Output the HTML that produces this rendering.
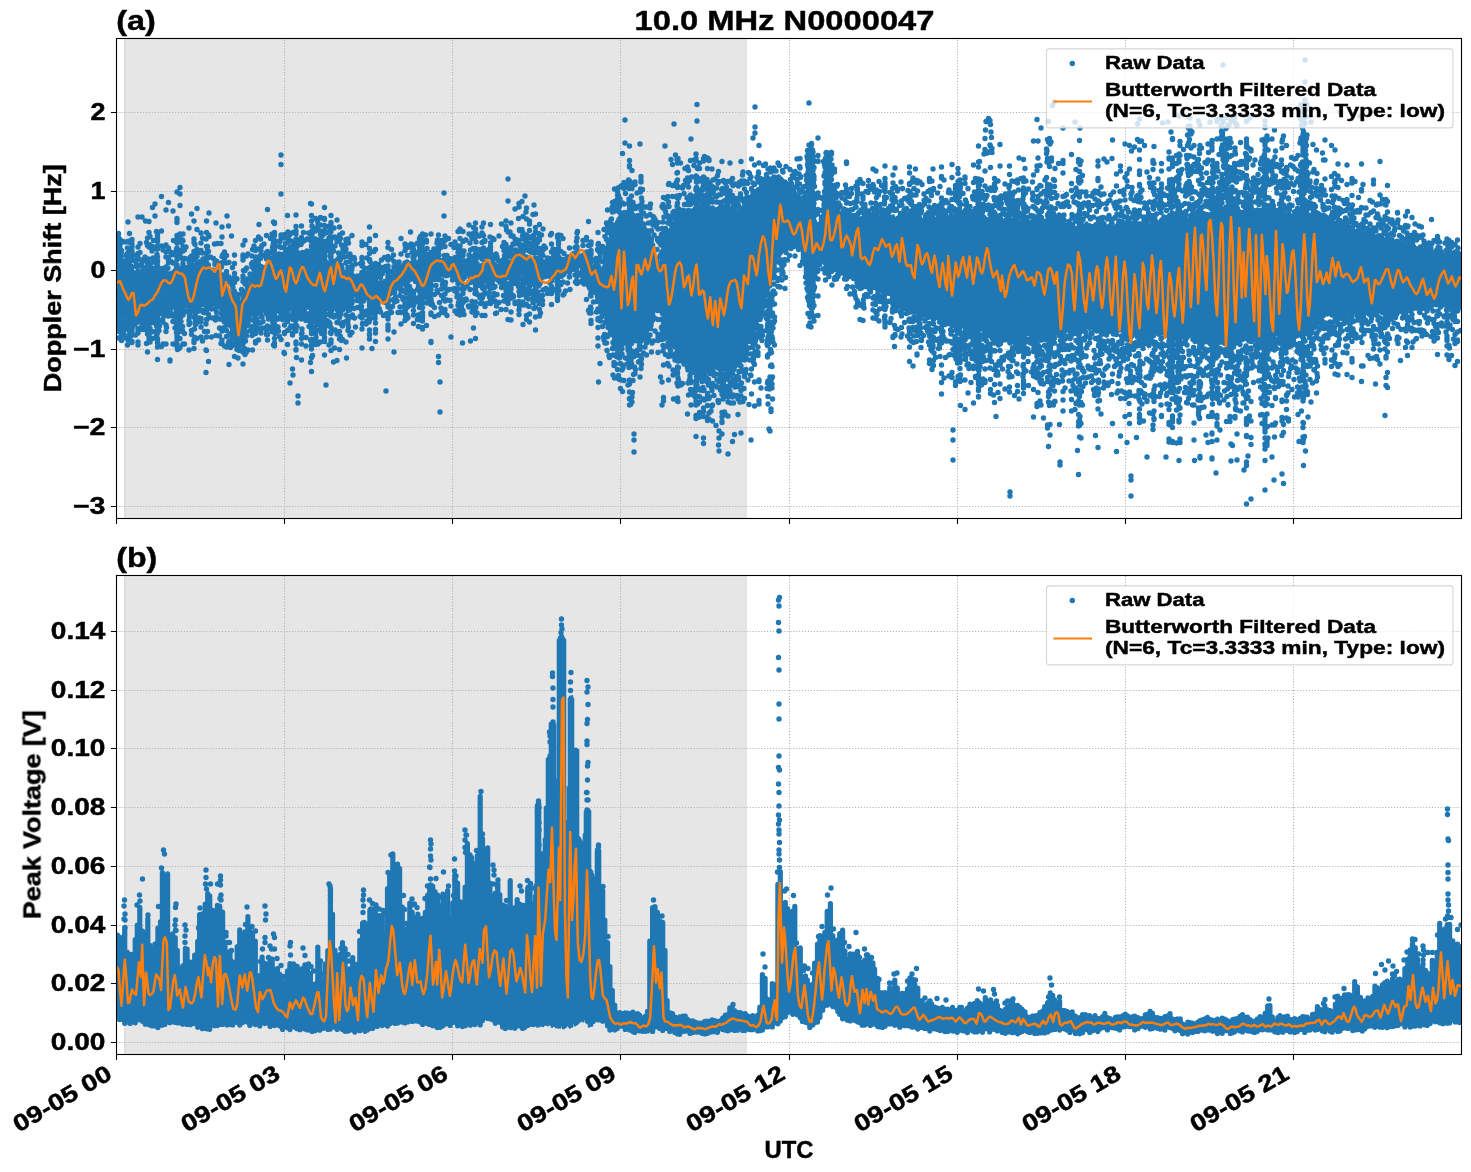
<!DOCTYPE html>
<html><head><meta charset="utf-8"><title>chart</title>
<style>html,body{margin:0;padding:0;background:#fff;overflow:hidden}svg{display:block}text{font-family:"Liberation Sans",sans-serif;font-weight:bold;fill:#000;stroke:#000;stroke-width:0.45px}</style></head>
<body><svg width="1471" height="1172" viewBox="0 0 1471 1172">
<rect width="1471" height="1172" fill="#fff"/>
<rect x="124" y="38.5" width="622.5" height="480.0" fill="#e6e6e6"/>
<rect x="124" y="38.5" width="1.5" height="480.0" fill="#dedede"/>
<rect x="745.7" y="38.5" width="0.9" height="480.0" fill="#dcdcdc"/>
<rect x="124" y="575.5" width="622.5" height="479.0" fill="#e6e6e6"/>
<rect x="124" y="575.5" width="1.5" height="479.0" fill="#dedede"/>
<rect x="745.7" y="575.5" width="0.9" height="479.0" fill="#dcdcdc"/>
<path d="M284.5 518.5V38.5M452.5 518.5V38.5M620.5 518.5V38.5M789.5 518.5V38.5M957.5 518.5V38.5M1125.5 518.5V38.5M1293.5 518.5V38.5M116.5 112.5H1461.5M116.5 191.5H1461.5M116.5 270.5H1461.5M116.5 349.5H1461.5M116.5 427.5H1461.5M116.5 506.5H1461.5M284.5 1054.5V575.5M452.5 1054.5V575.5M620.5 1054.5V575.5M789.5 1054.5V575.5M957.5 1054.5V575.5M1125.5 1054.5V575.5M1293.5 1054.5V575.5M116.5 631.5H1461.5M116.5 690.5H1461.5M116.5 748.5H1461.5M116.5 807.5H1461.5M116.5 866.5H1461.5M116.5 925.5H1461.5M116.5 983.5H1461.5M116.5 1042.5H1461.5" stroke="#b0b0b0" stroke-width="1.1" stroke-dasharray="1.1 1.83" fill="none"/>
<clipPath id="ct"><rect x="116.5" y="38.5" width="1345.0" height="480.0"/></clipPath>
<clipPath id="cb"><rect x="116.5" y="575.5" width="1345.0" height="479.0"/></clipPath>
<g clip-path="url(#ct)" fill="none" stroke-linecap="round" stroke-linejoin="round">
<path d="M117.5 265.9V307.5M119 269.6V308.2M120.5 268V310.2M122 266.9V311.1M123.5 270.4V314.1M125 268.1V312.4M126.5 268.9V316.7M128 273.4V313.4M129.5 276V320.2M131 274.8V319.4M132.5 272.3V316M134 274.9V316M135.5 273.1V316.8M137 272.5V317.8M138.5 275.2V319.8M140 276V318.2M141.5 276.2V318.1M143 276.2V315.5M144.5 279.8V319.5M146 279.1V317.4M147.5 276.3V314.3M149 276.4V313M150.5 279.6V314.7M152 280.4V314.3M153.5 281.1V316.7M155 275.1V312.2M156.5 280.2V313.2M158 280.3V312.2M159.5 274.6V313M161 278.5V310.2M162.5 274.1V310M164 279V311.9M165.5 273.7V308.3M167 273.3V306.5M168.5 277.1V306.6M170 275.4V307.7M171.5 272.9V308.8M173 272.2V307.6M174.5 271.8V305.7M176 272.1V304.2M177.5 276.4V306.8M179 272.1V306.7M180.5 271.2V303.1M182 274.8V304M183.5 270V305.5M185 270.3V300.5M186.5 273.4V300.4M188 270.2V298.2M189.5 268.7V300.7M191 269.3V300.2M192.5 269.8V298.7M194 273V298.3M195.5 270.4V300M197 268.2V295.6M198.5 272.9V299.6M200 269.2V295.8M201.5 272.5V300.3M203 269.5V300.4M204.5 273.9V298.3M206 271.5V295.3M207.5 269.5V300.4M209 271V298.9M210.5 271.4V299.6M212 273.7V296.4M213.5 271.5V299M215 271.1V296M216.5 274.4V299.8M218 276.1V297.8M219.5 280.4V300.4M221 277.5V303.8M222.5 282.6V305.5M224 283.5V310.4M225.5 288.4V311.9M227 289.6V319.5M228.5 295.8V321.1M230 296.6V323.7M231.5 295.5V324.1M233 297.1V333.1M234.5 303.4V337.1M236 301.6V338.9M237.5 306.6V343.2M239 306.8V346.9M240.5 302.4V339.7M242 303.3V337.4M243.5 300.3V331.7M245 297.7V328.4M246.5 292V322.6M248 292.3V319.2M249.5 286.4V314.2M251 286.1V308.4M252.5 282.6V305.5M254 280.8V306.9M255.5 276.3V307.1M257 280.3V308.5M258.5 277.2V305.6M260 275.7V306.7M261.5 272.5V308.3M263 268.8V307.7M264.5 267V306.8M266 268.2V304.6M267.5 268V306.2M269 266V308.8M270.5 262.4V303.3M272 261.1V307.3M273.5 259.4V304.3M275 263.2V307.2M276.5 260.1V308.6M278 259V307.2M279.5 257.9V305.8M281 261.2V308.7M282.5 261.2V305.5M284 259.1V305.1M285.5 256V306.2M287 259.8V308.3M288.5 258.7V308.9M290 255.7V304.3M291.5 256.7V305.1M293 255.3V306.2M294.5 257.8V306.9M296 255.9V309.2M297.5 259.9V307.2M299 254.5V304.9M300.5 259.3V305.2M302 258.3V308.6M303.5 255.9V310.2M305 254.1V306.5M306.5 256.7V306.1M308 259V307.6M309.5 254.9V306.7M311 257.8V309.4M312.5 257.8V310.9M314 258.9V313M315.5 258.1V308.7M317 257.4V308.3M318.5 255.4V309.7M320 260.3V307.6M321.5 258.4V308.2M323 261.7V308.9M324.5 262V309.9M326 261.4V309.8M327.5 265.2V305.2M329 266.2V308.6M330.5 262.1V306.6M332 265.8V309M333.5 265.1V306.4M335 268.8V307.1M336.5 270V304.3M338 269V302M339.5 270.1V304.9M341 270.4V303.6M342.5 268.6V303.9M344 273.9V303.6M345.5 272V301.8M347 271.5V301.7M348.5 275.4V297.6M350 271.6V297.4M351.5 275.1V299.3M353 275.5V294.8M354.5 278.2V295M356 278.9V295.7M357.5 276.8V299.4M359 276.4V295.6M360.5 279.4V299M362 282.1V298.8M363.5 283.5V297.6M365 284.3V295.2M366.5 280.6V297.8M368 281.8V299M369.5 284.5V298M371 286.2V298.5M372.5 283.5V297.6M374 287.2V301M375.5 283.9V300.9M377 288.1V298.6M378.5 285V295.9M380 284V296.9M381.5 283.7V293.3M383 285.1V295.5M384.5 280.9V296.5M386 281.2V293.9M387.5 281.2V290.6M389 279.5V291.9M390.5 281.3V294.2M392 276.4V290.7M393.5 274.7V289.7M395 277.9V291.7M396.5 274.8V287.3M398 272.1V288.2M399.5 275.5V284.4M401 273.6V282.9M402.5 269.1V283.3M404 271.1V282.9M405.5 268.1V283.9M407 265.6V283.7M408.5 264.7V281.5M410 264.3V278.8M411.5 265.5V279.6M413 264.3V278.9M414.5 264.8V276.9M416 262.5V279.2M417.5 264.7V278.1M419 265.6V278.1M420.5 265.2V275.3M422 264.1V278.3M423.5 264.7V274.8M425 260.7V278M426.5 259.8V277.9M428 263.4V272.2M429.5 259.1V275.3M431 258.8V271M432.5 262V272.7M434 261.8V270.9M435.5 259.5V274.3M437 257.2V271.4M438.5 261.1V275.6M440 262.9V270.9M441.5 260.1V274.7M443 260.1V274.3M444.5 258.2V270.6M446 257.7V270.4M447.5 260.4V273.3M449 260.5V271.1M450.5 258.2V271.4M452 262.1V276.1M453.5 262.7V270.8M455 257.8V276.2M456.5 260.5V275.4M458 260V273.9M459.5 261.4V274M461 262.2V271.8M462.5 263.1V277.1M464 260.3V275.1M465.5 263.9V275.1M467 261V273.9M468.5 263.2V273.3M470 265.8V278.3M471.5 264.9V279M473 264.8V276.6M474.5 264.9V277.5M476 267.4V279.4M477.5 263.3V280.1M479 266.4V279.4M480.5 267V277.3M482 267.7V280.2M483.5 266.7V279.7M485 267.3V277.6M486.5 267.3V275.7M488 265.2V278.2M489.5 263.4V277.6M491 267.4V279.3M492.5 265.1V281.3M494 267.9V277.8M495.5 268.1V279.3M497 267.1V278M498.5 269.4V279.1M500 267.1V279.4M501.5 268.3V274.6M503 265.6V278.5M504.5 263V276.1M506 261.2V274.4M507.5 262.7V273.4M509 261.4V277.9M510.5 262.7V275.1M512 264.7V275.1M513.5 264.4V275.1M515 262.8V271.3M516.5 261V275M518 257.4V275.8M519.5 258.3V273.1M521 258.5V273.4M522.5 261.4V270.9M524 263.6V273.1M525.5 261.3V274.3M527 260.5V272.5M528.5 262.4V274.3M530 260.4V275.3M531.5 260.7V271.2M533 260.6V271.5M534.5 260.3V275.8M536 261.9V276.8M537.5 264.2V271.8M539 265.9V277.3M540.5 260.7V277M542 263.1V274.5M543.5 266.7V273M545 264.3V277.2M546.5 265.8V274.4M548 267.6V276.5M549.5 265.7V272.3M551 266.1V274.3M552.5 263.9V271.9M554 266.1V272.3M555.5 265.9V275.6M557 266.3V273.1M558.5 267.4V274.1M560 268.8V274.7M561.5 269.5V276.7M563 267V271.5M564.5 262.2V274.5M566 265.3V272.1M567.5 261.7V269.1M569 262.7V270M570.5 261.1V269.5M572 261.1V266M573.5 257V269.8M575 260V268.3M576.5 253.8V262.6M578 254.8V264.6M579.5 258.1V264.4M581 258.9V266M582.5 257.4V271.3M584 261.4V272.8M585.5 261.6V273.7M587 262V274.9M588.5 266.7V280.1M590 264.2V278M591.5 270.1V283.3M593 270.6V283.8M594.5 269.3V287.1M596 272.4V290.8M597.5 272.2V297.5M599 271V297.8M600.5 271.2V306.1M602 270.1V305.8M603.5 267.7V312M605 256.6V312.8M606.5 248.5V320.7M608 242.2V323.4M609.5 239.8V324M611 233.4V329.5M612.5 229.6V329.4M614 230.5V333.7M615.5 224.8V332.4M617 222.2V337.9M618.5 219.3V336.3M620 218.4V341M621.5 219.4V343.4M623 219.3V340.3M624.5 218.7V339.5M626 215.8V340.1M627.5 219.5V343.1M629 215.3V339.9M630.5 216.1V339.9M632 216.2V340M633.5 215V341.1M635 218.6V341M636.5 218.9V341.1M638 216.2V341.5M639.5 223V336.9M641 220.4V336.6M642.5 226.1V335.2M644 231.2V333.9M645.5 232.8V328.7M647 233.8V331.3M648.5 233.6V325.4M650 240.1V328.6M651.5 238.7V325.3M653 244.8V320.7M654.5 257.1V308.5M656 263.7V302.4M657.5 271.5V296.3M659 268.2V296.4M660.5 264.3V305.7M662 252.6V313.7M663.5 245.1V323.6M665 237.5V330.6M666.5 234.3V335.4M668 232.5V338.8M669.5 230.4V341.9M671 229.3V343M672.5 224.7V346M674 224.5V346.8M675.5 220.3V347.7M677 220.3V355.4M678.5 216.1V353M680 213.2V357.1M681.5 213.3V361M683 211.7V357.4M684.5 211.9V359.8M686 215.6V357.4M687.5 211.2V359.5M689 214.1V362.5M690.5 210.6V358.1M692 211.3V359.1M693.5 211.5V362.5M695 213.4V359.9M696.5 210.8V360.6M698 210.6V363.9M699.5 211.4V363M701 214.5V363M702.5 211.1V365.8M704 215.1V362.9M705.5 212.9V367M707 212.5V362.9M708.5 209.9V367.6M710 214.4V364.6M711.5 212.7V365.8M713 211.2V369M714.5 213.5V364.9M716 209.6V366.3M717.5 211.8V368.2M719 213.8V367.1M720.5 210.5V364.4M722 211.5V365M723.5 214.8V366.6M725 213.4V369.4M726.5 211.2V366.7M728 210.5V368.1M729.5 209.6V368.4M731 214.6V368.4M732.5 210.1V365.1M734 213.9V364M735.5 212.5V366.3M737 214.3V364.9M738.5 212.2V360.2M740 210.3V357.9M741.5 209.5V352.9M743 207.5V350.6M744.5 204.3V349.5M746 200.5V348.4M747.5 199.9V342.2M749 197V339.2M750.5 197.8V338.7M752 195.7V335.5M753.5 192.8V330.2M755 193.9V328.6M756.5 195.1V321.8M758 189.2V315.1M759.5 192.4V309.3M761 183.5V312.6M762.5 179.2V310.8M764 182.9V301.1M765.5 180.8V296.6M767 179.1V293.1M768.5 178.6V286.9M770 179.2V283.8M771.5 178.4V276M773 181.2V271.8M774.5 182.5V268.2M776 181.2V261.8M777.5 181.8V255.4M779 177.8V250.8M780.5 182V253.5M782 180V250.7M783.5 185V250.8M785 181.5V247.6M786.5 182.9V246M788 185.4V244.7M789.5 189.5V245.8M791 188V246.1M792.5 191.2V246.7M794 191.1V243.7M795.5 193.6V241.9M797 195.7V246M798.5 201.5V246.5M800 201.8V245.4M801.5 197.4V249.5M803 198.2V258.6M804.5 195.6V264.2M806 196.8V273.9M807.5 197.5V280M809 192.3V288.1M810.5 195.5V294M812 198.3V291M813.5 207V284.3M815 222.1V275.1M816.5 230.5V269.1M818 231.6V264.4M819.5 228.2V259.3M821 218.9V259M822.5 215.9V261.1M824 208.4V261.9M825.5 202.6V258.5M827 195.2V260.9M828.5 191.1V260.4M830 196.6V260.2M831.5 199.7V260.2M833 204.8V266.4M834.5 207.2V265.8M836 206.1V269M837.5 210.1V271.2M839 212.6V271M840.5 216.1V269.5M842 214.3V269.7M843.5 211.2V271.1M845 216.9V276.5M846.5 214.9V273.5M848 214.9V276.9M849.5 213.1V276.9M851 220.1V269.7M852.5 216.6V273.1M854 216.3V273.4M855.5 218.9V272.8M857 218.7V274.1M858.5 218.9V275.3M860 219.3V274.4M861.5 219.4V275.8M863 221.1V279.4M864.5 218.1V279.1M866 219V281.6M867.5 219.8V282.8M869 218.1V285.1M870.5 220.1V285.1M872 217.5V283.4M873.5 218.4V287M875 218.1V285.6M876.5 217.5V288.7M878 216.8V284.4M879.5 219.2V290.3M881 219.2V289.3M882.5 219.2V288.4M884 218.3V287.8M885.5 215.6V290.8M887 217.9V291.2M888.5 215.3V293.8M890 218.2V291.8M891.5 217V293.5M893 216.6V292.3M894.5 220.7V298.4M896 219.3V298.5M897.5 218V298.9M899 216.8V299.3M900.5 219V301M902 216.2V301.1M903.5 216.5V300.3M905 221.5V297.8M906.5 217.3V300.4M908 217.9V299.7M909.5 221.4V305M911 218.5V303M912.5 219.7V301.9M914 216.4V307.7M915.5 218.2V306.1M917 222V309.7M918.5 219.3V305.8M920 218.3V310.9M921.5 222V307.3M923 221.7V309M924.5 219.6V308.6M926 222.1V314.3M927.5 218.1V312.7M929 218V314.8M930.5 217.1V310.8M932 221.2V312.6M933.5 222.2V316.5M935 221.1V312.7M936.5 221V318.1M938 219.5V313.6M939.5 218.2V315.6M941 221.1V315.5M942.5 217.9V316.3M944 220.8V320.3M945.5 219.1V320.1M947 222.2V320.3M948.5 218.2V319.1M950 222.4V321.9M951.5 218.5V322.4M953 217.4V325M954.5 219.5V322.9M956 220V320.6M957.5 220.4V322.6M959 218.4V326.3M960.5 217.4V323.8M962 221.4V324.2M963.5 218.5V326.6M965 218V329.3M966.5 222.8V324.7M968 219.6V329.6M969.5 219.2V331.1M971 220V326.9M972.5 220.4V330M974 219.3V330.4M975.5 221.9V329.9M977 220.3V332.1M978.5 221.4V330.5M980 223.1V328.7M981.5 222.2V329M983 221.2V329.7M984.5 220.3V333.2M986 222.4V333.6M987.5 219.2V332.1M989 219.2V332.9M990.5 220.9V330M992 221.6V334.3M993.5 221.5V335.6M995 219.2V331.6M996.5 218.3V333.9M998 220.9V333.9M999.5 220V336.4M1001 218.9V337.3M1002.5 221.9V335.4M1004 223.4V333.9M1005.5 219.6V334.6M1007 219V334.9M1008.5 222.6V336.5M1010 220.5V337.2M1011.5 219.5V338.9M1013 220.2V335.4M1014.5 220.2V337.8M1016 224.4V338.3M1017.5 219.9V335.9M1019 221.9V334.5M1020.5 225.7V333.3M1022 223V337.5M1023.5 226.1V333.7M1025 223.1V337.1M1026.5 220.7V333.9M1028 226V333.2M1029.5 223.1V334M1031 223.5V332.5M1032.5 221.3V337.9M1034 225.8V336.1M1035.5 222.8V333.1M1037 224.8V332.9M1038.5 224.4V336.9M1040 224V333.2M1041.5 227.9V334.7M1043 222.4V333.3M1044.5 226.2V331M1046 224.5V334.7M1047.5 227.8V333.9M1049 228V333M1050.5 225.2V335.1M1052 225.3V334.6M1053.5 224.5V331.9M1055 224.4V332.9M1056.5 224.3V330.7M1058 224.6V332.1M1059.5 225.1V331.9M1061 229.2V333.1M1062.5 228.5V330.1M1064 225.6V329.2M1065.5 227.4V330.8M1067 224.9V328.6M1068.5 224.4V329.9M1070 225.6V333.7M1071.5 227.6V329.6M1073 225.4V328.8M1074.5 228.9V329.8M1076 227.9V331.9M1077.5 228.7V327.5M1079 225.2V329.5M1080.5 223.8V332.4M1082 225.2V331.6M1083.5 226.4V327.1M1085 225.6V328.1M1086.5 223.5V327.4M1088 226.9V326.5M1089.5 225.2V328.7M1091 226.5V326.9M1092.5 227.5V327.5M1094 227.6V329.7M1095.5 224.2V326.8M1097 225V329.7M1098.5 225.7V327.8M1100 228.5V327M1101.5 225V327.9M1103 224.6V326.2M1104.5 223.4V329.9M1106 226.7V331.1M1107.5 229.1V328.2M1109 227.3V332.1M1110.5 224.6V330.8M1112 227.3V332.6M1113.5 228.5V328.4M1115 227.1V327.7M1116.5 225.8V329.7M1118 223.6V329.8M1119.5 225.2V330.6M1121 225V328.7M1122.5 225.7V330.8M1124 224.3V332.1M1125.5 224.7V328.8M1127 225.3V330.9M1128.5 224.2V332M1130 227.5V332M1131.5 227.5V328.9M1133 225.6V331.1M1134.5 223.7V331.5M1136 223.6V332.2M1137.5 226.8V332.2M1139 225.2V331.1M1140.5 223.4V331.8M1142 228.5V333.3M1143.5 224.5V334M1145 223.9V333M1146.5 226.4V336M1148 224.7V333.9M1149.5 228V335.2M1151 226V334.5M1152.5 224.5V333.4M1154 223.6V336M1155.5 227V333.5M1157 227.1V331.6M1158.5 222.3V334.6M1160 223.2V333.8M1161.5 227V332.7M1163 222.2V333.3M1164.5 224.9V333.5M1166 220.7V335.5M1167.5 222.9V333.8M1169 223.4V336.5M1170.5 223.5V336.5M1172 223.5V337.8M1173.5 225.8V335M1175 221.9V338.5M1176.5 221.5V337.6M1178 223.7V337.6M1179.5 225.1V338.6M1181 220.2V337.5M1182.5 222V337.3M1184 221V335.8M1185.5 222.8V337.4M1187 219.3V335.9M1188.5 219.4V335.6M1190 220V335.4M1191.5 216.9V335.2M1193 216.7V339.2M1194.5 216.3V337.8M1196 219.8V338.1M1197.5 215.7V340.6M1199 219.5V335.9M1200.5 215.3V338.8M1202 218.1V338.2M1203.5 217.2V337.5M1205 216.7V338.1M1206.5 214V340.9M1208 216.6V341.4M1209.5 214.5V339.1M1211 214.9V340.5M1212.5 215.2V341.7M1214 210.5V339.3M1215.5 213.3V338.6M1217 210V337.4M1218.5 211.9V343.2M1220 213.8V338.5M1221.5 211.6V340.3M1223 210.8V340.3M1224.5 212.2V344M1226 206.4V342.5M1227.5 207V338.4M1229 208.1V342.4M1230.5 212.5V338.6M1232 208.7V337.8M1233.5 210.1V340.4M1235 209.3V339.2M1236.5 212V342.3M1238 209V339.4M1239.5 211.2V341.5M1241 213.5V339.1M1242.5 211.9V339.9M1244 212.7V337.4M1245.5 209.1V337M1247 213.8V337.7M1248.5 211.3V336.8M1250 210.5V336M1251.5 212.1V336.6M1253 212.6V337.2M1254.5 210.3V338.3M1256 211.3V336.8M1257.5 209.6V335.5M1259 214.8V336.8M1260.5 210V335.9M1262 212.6V340.7M1263.5 211.1V339.7M1265 212.9V336.9M1266.5 215V336.6M1268 210.7V337.4M1269.5 214.4V337.7M1271 212.1V339.4M1272.5 215.6V339.6M1274 213.1V338.5M1275.5 214.8V334.4M1277 210.6V334.2M1278.5 211.1V333.5M1280 212.6V337.4M1281.5 212.3V335.8M1283 210.5V333.8M1284.5 216.2V332.5M1286 213.6V337.1M1287.5 215.2V336.5M1289 212.8V336.8M1290.5 215.4V336.4M1292 216.3V332.3M1293.5 216.1V333.9M1295 214.6V332.9M1296.5 215.9V331.4M1298 213.9V332.4M1299.5 212.7V333.1M1301 214.4V335.6M1302.5 212.6V334.5M1304 212.5V332.2M1305.5 215.8V332.3M1307 211V332.2M1308.5 214.9V331.3M1310 214.9V333.2M1311.5 214.5V330.8M1313 211.4V328.7M1314.5 213.4V327.9M1316 211.8V325.9M1317.5 214.7V322.3M1319 216V323.6M1320.5 214.5V320.6M1322 215.7V317.4M1323.5 214.9V316.3M1325 217.4V314M1326.5 216.8V310.7M1328 220.3V309.3M1329.5 218.4V312.3M1331 223.1V310.2M1332.5 219.1V310.4M1334 224.6V309.1M1335.5 223.1V310.5M1337 223.8V309.5M1338.5 224.3V313.6M1340 226.4V312M1341.5 224.9V311.6M1343 223.2V313.3M1344.5 227.3V311M1346 227.8V310.8M1347.5 226.7V309.6M1349 228.7V311.7M1350.5 228.8V308.4M1352 230.1V310.9M1353.5 230.6V311.8M1355 233.2V309.2M1356.5 230.9V314.2M1358 233V310.1M1359.5 233.4V314.2M1361 231.8V313.4M1362.5 230.6V314.2M1364 233.3V309.6M1365.5 235.8V312.1M1367 236.9V313.2M1368.5 236.5V311.3M1370 238.1V308.6M1371.5 237.8V312.5M1373 234.5V313.1M1374.5 236.2V311.5M1376 239.1V309.4M1377.5 236.1V312.1M1379 235.3V311.6M1380.5 240V311.2M1382 237.2V313M1383.5 241.3V312.9M1385 239.9V313.7M1386.5 241.9V309.2M1388 239.7V308.8M1389.5 238.2V310.3M1391 243.6V313.2M1392.5 239.6V309.3M1394 241.7V313.3M1395.5 243.5V313.7M1397 240.7V314.2M1398.5 241.9V311.9M1400 246.4V312.1M1401.5 242.8V311.5M1403 244.6V307.3M1404.5 244.5V308.8M1406 246.7V308.3M1407.5 247V310.4M1409 244.9V306.7M1410.5 248.4V308.5M1412 245.5V306.1M1413.5 250.8V308.7M1415 247.8V306M1416.5 252V308.6M1418 250.9V306.3M1419.5 248.8V306.3M1421 248.2V307.5M1422.5 250.2V308.4M1424 250.5V306M1425.5 251.4V308.7M1427 250.8V307.1M1428.5 250.5V306.1M1430 251.2V307.7M1431.5 251.6V307.3M1433 254.3V304.7M1434.5 256.2V304.1M1436 255.4V305.2M1437.5 254V301.8M1439 254.2V302.9M1440.5 254.7V306.7M1442 254.1V305.1M1443.5 256.6V302.5M1445 255.3V301.8M1446.5 258.5V302.6M1448 255.9V303.2M1449.5 258.6V306.3M1451 257.5V304.5M1452.5 254.9V306.6M1454 255.1V303.5M1455.5 257.1V305.7M1457 259.1V303.4M1458.5 260.8V307.1M1460 255.8V305.2" stroke="#1f77b4" stroke-width="4.5"/>
<path d="M117.5 255h0m0 58.5h0m0.5 7.5h0m0 9h0m0-64h0m0 47.5h0m0-57h0m0 52h0m0-43h0m0 49.5h0m0-49h0m0-21h0m0 17h0m0.5-10h0m0 15.5h0m0-14h0m0 55h0m0-43h0m0 50h0m0-7.5h0m0 6.5h0m0-61h0m0 61h0m0-58.5h0m0 51.5h0m0 4h0m0 7h0m0 11h0m0-2.5h0m0-9h0m0-69h0m0 64h0m0-54.5h0m0-2.5h0m0 52h0m0-44h0m0-10h0m0 61h0m0-6h0m0 4.5h0m0-80h0m0 0.5h0m0 3.5h0m0 3h0m0 1.5h0m0 0.5h0m0 1h0m0 94.5h0m0-73.5h0m0-3h0m0 53.5h0m0-68h0m0 4.5h0m0 13h0m0 59h0m0 5h0m0-12h0m0-4h0m0-45h0m0 43.5h0m0 0.5h0m0 4.5h0m0-49.5h0m0 60h0m0-66.5h0m0-7.5h0m0 65h0m0-55h0m0 69h0m0-73h0m0 58h0m0-66.5h0m1.5 12h0m0 48h0m0 0.5h0m0 21h0m0-3h0m0-61h0m0-21.5h0m0-6.5h0m0 85.5h0m0-10.5h0m0-66h0m0 7.5h0m1 63h0m0-56.5h0m0-6h0m0.5 60h0m0 5h0m0-0.5h0m0 0.5h0m0-60h0m0 6h0m0-26.5h0m0 1.5h0m0 98h0m0-24.5h0m0-65.5h0m0 69.5h0m0 9.5h0m0-66h0m0 5.5h0m0 66.5h0m0-83.5h0m1.5 70h0m0-60h0m0 63.5h0m0-84h0m0 20h0m0 60h0m0.5-60.5h0m0 72.5h0m1-66.5h0m0 49.5h0m1 12.5h0m0-59.5h0m0.5 68.5h0m0-23h0m0-49h0m0-24h0m0 22h0m0 63.5h0m0-72h0m0.5 60h0m0-47h0m1 4h0m0-24.5h0m0 15h0m0-9.5h0m0 2.5h0m0-14.5h0m0 103.5h0m0-86h0m0 3h0m0.5 62h0m0-4h0m0-3h0m0 4h0m0 5h0m0 0h0m0 14h0m0-118h0m0.5 103.5h0m0-53.5h0m0 55.5h0m0-64h0m0.5 71.5h0m0-4.5h0m0-81h0m0 18.5h0m0-4h0m0 66h0m0-60.5h0m0 51.5h0m0 5.5h0m0.5-69.5h0m0-23.5h0m0 7.5h0m0 96.5h0m0-63.5h0m0 47h0m0-1.5h0m0-57h0m0.5 64h0m0-58.5h0m0 49.5h0m0 9.5h0m0-78.5h0m0 85h0m0-85h0m0-6h0m0.5 9.5h0m0 16h0m0 68.5h0m1-77h0m0 13.5h0m0-13.5h0m0 9h0m0-2h0m0-6h0m0 60.5h0m0.5-70h0m0 68.5h0m0-68.5h0m0 2.5h0m0 18h0m0 52h0m0 4.5h0m0-88.5h0m0 0.5h0m0 84.5h0m0 18h0m0-7.5h0m0-11.5h0m0-48.5h0m0-16h0m0-15h0m0 3h0m0 83.5h0m0-8.5h0m0 19.5h0m0-69.5h0m0 0h0m0 52h0m0-4.5h0m0-47h0m0.5 54.5h0m0.5-4.5h0m0.5-67.5h0m1.5 62.5h0m0-43.5h0m0 50.5h0m0-63.5h0m0.5 60h0m0 14h0m0.5-72.5h0m0.5 60.5h0m0-56.5h0m0.5 54h0m0.5-44.5h0m0-18h0m0.5 60h0m0-101h0m0 30h0m0 98h0m0-87.5h0m0 71.5h0m0-71.5h0m0 74.5h0m0-78.5h0m0 77.5h0m0 2h0m0-59.5h0m0 46.5h0m0 22h0m0-71h0m0 1h0m0 47h0m0.5 0.5h0m0-60.5h0m1.5 62h0m0-68.5h0m0 20.5h0m0-7.5h0m0 63h0m0-85h0m2 22.5h0m0-6h0m0 66h0m0-2.5h0m0-6.5h0m0-45.5h0m0-10h0m0-44.5h0m0 103h0m0-47.5h0m0 45.5h0m0.5-56.5h0m0 68h0m0.5-61h0m0.5 49h0m1.5 12h0m0-72.5h0m0 17h0m0 49h0m0-50.5h0m0 55.5h0m0.5-59h0m0-48h0m0 101h0m0-52.5h0m1 49h0m0-57.5h0m0-18.5h0m0 101h0m0-76h0m0 54h0m0-47h0m0 52h0m1-60h0m0 67.5h0m0-71h0m0 63.5h0m0-7h0m0-81.5h0m0 7.5h0m0 106.5h0m0-90.5h0m0 65.5h0m0-60h0m0.5 7h0m0 43.5h0m0-55.5h0m0.5 14h0m0-2h0m0-2.5h0m0 46.5h0m0-59h0m0 58h0m0-53h0m0 14h0m0 41.5h0m0-1.5h0m0 13h0m0-9h0m0.5-50.5h0m0-50h0m0 11h0m0 0h0m0 12h0m0 2.5h0m0 93.5h0m0-3h0m0-72.5h0m0 61h0m0-58h0m0 4h0m0 1h0m0 51.5h0m0-9.5h0m0-41.5h0m0 63h0m0-11h0m0-62h0m0.5 14.5h0m0.5-14h0m0 6h0m0-6h0m0 9h0m0 1h0m0-9h0m0 63.5h0m0-92h0m0 8.5h0m0 1h0m0 96h0m0-9h0m0-57h0m0 46h0m0 1h0m0-4h0m1.5-43.5h0m0 43h0m0.5-67.5h0m0.5 80.5h0m0-124h0m0 39h0m0 92h0m0.5-80.5h0m0 10.5h0m0 50h0m0-46.5h0m0 50.5h0m0.5-2h0m0-80h0m0 76h0m0-54.5h0m0 9h0m1 43.5h0m0.5-36.5h0m0-74h0m0 12h0m0.5 59.5h0m1 60h0m0-57.5h0m0-19h0m0 15.5h0m0 42.5h0m0 7h0m0 1h0m0 1h0m0-59h0m0-35.5h0m0 17.5h0m0 88.5h0m0.5-83h0m0 76h0m0-59h0m0-3h0m0 9.5h0m0-9.5h0m0 6.5h0m0-0.5h0m0-9h0m0 9.5h0m0 59h0m0-79h0m0 20.5h0m0-13.5h0m0 15.5h0m0 54h0m0-73.5h0m0 3.5h0m0 8h0m0 48.5h0m0.5-51h0m0 56h0m0-89h0m0 1.5h0m0 2h0m0 1.5h0m0 2.5h0m0 0h0m0 4.5h0m0 1h0m0 2h0m0 89.5h0m0 2.5h0m0 2h0m0 4h0m0 12.5h0m0-43h0m0-39.5h0m0 49h0m0-65h0m0 64.5h0m0-7h0m0 3h0m0-55.5h0m0 62h0m0-66h0m0 56.5h0m0 7.5h0m0-65.5h0m0 56h0m0-4h0m0-55.5h0m0 75.5h0m0 0.5h0m0-19h0m0 13h0m1-1.5h0m0-52.5h0m0.5-3.5h0m0 61h0m0-58.5h0m0.5 54h0m0-48h0m0.5 35.5h0m0.5-38h0m1 37h0m0 8h0m0-124h0m0 34.5h0m0 15h0m0 100.5h0m0-69.5h0m0 36h0m0.5-37h0m0 35.5h0m0-34.5h0m0-8.5h0m0.5 51h0m0.5-72h0m0 96.5h0m0-22h0m0-50h0m0-22h0m1 19.5h0m0 46.5h0m0-47.5h0m0.5 47.5h0m1.5 9h0m0-49h0m0-19h0m0 19h0m0-24h0m0-42h0m0 35h0m0 99h0m0-29.5h0m0 17h0m0-64.5h0m0 42.5h0m0.5-0.5h0m0-36h0m0 54.5h0m1-18h0m0.5-41.5h0m0.5 46.5h0m0 1.5h0m0-113.5h0m0 45.5h0m0 11.5h0m0 3h0m0 52.5h0m0-41h0m0.5 35.5h0m0.5-35h0m0.5 85.5h0m0 1h0m0.5-45.5h0m0-63.5h0m0.5 3h0m0 58.5h0m0-52h0m0.5 53.5h0m1-41.5h0m0.5-10.5h0m0-52h0m0 133h0m0-28h0m0 5.5h0m0-47.5h0m0.5-19.5h0m0-1.5h0m0 62.5h0m0-75h0m0 74.5h0m0.5-41h0m0 40h0m1 14h0m0-57h0m1.5-16h0m0 17.5h0m0-23h0m0 65.5h0m0-4.5h0m0-4h0m0 26h0m0-65h0m0-0.5h0m0 3.5h0m0 53h0m0 2.5h0m0-18h0m0 17.5h0m0-16h0m0-45h0m0 1h0m0 7h0m0 36h0m0-44h0m0 0.5h0m0-16h0m0 65h0m0 12.5h0m0-56.5h0m0.5-78h0m0 26.5h0m0 2h0m0 2h0m0 13h0m0 3.5h0m0 1h0m0 1.5h0m0 1.5h0m0 94h0m0 3h0m0 4h0m0 2.5h0m0-34.5h0m0 15.5h0m0-56h0m0-6.5h0m0 54h0m0 5.5h0m0-76.5h0m0 22.5h0m0 65h0m0-2h0m0-76.5h0m0 57.5h0m0-0.5h0m0-45.5h0m0 42h0m0-51h0m0 72h0m0-63h0m0.5 81h0m0-38h0m1.5 37h0m0-96h0m0 65h0m0-1.5h0m0-61.5h0m0.5 69h0m0.5 2.5h0m0-57h0m0-12h0m0-69.5h0m0 6.5h0m0 11.5h0m0 104.5h0m0 2h0m0 18h0m0-72.5h0m0 74h0m0-18h0m0-41h0m0-38.5h0m0 4.5h0m0 3.5h0m0 96.5h0m0 9h0m0-92.5h0m0.5 62.5h0m0-5h0m0-39.5h0m0-22h0m0 80h0m0.5-80.5h0m0 71h0m1.5-54h0m0-27.5h0m0 86.5h0m0 4h0m0.5-23.5h0m0-42.5h0m0-5h0m0-8.5h0m0 64h0m0-81h0m0 7h0m0 103h0m0-38h0m0-59.5h0m0 64h0m0-47h0m0 40.5h0m0-45h0m0.5 47.5h0m0-48h0m0 43h0m1 32h0m0 10.5h0m0-94h0m0.5 8.5h0m1-11.5h0m0 64.5h0m1-8.5h0m0-35h0m0 38h0m0.5-38.5h0m1.5 57h0m0-63.5h0m0 59.5h0m0-52.5h0m0-40h0m0 122h0m0.5-43.5h0m0-0.5h0m0 11h0m0-54h0m0 52h0m0.5-57.5h0m0 65.5h0m0-13.5h0m0-39.5h0m0 41h0m1.5 19.5h0m0-69.5h0m0 5.5h0m0-52.5h0m0 120.5h0m0-78.5h0m0.5 42.5h0m0 8.5h0m0-4.5h0m0-31.5h0m0.5 34h0m1-2h0m0-45h0m0.5 58.5h0m0-5h0m0-41.5h0m0-17.5h0m0 58.5h0m0-3.5h0m0 2h0m0-58h0m0 47.5h0m0 3h0m0-32h0m0-4.5h0m0-44.5h0m0 18h0m0 3h0m0 0.5h0m0 97.5h0m0 2.5h0m0 6h0m0-83h0m0 1h0m0 4h0m0 33h0m0.5 25.5h0m0-12.5h0m0 1h0m0-6h0m0-10h0m0.5-46h0m0-11h0m0 93h0m0.5-28.5h0m0-49.5h0m0 62h0m0-5.5h0m0 8.5h0m1-17.5h0m0.5-57.5h0m0 49h0m0 9.5h0m0-99.5h0m0 21h0m0 109h0m0-82h0m0 55h0m0 10h0m0-18.5h0m0-33.5h0m0 28.5h0m0 24.5h0m0-58.5h0m0-10.5h0m0.5 11h0m1 42h0m0.5 4.5h0m0.5 7h0m0.5-46.5h0m0.5-10h0m0-9h0m0.5-2h0m0-17.5h0m0 10h0m0 94h0m0-15.5h0m0-18.5h0m0 24h0m0-60.5h0m0 33h0m0 5.5h0m0 13.5h0m0.5-50h0m0.5 42h0m0.5-9h0m0-0.5h0m0-2.5h0m0-33.5h0m0-27h0m0 103h0m0-38h0m0-50h0m0.5 17.5h0m0-11.5h0m0.5 53.5h0m1 0h0m0 19h0m0.5-61.5h0m0.5-9h0m0 44h0m0-5h0m0.5-61h0m0 111h0m0 22.5h0m0-72.5h0m0-38.5h0m0-3.5h0m0 5h0m0 46h0m0 15h0m0.5-24h0m0 12h0m0 7.5h0m0-55h0m0-11h0m0 53h0m0 6h0m0-91.5h0m0 11.5h0m0 14h0m0 90.5h0m0 13.5h0m0-43.5h0m0-36.5h0m0-7.5h0m0 2.5h0m0 42.5h0m0.5-5.5h0m0-35.5h0m0 52.5h0m0-48h0m0 30h0m0.5-1h0m0-50h0m0 58h0m0-62h0m0 85h0m0.5-34.5h0m0-39h0m0 13.5h0m0.5-20h0m0-16.5h0m0 126.5h0m0-53h0m0-8h0m0 14h0m0-49.5h0m0 36.5h0m0.5-29.5h0m0 45.5h0m0-104.5h0m0 23.5h0m0 70.5h0m1.5-50h0m0 43.5h0m0 8h0m1 0.5h0m0 28h0m0-65h0m0 32.5h0m1 13.5h0m0-48h0m1 29h0m0-40.5h0m1-14.5h0m0 57.5h0m0.5-27.5h0m0-9.5h0m0-1.5h0m0.5 57h0m0-11h0m0.5-46.5h0m0 1.5h0m0 7h0m0-48h0m0 112.5h0m0.5-74.5h0m0 51h0m0-5.5h0m0-0.5h0m0 10.5h0m1-51h0m0-22h0m0 56.5h0m1.5 2.5h0m0-26h0m0-4.5h0m0.5 64h0m0-8h0m0-53.5h0m0 44.5h0m1.5-52h0m0 38.5h0m0-62h0m0 100h0m0-37.5h0m0-43h0m0 45h0m0-31h0m0 26.5h0m0.5 10h0m0-48h0m0 53.5h0m0-52h0m0.5 8h0m0-18.5h0m0 22.5h0m0 39.5h0m0-42.5h0m0 30.5h0m0-79.5h0m0 10h0m0 103h0m0 3.5h0m0-32h0m0-6h0m0-30.5h0m0 56h0m0-51.5h0m0 33h0m0-35h0m0 31h0m1-28.5h0m0 48h0m0-45.5h0m0 32.5h0m0-60.5h0m0 57h0m0 7.5h0m0-36.5h0m0-2.5h0m1 41h0m0 9h0m0-13.5h0m0-55h0m0.5 14h0m0-13.5h0m0-10h0m0 5h0m0 89h0m0-27h0m0-33h0m0-27.5h0m0 26h0m0 32h0m0 5.5h0m1-48h0m0 47.5h0m0.5-58.5h0m0.5 14h0m0-4h0m0 43.5h0m0-61h0m0 91.5h0m0-16.5h0m0 6h0m0-65h0m0 53.5h0m0.5-109h0m0.5 62.5h0m1-52.5h0m0 65h0m0 51.5h0m0-49.5h0m0.5-16h0m0 45.5h0m0-30h0m0-30h0m0 102h0m0-82.5h0m0 11.5h0m0 31.5h0m0-48h0m0.5 64h0m0-7h0m0.5-55h0m0.5 68.5h0m1-111.5h0m0 90.5h0m0.5-41.5h0m0 52h0m0.5-5.5h0m0 14h0m0-51h0m0 1.5h0m0 37h0m0-65.5h0m0 61h0m0.5-46.5h0m0 10.5h0m0-5h0m0.5 10h0m0 45.5h0m1-1h0m0-3.5h0m0-65h0m0 9h0m0 9h0m0-9.5h0m0-27h0m0 8.5h0m0 93h0m0-79.5h0m0.5 61h0m0.5-35h0m1-24.5h0m0.5 27.5h0m0-27h0m0 23h0m0 44h0m0 3.5h0m0.5-51h0m0.5 59.5h0m0-14h0m0-49.5h0m1 56h0m0.5-43.5h0m1-4.5h0m0 39h0m1-52h0m0 46.5h0m1 9h0m0-10h0m0-42.5h0m0.5 4.5h0m0 0.5h0m0 3h0m0-6h0m0 46.5h0m0-39.5h0m0 35.5h0m0-61h0m0-31h0m0 10h0m0 2h0m0 3h0m0 104h0m0-21h0m0-52h0m0 44.5h0m0-3h0m0 11h0m0 8.5h0m0-11.5h0m0-49h0m0 3.5h0m0 1h0m0 6h0m0-8h0m0-16h0m0 3.5h0m0.5 55.5h0m0-66.5h0m0 79h0m1-1h0m0-8h0m0.5 0.5h0m0-70.5h0m0 22h0m0-52h0m0 114h0m0-58h0m0-12.5h0m0.5 57h0m0-47.5h0m1-0.5h0m0 29h0m0-29.5h0m0 39.5h0m0-10h0m0 14h0m0-56.5h0m0-23.5h0m0 96h0m0-84h0m0.5 57.5h0m0.5-46.5h0m0 8.5h0m0.5 36h0m0 2h0m0-71.5h0m0 96h0m0-34h0m0-36.5h0m0 5.5h0m0.5 34.5h0m1 0h0m0-40h0m0.5-5.5h0m0.5 56.5h0m0.5-16h0m0.5-50.5h0m0.5 71.5h0m0-68.5h0m0-11h0m0 50h0m0-25h0m0.5 45.5h0m0-77h0m0 100.5h0m0-16h0m0-55.5h0m0 31.5h0m0-47.5h0m0 65h0m0-18h0m0 10.5h0m0-41h0m0-4.5h0m0.5 1.5h0m0 51.5h0m1-63.5h0m0 10h0m0 38.5h0m0 21.5h0m0-65h0m0-23h0m0 84h0m0-22.5h0m0-38h0m0.5 60.5h0m0-51.5h0m1 39h0m0-56h0m0 51h0m0-39h0m0 32.5h0m0 14.5h0m0-6h0m0-50.5h0m0 46h0m0-1.5h0m0 22.5h0m0-59.5h0m0-31h0m0 10h0m0 91h0m0 1.5h0m0-30h0m0-6h0m0-27.5h0m0-19h0m0 62h0m0 11h0m0.5-69.5h0m0-7h0m0 50h0m0-43.5h0m0 12.5h0m0-5h0m0 7.5h0m0.5-9h0m0 60.5h0m0-64h0m0 59.5h0m0-76.5h0m0 24h0m0 5h0m0 50.5h0m0.5-61.5h0m0 63h0m0-11h0m0-12h0m0.5-43.5h0m0.5 50h0m0-51h0m0.5 9h0m0-7.5h0m0-27h0m0 103h0m0-29h0m0 11.5h0m0-15.5h0m0 3h0m0-50h0m0 51h0m0-34.5h0m0.5 32.5h0m0-43h0m0 3h0m0-44.5h0m0.5 83.5h0m1 1.5h0m0-54h0m0 50h0m0 24h0m0-6.5h0m0-64.5h0m0-19.5h0m0.5 17.5h0m0-5.5h0m0 77.5h0m0 4.5h0m0-18.5h0m0-48h0m0-19h0m1 69.5h0m0-71.5h0m1 76h0m0-52h0m1-25.5h0m0 11.5h0m0 72.5h0m0-18h0m1.5-40.5h0m0.5 40.5h0m0.5 3.5h0m0-54.5h0m0-23.5h0m0 99h0m0-78h0m0 77h0m0-3.5h0m0-77.5h0m1 73.5h0m0-67h0m0-7.5h0m0 77.5h0m0-119.5h0m0 130.5h0m0-5.5h0m0.5-79.5h0m0 3.5h0m0 58h0m0-61h0m0.5 55h0m0 8.5h0m1-61h0m0.5 57.5h0m0-3.5h0m0-59.5h0m0.5-14h0m0 21h0m0.5 68h0m1-93.5h0m0 97.5h0m0.5-20.5h0m0 10h0m0-73.5h0m0 4h0m0.5 57h0m0-72.5h0m0 75.5h0m0-66h0m0 77.5h0m0 0.5h0m0-88h0m0.5 7h0m0 18.5h0m0 59h0m0-98h0m0 123h0m0-107.5h0m0 88h0m0-8.5h0m0-59h0m0.5-3.5h0m0-2h0m0 65.5h0m0.5-10.5h0m0-52.5h0m0-6.5h0m0-4h0m0-12h0m0 24.5h0m0-21.5h0m0 78.5h0m0-54h0m0 60h0m0-63h0m0 54.5h0m0-61.5h0m0 10.5h0m0 69h0m0-21.5h0m0-85.5h0m0 0h0m0 1h0m0 115h0m0 4.5h0m0 3h0m0-111.5h0m0 80h0m0-6.5h0m0 16h0m0-9.5h0m0-68h0m0 63h0m0 8.5h0m0-6.5h0m0.5 22h0m0-24h0m0-50.5h0m0 0.5h0m0-4h0m0 70h0m1.5-20h0m0-64h0m1.5 77.5h0m0-62.5h0m0 70.5h0m0-66h0m0-2h0m0 59h0m0.5 13h0m0.5-77h0m0 0.5h0m0.5 82h0m0-90h0m0 65h0m0.5-70h0m0.5 69.5h0m0.5 5h0m0-81h0m0 78.5h0m0 26h0m0-84.5h0m0-17h0m0-83h0m0 9.5h0m0 29.5h0m0 112h0m0-58.5h0m1.5 7h0m0 65h0m1.5-8.5h0m0 41.5h0m0-114.5h0m0 67.5h0m0-50h0m0-8h0m0 58h0m0.5 48h0m0-97h0m0 68.5h0m0 8.5h0m0-99h0m0 23h0m0 75h0m0-18h0m0.5 4.5h0m0.5-67h0m0-8.5h0m0 72.5h0m1.5-59.5h0m0 52h0m0.5 22h0m0-78h0m0-3h0m0-7h0m0 71h0m0-75.5h0m0 69h0m0-56.5h0m0-35h0m0 129h0m0-34h0m0 11h0m0.5-89.5h0m0.5 98h0m1-90h0m0.5 77.5h0m0-9.5h0m0 75h0m0-65h0m0-77.5h0m0-6h0m0 93.5h0m0-80.5h0m0.5 4.5h0m0.5 74h0m1-80h0m0 61h0m0-55h0m0.5 117h0m0-34h0m0-1.5h0m0-79h0m0 60h0m0.5-61.5h0m0 61.5h0m0-82h0m0 78h0m0-56h0m0 58.5h0m0 14.5h0m0 47.5h0m0-55.5h0m0-71h0m0-7h0m0.5 64.5h0m1.5 24h0m0-83.5h0m0.5 70.5h0m0-9.5h0m0-67.5h0m0 90.5h0m0-85.5h0m0 79.5h0m0-79h0m0 61.5h0m0.5 0h0m0-50.5h0m0 74h0m0-99.5h0m0 100h0m0-85h0m0-1.5h0m0 65.5h0m0-71h0m0-5h0m0 0h0m0 20.5h0m0-28h0m0 86.5h0m0-68.5h0m0-29.5h0m0 127h0m0 2h0m0 5.5h0m0 0.5h0m0-35.5h0m0-59h0m0 64.5h0m0-0.5h0m0-0.5h0m0 6h0m0-76h0m0.5 61.5h0m0 47h0m0.5-47h0m0-64h0m0-7h0m0 2.5h0m0 84.5h0m0.5-74h0m0.5 143.5h0m0 7h0m0-85.5h0m0-61.5h0m1 57h0m0.5-58h0m0.5-0.5h0m0 53h0m1-63h0m0.5 11h0m0 78.5h0m0-94h0m0 74.5h0m0 4.5h0m0 25h0m0 16h0m0-48.5h0m0 27h0m0-112.5h0m0 81.5h0m0 0.5h0m0-70.5h0m0 16.5h0m0 3.5h0m0.5 54h0m0 17.5h0m0 4h0m0.5-80.5h0m0-10.5h0m1-9.5h0m0 80.5h0m1-3.5h0m0-69h0m1.5 97h0m0-20h0m0-64.5h0m0 2.5h0m0 90.5h0m0-25.5h0m1-81.5h0m0 12h0m0.5 63h0m1-81h0m0 18.5h0m0.5 75h0m0.5-11.5h0m0.5-59.5h0m0.5 67.5h0m0 17h0m0-27h0m0-72.5h0m0 78h0m0-115h0m0 159h0m0.5-122h0m0-5h0m0-2h0m0.5 2.5h0m0 103.5h0m0-84h0m0 57.5h0m0 11h0m0 5h0m0-88h0m0 92.5h0m0-80.5h0m0-0.5h0m0 59.5h0m0-1.5h0m0-71.5h0m0 74h0m0-66.5h0m0 85h0m0-93h0m0 15h0m0 1h0m0-9h0m0 63.5h0m0 0h0m0 18.5h0m0 2.5h0m0-20.5h0m0-54.5h0m0-51h0m0 11.5h0m0 5.5h0m0 121h0m0 0h0m0 3.5h0m0 3.5h0m0 8.5h0m0 14h0m0-55h0m0 1h0m0 7.5h0m0.5-74h0m0-15h0m0 20.5h0m0-16.5h0m0-6h0m0 7h0m0 71.5h0m0-78.5h0m0 83h0m0-60.5h0m0-30.5h0m0 105h0m0-81.5h0m0-14.5h0m0 81h0m0-85h0m0.5 84h0m0-69h0m0 6h0m0-0.5h0m0 79.5h0m0-10.5h0m0 35h0m0.5-107.5h0m0 66.5h0m0-59h0m0-10.5h0m1 76.5h0m1 5.5h0m0-70.5h0m0-7.5h0m0 61h0m0.5-0.5h0m0-70.5h0m0 5.5h0m0 13.5h0m0-9h0m0 66.5h0m0-97h0m0 125h0m0 1h0m0 0h0m0-11h0m0-87.5h0m0 72h0m0 2.5h0m0-81h0m0 71h0m0 23h0m0-105h0m0 2.5h0m0 17.5h0m0-7.5h0m0.5 96h0m0-86.5h0m0 90h0m0-101h0m0 90.5h0m0.5-8h0m0-69h0m1-25h0m0-7h0m0.5 4h0m0 18.5h0m0 70.5h0m0-2h0m0-65h0m0 70h0m0-92.5h0m0 30.5h0m0 89h0m0-19.5h0m0-11h0m0-59h0m0 70h0m0.5-73h0m0 58h0m0.5-54.5h0m0.5 67.5h0m0-73.5h0m1 4.5h0m0 64.5h0m0 11.5h0m0-98.5h0m0 79.5h0m0-85.5h0m0 83.5h0m0 17.5h0m0 5h0m0-96.5h0m0 85.5h0m0-6.5h0m0-96h0m0 0.5h0m0 124h0m0 0h0m0-21h0m0-60.5h0m0.5-1h0m0-14h0m0-4.5h0m0-0.5h0m0 85.5h0m0-86.5h0m0 91h0m0-85h0m0-4.5h0m0-2.5h0m0.5 95h0m0.5-82.5h0m0 74.5h0m0.5-90h0m1.5 7.5h0m0-12h0m0 98.5h0m0-81.5h0m0 9.5h0m0 60h0m0-62.5h0m0-1.5h0m0 58h0m0 8.5h0m0-86h0m0.5 90h0m0-62.5h0m0-5h0m0 1.5h0m0-5.5h0m0 59h0m0-51h0m0-1h0m0-34h0m0 36h0m0-54h0m0 11h0m0 1h0m0 121h0m0 1h0m0 0h0m0 13.5h0m0-94h0m0-3.5h0m0-11h0m0 0.5h0m0 13h0m0 73h0m0-78h0m0 62h0m0-55.5h0m0-19h0m0-1h0m0 84.5h0m0-93h0m0 84h0m0 8h0m0-15.5h0m0 28h0m0-8h0m0-99h0m0 77.5h0m0 12.5h0m0-9h0m0 2h0m0 10.5h0m0-67h0m0 55.5h0m0 0.5h0m1 12.5h0m0-81h0m0.5 140.5h0m0-141.5h0m0.5 80h0m0-96.5h0m0 81h0m0 0h0m0-59.5h0m0-16h0m0.5 88h0m0.5-94h0m0 18h0m1-5h0m0.5 105.5h0m0-107h0m0-11h0m0 24h0m0 71h0m0 4h0m0-11.5h0m1-58.5h0m0 67.5h0m0.5-16h0m0-59h0m0-8h0m0 15h0m0-6h0m0 63h0m0 1h0m0-70h0m0 64h0m0-77h0m0 24h0m0 53h0m0-0.5h0m0 2.5h0m0 1.5h0m0-64.5h0m0 17.5h0m0-27.5h0m0 96h0m0-76.5h0m0.5-17.5h0m0 95h0m0-118h0m0 7h0m0 1h0m0 116.5h0m0 1h0m0 2h0m0 7.5h0m0-34.5h0m0 11.5h0m0-14h0m0-7.5h0m0-56h0m0 13.5h0m0 44.5h0m0 24.5h0m0-78h0m0 4.5h0m0 55.5h0m0-63h0m0 10h0m0 50.5h0m0-48.5h0m0-6.5h0m0-11h0m0 4h0m0-18.5h0m0 15h0m0.5-8h0m0 72.5h0m1.5-2.5h0m0-47h0m0-11h0m0.5 0.5h0m0 64.5h0m0 46.5h0m0-115.5h0m0.5 70.5h0m0-89h0m0 38h0m0.5 82h0m0-40h0m0-71h0m0.5 9h0m0 84h0m1.5-62h0m0-3h0m0 43h0m0 7h0m0.5 19h0m0-67.5h0m0-25h0m0-21.5h0m0 140.5h0m0-100.5h0m0 47.5h0m0-47h0m0 62h0m0.5-59.5h0m0 47h0m0-68.5h0m0.5 80.5h0m0.5-69h0m0 69.5h0m0.5-64.5h0m0 59.5h0m0-77h0m0 68.5h0m0.5 8.5h0m0-4.5h0m0-10h0m0-65h0m0 22.5h0m0 71h0m0-28h0m0-76.5h0m0 112h0m0 10.5h0m0-93.5h0m0 12h0m0-29.5h0m0-3.5h0m0 77.5h0m0-72.5h0m0 21h0m0.5 52h0m0-58.5h0m0.5 3h0m0 57h0m0-46h0m0 37h0m0 31h0m0-98h0m0 75.5h0m0-7h0m0-40h0m0-0.5h0m0-7h0m1 65h0m0-79.5h0m0 95.5h0m0-31.5h0m0-43.5h0m1 60.5h0m0-16h0m0-77h0m0 106.5h0m0.5-92h0m0 5.5h0m0 69.5h0m0-73h0m1.5 7.5h0m0.5 50h0m0.5 1h0m0-56.5h0m0 53h0m0.5 10.5h0m0-52h0m0-19h0m0-4.5h0m0 102.5h0m0-20.5h0m0-72.5h0m0-8.5h0m0 64.5h0m0-42.5h0m0.5 95.5h0m0-57h0m1.5-44.5h0m0 11h0m0 4.5h0m0-1.5h0m0 37.5h0m0 12.5h0m0-3h0m0-46h0m0-32.5h0m0 91.5h0m0-6h0m0-50.5h0m0 33h0m0.5-64h0m0 67.5h0m0 16.5h0m0-84h0m0 63.5h0m1 3.5h0m0.5-10h0m0-31.5h0m0-11.5h0m0 78h0m0-18.5h0m0-13h0m0-42h0m0-7.5h0m0 47h0m0.5-33h0m1 6h0m0-4h0m0.5 38h0m0-5h0m0 14h0m0-81.5h0m0 97h0m0-64.5h0m0 32h0m0-32h0m0-2.5h0m0 31h0m0.5-20.5h0m0 39h0m1.5-57.5h0m0 51h0m0.5-49.5h0m0 59h0m1-54h0m0 63h0m1.5-26.5h0m0.5 7h0m0-31.5h0m0.5 0.5h0m0.5 21h0m1.5-19h0m0 38h0m0.5-15h0m0-38h0m0.5 42.5h0m0.5-31.5h0m0 32h0m0 3h0m0 0h0m0.5-8.5h0m0-21.5h0m0-4h0m0-16.5h0m0 53.5h0m0 4.5h0m0-42h0m0-1h0m0 40.5h0m0-17.5h0m0-24.5h0m0 7.5h0m0-1.5h0m0-12.5h0m0-24h0m0 3.5h0m0 83.5h0m0 19h0m0-90.5h0m0 60.5h0m0.5 6h0m0-9h0m0 8.5h0m0-60.5h0m1 38h0m0.5-29h0m0.5-4h0m0 45.5h0m1-40h0m0 38h0m0-36h0m0.5 36h0m0 12.5h0m0-45.5h0m0-2h0m0-32h0m0.5 70.5h0m0.5 6h0m0-63h0m2 51.5h0m0 12.5h0m0-54h0m0 8h0m0.5-15.5h0m0 41.5h0m0-42.5h0m0 38.5h0m0-28.5h0m0 7.5h0m0 36h0m0 3.5h0m0-45h0m0-44.5h0m0 12h0m0 1.5h0m0 8h0m0 5h0m0 76.5h0m0 4h0m0 1h0m0 4h0m0-33.5h0m0-34h0m0 43h0m0 6h0m0-48h0m0 29h0m0 1h0m0-4.5h0m0 3h0m0.5-20h0m0-1.5h0m0-18h0m0 39h0m0 1.5h0m0-24.5h0m0-10h0m0 10h0m0 28.5h0m0-29.5h0m0 42h0m0-35h0m0 18.5h0m0-3h0m0-19h0m0 19.5h0m0.5-32.5h0m0 37h0m1-24.5h0m0.5-15h0m0 84h0m0-39.5h0m0-6.5h0m0-31.5h0m0.5 42h0m1-11.5h0m0 3.5h0m0-30.5h0m0.5 8.5h0m0-31.5h0m0 60h0m1 2.5h0m0-41h0m0 38h0m0 6.5h0m0-32.5h0m0 28h0m0 5.5h0m0.5-40h0m0-11h0m0 13.5h0m0 22h0m0-20h0m0 22h0m0-4.5h0m0-65h0m0 14h0m0 0h0m0 80h0m0 3.5h0m0 8.5h0m0-18.5h0m0-23.5h0m0-14h0m0 27.5h0m0-26.5h0m0 18.5h0m0-5h0m0-20h0m0-16.5h0m0 14h0m0 29h0m0-41h0m0.5 45h0m0.5-35.5h0m1 32.5h0m0.5-38.5h0m0 36.5h0m0-2.5h0m0.5-27.5h0m0-11h0m1 8h0m0 28h0m0 8.5h0m1 3h0m0-34.5h0m0 18.5h0m0-13.5h0m1-22.5h0m0 38h0m0.5-30.5h0m0 32h0m0.5 0.5h0m0-26.5h0m1 42h0m0.5-45h0m0.5-13h0m0 37.5h0m1 7.5h0m0-36h0m0.5 33h0m0 91.5h0m0-133.5h0m0 56.5h0m0.5-46.5h0m1 32.5h0m0 0h0m0-3.5h0m0.5-26h0m0 45.5h0m0-45.5h0m0-10.5h0m0 16.5h0m0 0.5h0m0-20.5h0m0 50h0m0-8.5h0m0-39.5h0m0-16h0m0 5h0m0 77.5h0m0 2.5h0m0 2.5h0m0 9h0m0-25.5h0m0 4h0m0-48h0m0 31.5h0m0-8.5h0m0 5.5h0m0 9h0m0-41h0m0 39h0m0-29.5h0m0 3.5h0m0 24.5h0m0-31.5h0m0 4h0m0-5.5h0m0 48.5h0m0-42.5h0m1 24h0m0-21h0m1.5 32h0m0-19h0m0-21h0m1-22h0m0 9h0m0 54h0m1-6h0m1-7h0m0-44.5h0m0.5 36h0m0-15.5h0m0 25h0m0-39h0m0 27h0m0-22h0m0 1h0m0 64.5h0m0 20h0m0.5-79.5h0m0 29.5h0m0-9h0m1 4.5h0m0.5-34h0m1 3.5h0m0 34h0m1 11.5h0m0-42.5h0m1 17.5h0m0-25.5h0m1 45h0m0-11.5h0m0.5-28.5h0m0.5 45.5h0m0-21.5h0m0-6.5h0m0 6h0m0-52h0m0 85.5h0m0-53.5h0m0-16.5h0m0 14.5h0m0 3.5h0m0 17h0m1.5-18h0m0 26.5h0m0-30h0m0.5 32h0m0.5-34h0m0 41.5h0m1 5h0m0.5-61.5h0m0-6.5h0m0 23h0m0 0h0m0 36.5h0m0 7h0m0 10h0m0-57.5h0m0.5 52.5h0m0-2h0m0-48h0m0 32.5h0m0 21h0m0-26.5h0m0 22.5h0m0-5.5h0m0-63h0m0.5 43.5h0m0-4.5h0m0-40.5h0m0.5 18.5h0m0.5 20h0m0 31.5h0m0-51.5h0m0 55h0m0-36h0m0-20.5h0m0.5-6.5h0m0-8h0m0 56h0m0 3.5h0m0-22h0m0.5 13.5h0m0 19h0m0.5-51.5h0m0.5-19h0m0 46.5h0m0 8.5h0m0-10.5h0m0.5-5h0m0-23h0m1-16.5h0m0-15h0m0 57.5h0m0 1.5h0m0 14h0m0.5-61h0m0.5 55.5h0m0.5-47h0m0 44h0m1-48.5h0m0 9.5h0m0 47h0m0.5-7.5h0m0-41.5h0m0 5.5h0m0 62.5h0m0-30.5h0m0-1.5h0m0 2.5h0m0 11.5h0m0-60.5h0m0 65.5h0m0 4.5h0m0-65.5h0m0.5 51.5h0m0-43h0m1.5 23.5h0m0-16.5h0m0.5 36h0m0.5 1h0m0.5-48h0m0 24h0m0-25.5h0m0.5 45.5h0m0-8.5h0m0 30h0m0-76.5h0m0 37h0m0.5 35h0m0-36.5h0m0.5-16h0m0-18.5h0m0 82.5h0m0-40.5h0m1 3h0m0-50.5h0m0 11.5h0m0 32.5h0m0 35h0m0-67.5h0m0 11.5h0m0 46h0m0-8.5h0m0-7.5h0m0-45h0m0.5 60h0m0-24.5h0m0.5 14.5h0m0-14h0m0-26.5h0m0-9h0m0 39.5h0m0-40.5h0m0 12h0m0-2.5h0m0 23.5h0m0 14.5h0m0-10h0m0-21.5h0m0 23.5h0m0 10h0m0-42h0m0 26.5h0m0-29h0m0 49.5h0m0-64h0m0 80h0m0 1.5h0m0 2h0m0-16h0m0-63.5h0m0 43h0m0-21.5h0m0-21.5h0m0 40.5h0m0.5 33h0m0-29.5h0m0 8h0m0-30h0m0 51.5h0m0-31.5h0m0 7h0m0-39h0m0 32.5h0m0.5-35.5h0m0.5-10h0m0 4.5h0m0 51.5h0m0-3h0m0-33h0m0-10h0m0.5 48h0m0-14.5h0m0-23.5h0m0 3h0m0 3h0m0 23.5h0m0 4h0m0-2h0m0 3.5h0m0 4.5h0m0 6h0m0-59h0m0-10h0m0 81.5h0m0 2.5h0m0 3h0m0 6.5h0m0 1.5h0m0-45.5h0m0 13.5h0m0-19.5h0m0-14.5h0m0 30h0m0-7.5h0m0-35h0m0 57h0m0-45h0m0-7.5h0m0 24h0m0 33.5h0m0-26.5h0m0 13h0m0.5-42h0m0-1h0m1 22h0m0-26h0m1 24.5h0m0-19h0m0.5 17h0m0 19.5h0m0-8.5h0m0-24.5h0m0 27.5h0m0-53.5h0m0 25.5h0m0.5 28h0m0-30h0m0 28h0m0.5-9.5h0m0-35h0m0 39h0m0-24h0m0 68.5h0m0-71.5h0m0-13.5h0m0 56.5h0m0-4h0m0.5 10h0m0-41.5h0m0-13h0m0.5 36.5h0m0 12h0m0-7.5h0m0.5-16h0m0 27.5h0m0.5-43.5h0m1 0.5h0m0 20h0m1-16.5h0m0-5.5h0m0 1h0m0 30h0m0.5-28.5h0m0-6h0m0 41.5h0m0-4.5h0m0-11.5h0m0 9.5h0m0-32h0m0 49h0m0-17.5h0m0-53h0m0 79h0m0 1.5h0m0 27h0m0 1h0m0-43.5h0m0-18h0m0-8h0m0-12.5h0m0 0h0m0 42h0m0-18h0m0.5 17.5h0m0-45.5h0m0 46h0m0.5 2.5h0m0.5-0.5h0m0-45h0m1 18.5h0m0.5-3.5h0m0-25.5h0m0.5 2.5h0m0 43h0m0 22h0m0-9h0m0-52.5h0m0.5 24.5h0m1-23.5h0m0 29.5h0m1 5h0m0-47.5h0m0.5 49.5h0m0-52.5h0m0.5 7.5h0m0.5 30h0m0-18h0m0 16.5h0m0 3.5h0m0-32h0m0 26h0m0 1h0m0-39.5h0m0 80h0m0 41.5h0m0 6h0m0-89.5h0m0-22h0m0 23.5h0m0 0h0m0-30h0m0.5 10.5h0m0.5 47.5h0m0.5 79.5h0m0 30h0m1-104h0m0-60.5h0m0.5 32.5h0m0 32.5h0m0-72h0m0 55h0m0-6.5h0m1-1h0m0-44.5h0m0 41h0m1-39h0m0 53h0m0.5-105.5h0m0 23h0m0.5 39.5h0m0 27h0m0.5 18.5h0m0-42h0m0 35h0m0-53.5h0m0 6h0m0 40h0m0-11h0m0-1h0m0-17.5h0m0 28h0m0-49h0m0 73.5h0m0 3.5h0m0.5-30.5h0m1.5-7h0m0 40h0m0-60h0m0 44.5h0m0-9.5h0m0-34.5h0m1.5 19h0m0-36.5h0m1 51h0m0.5-30.5h0m0 41.5h0m1 5.5h0m0-61.5h0m0 92.5h0m1.5-57h0m1 9h0m0.5-41.5h0m0 31.5h0m1-37h0m0 46.5h0m0-31h0m0 33.5h0m0 20h0m0.5-20.5h0m1-43h0m0.5 49.5h0m0 16.5h0m0-20.5h0m0.5-35.5h0m0 23h0m0.5-19.5h0m0-0.5h0m0 28h0m0-10h0m0 10h0m0-5h0m0-24.5h0m0-13h0m0-14.5h0m0 79h0m0 3.5h0m0-40.5h0m0 32h0m0-53h0m0.5 50h0m0-28h0m1 22h0m0 4.5h0m0 5.5h0m0-32h0m0-18.5h0m0 46.5h0m0-44h0m0.5-27.5h0m0 83h0m0 1h0m0-64.5h0m0-1h0m0-20.5h0m0 86h0m0-69h0m0 59h0m0-8.5h0m0-58h0m0.5 61.5h0m1 6.5h0m1 36.5h0m0-53.5h0m0-28h0m0 22.5h0m0.5-7.5h0m0 23h0m0-58h0m0 14h0m0 32.5h0m0-13.5h0m0 4.5h0m0-25h0m0 39.5h0m0 9h0m0-40.5h0m0-30.5h0m0 79h0m0 1h0m0.5-50h0m0 0h0m0.5 39.5h0m0-50h0m0 38h0m0 25.5h0m1-37.5h0m0.5-37h0m0.5 59h0m0-59h0m0.5 60h0m0.5-14h0m0.5-24h0m1-2h0m0 46h0m0.5-72h0m0 73h0m0-25h0m0-27h0m0-30h0m1 18h0m0 46.5h0m0.5 51.5h0m0-81h0m0 22.5h0m0-32.5h0m1-14h0m0.5 65.5h0m0 4h0m0-67h0m0 38h0m0 35.5h0m0-55.5h0m0 25h0m0.5-44.5h0m0.5 44h0m0-1.5h0m0-31h0m0 59.5h0m0-44.5h0m0-27.5h0m0-2.5h0m0 4h0m0.5 40h0m0-50h0m0 100.5h0m0-19h0m0-30.5h0m1.5 10.5h0m0 20.5h0m0-16h0m0-38h0m0 2h0m0 4.5h0m0.5 1h0m0 22h0m0-20h0m0 14.5h0m0-19h0m0-23.5h0m0-3.5h0m0 43.5h0m0 25h0m0 5.5h0m0-52h0m0 7h0m0-14h0m0-12h0m0 65.5h0m0 5.5h0m0-84.5h0m0 6h0m0 86h0m0 0.5h0m0 23h0m0-60.5h0m0-24.5h0m0 31.5h0m0 7.5h0m0-3h0m0.5 3h0m0-10h0m0 9.5h0m0-33h0m0 27.5h0m0-53h0m0 25.5h0m0 6h0m0 42h0m0-56h0m0 31h0m0-40h0m1 40h0m0 31h0m0.5-56.5h0m0 38h0m0.5-39.5h0m0.5 28h0m1-33.5h0m0-13.5h0m0.5 62h0m0-12.5h0m0.5 18h0m0.5-6.5h0m0-17h0m0-25h0m0 2.5h0m0.5-3.5h0m0.5-21h0m0 62h0m0-29h0m0 36.5h0m0-18.5h0m0-18.5h0m0-23h0m0-15.5h0m0 88.5h0m0-56.5h0m0.5 28h0m0 10.5h0m0-63.5h0m0 19.5h0m0 25h0m0-12h0m0 21.5h0m0.5-38.5h0m0.5 39.5h0m0-8.5h0m0 0h0m0 6h0m0-63.5h0m0 12.5h0m0 12.5h0m0 47h0m0-38.5h0m0.5-15.5h0m0.5 0.5h0m0 47h0m0.5 27h0m0-50h0m0-3h0m0 31h0m0-15.5h0m0-14h0m0 2.5h0m0 40h0m0-26h0m0-40h0m0.5 46.5h0m0.5-34.5h0m0.5 27.5h0m0-13.5h0m0.5 37h0m0-22h0m0-24.5h0m0.5 7.5h0m1-15h0m0 34.5h0m0.5 8.5h0m0.5 4.5h0m0-43.5h0m0.5 33.5h0m0-50h0m0.5 51.5h0m0-45.5h0m0 10.5h0m0-7h0m0 39h0m0-61h0m0 79h0m0-3.5h0m0-16.5h0m0-33h0m0-3h0m1 10h0m0 42.5h0m1-37.5h0m0 21.5h0m0-27h0m0 29.5h0m0.5-48h0m0 63h0m0.5-37h0m0.5 29h0m0-6h0m0-48h0m0 56h0m0-30h0m0.5-1h0m0.5-6.5h0m0 43h0m0-22.5h0m0 8h0m0.5-32h0m0 2h0m0 57h0m0.5-59.5h0m0.5 59h0m0-7h0m0.5-11.5h0m0-38h0m0 2.5h0m1.5 1.5h0m0 20h0m0.5-44.5h0m0 66.5h0m0.5-25.5h0m0.5-15h0m0 2.5h0m0 18h0m1 27h0m0.5-46h0m0-0.5h0m0-39h0m0 63.5h0m1-41h0m0.5 34h0m0-18.5h0m0.5 33.5h0m0-36h0m0.5 23.5h0m0-40.5h0m0 58.5h0m0-50.5h0m0.5 26h0m0-21h0m1 31h0m0.5-42h0m0 33.5h0m0 12.5h0m0-40h0m0 1.5h0m0 49h0m0-7h0m0-9.5h0m0-31h0m0 3.5h0m0-36h0m0 5.5h0m0 37h0m0 12.5h0m0-17h0m0-3.5h0m0 54h0m0.5-12.5h0m0-48h0m0 34.5h0m0-27h0m0 38.5h0m0-65h0m0 64.5h0m1-45h0m0 41.5h0m0.5-2h0m0-35h0m0-4h0m0 69.5h0m0-65h0m0 49h0m0-124.5h0m0 22h0m0 31h0m0 55h0m0 14h0m2-2.5h0m0-66.5h0m0 45.5h0m0.5-29.5h0m0.5 37.5h0m0 8h0m0 18.5h0m0-56.5h0m0 1h0m0 6h0m0 57.5h0m0-57.5h0m0-39.5h0m0 56.5h0m0-3.5h0m0-22h0m0 29.5h0m0-33.5h0m0 5h0m0-7.5h0m0-11.5h0m0 62h0m0-18.5h0m0 9.5h0m0-1.5h0m2 8h0m0-51.5h0m0-8h0m0.5 45h0m0 15.5h0m0.5-37.5h0m0.5-15h0m0.5-5h0m0 63h0m0-47.5h0m0 49h0m0-94.5h0m0 71h0m0-4h0m0.5 7.5h0m0-33.5h0m1 32h0m0.5-42h0m0.5 38.5h0m0 0.5h0m0.5-37.5h0m0.5 18h0m0 15.5h0m0 9h0m0-65.5h0m0 32.5h0m0 23.5h0m0 12h0m0-26h0m0.5 26.5h0m0-36h0m0-10.5h0m0 43.5h0m0 17.5h0m0-58.5h0m0 67h0m0-31h0m0-35h0m0-40.5h0m0 3.5h0m0 107.5h0m0-53.5h0m0-1h0m0 17.5h0m0 24.5h0m0-28h0m0 17.5h0m0.5-39.5h0m0 54.5h0m0-76h0m0 65h0m0-66h0m0.5 21h0m0-4.5h0m0 32h0m0 26h0m1-16.5h0m0-27.5h0m0.5 33h0m0.5 1h0m0-4h0m0-4h0m0-56.5h0m0 27.5h0m0-55.5h0m0.5 34.5h0m0 20.5h0m0 34h0m0 2.5h0m0.5 1.5h0m0-49h0m0 15.5h0m0-28h0m0 69h0m0-9.5h0m0-40h0m0-36h0m0 108h0m0-41h0m0.5-44.5h0m0 66h0m0-22.5h0m0-34.5h0m0 39h0m0-41.5h0m0 11h0m0 22h0m0-33.5h0m0 36.5h0m1-4.5h0m0.5-17h0m0-64h0m0.5 84h0m0.5-4.5h0m0-0.5h0m0 3h0m0-66h0m0 25.5h0m0 11.5h0m0-8.5h0m0 42.5h0m0-33.5h0m0 39.5h0m0.5-12h0m0-31.5h0m0 47h0m0-33.5h0m0-11.5h0m0 57.5h0m0-97h0m0 11h0m0 96.5h0m0 4h0m0-46h0m0 22h0m0 2h0m0-51.5h0m0-11h0m0 25.5h0m0 44h0m0-47.5h0m0 20h0m0-18.5h0m0-9h0m0 30.5h0m0.5-6h0m0.5-16.5h0m1 41.5h0m0-48.5h0m0.5-6h0m0 62h0m0.5-69.5h0m0 53.5h0m0-3.5h0m0-36h0m0 24.5h0m0-1h0m0 17h0m0-33h0m0 0.5h0m0-28.5h0m0-9.5h0m0 3h0m0 90h0m0 8h0m0-28.5h0m0-16.5h0m0-15.5h0m0 32h0m0-56.5h0m0 6.5h0m0.5 8h0m0-13.5h0m0 42h0m0 4h0m0-34h0m0.5 30.5h0m0-6h0m0-12.5h0m1-17h0m0 33h0m0.5-25.5h0m0 41.5h0m0.5-50.5h0m0.5 55h0m0-84h0m0 31.5h0m0-10h0m0 66.5h0m0-7.5h0m0.5-59.5h0m0.5 17.5h0m0 27.5h0m0-21h0m0-20h0m0 38h0m0 0.5h0m0 6.5h0m0-24.5h0m0-55h0m0 103.5h0m0-17h0m0-30.5h0m0 22h0m0-22h0m0-9.5h0m0.5 39h0m1 3h0m0-14.5h0m0 9.5h0m0-30.5h0m0 43h0m0-69h0m0 29h0m0 17h0m0 4h0m0 12.5h0m0 12.5h0m0-44.5h0m0-0.5h0m0-48h0m0 13.5h0m0 89.5h0m0 13h0m0-56h0m0.5 18.5h0m0-44h0m0-7h0m0 44h0m0-25h0m0-16.5h0m0-3h0m0.5 41h0m0-19.5h0m1 37h0m0-57h0m0 52.5h0m0-42.5h0m0.5 39.5h0m0.5-58.5h0m0 52.5h0m0-46h0m0 46h0m0-47.5h0m0 10h0m0 27h0m1-35.5h0m0 63.5h0m0-19h0m0-50h0m0 65h0m0-38h0m0-13h0m0 14h0m0 19.5h0m0-57.5h0m0 85h0m0 6.5h0m0-18h0m0 0h0m0.5-21.5h0m0-41.5h0m0 47h0m0-29h0m0-3.5h0m0-13.5h0m0 40h0m0.5-24.5h0m0 5.5h0m0 56h0m0-57.5h0m0 27h0m0-5.5h0m1-42h0m0 43h0m1-14h0m0 31.5h0m0-45h0m0 50h0m0 4h0m0.5-54.5h0m0-21h0m0 34h0m0 27h0m0-16h0m0-18.5h0m0 6h0m1-15.5h0m1.5 2h0m0.5 40.5h0m0.5-26.5h0m0.5 12h0m0.5 19.5h0m0-35.5h0m1 16.5h0m0.5-13h0m0.5-3h0m0.5 24.5h0m0.5-48h0m0 54.5h0m0-25.5h0m1 29.5h0m0-15h0m0-19.5h0m0-15h0m0 48h0m0-27.5h0m0-31h0m0 71h0m0-38.5h0m0 20.5h0m0-34.5h0m0 29h0m1.5-32h0m0 40h0m0.5-35h0m0 23h0m0.5-1h0m0.5-18h0m0 3.5h0m0.5 28.5h0m0-25h0m1 12.5h0m1 0h0m0-13.5h0m0 1.5h0m0-6.5h0m0 22.5h0m0.5 12.5h0m0-16h0m0-12.5h0m0 12h0m0 4h0m0-21.5h0m0-24.5h0m0 0h0m0 1.5h0m0 0.5h0m0 63h0m0-36.5h0m0 21.5h0m0-19h0m0 12h0m0-24.5h0m0 31h0m0-4h0m0-25h0m0 43h0m0-13.5h0m0-20h0m0 13.5h0m0 2h0m0-14.5h0m0-17.5h0m0 48h0m0-45h0m0 9.5h0m0 5.5h0m0.5 9h0m0-15h0m0.5 24h0m0-41h0m0 20h0m0 18h0m0-34h0m0 29h0m0-15.5h0m0-26.5h0m0 6.5h0m0 22.5h0m0 22h0m0-20.5h0m0 16.5h0m0 1.5h0m0.5 7h0m0-33h0m2 8.5h0m0 10h0m0-24.5h0m0 11.5h0m0 21.5h0m0-49h0m0.5 26.5h0m0 12.5h0m0-0.5h0m1 1h0m0.5 7h0m0-20.5h0m0 12.5h0m0 21h0m0-56.5h0m0 21h0m1-6h0m0 40.5h0m1-33.5h0m0.5 30.5h0m1-27.5h0m1 19.5h0m0-26h0m2 15.5h0m0-15.5h0m0 20h0m0-29h0m0 21.5h0m0.5 20h0m0-32.5h0m1.5 12.5h0m0.5-14.5h0m1.5-1.5h0m1.5 21.5h0m0-27.5h0m0.5 6h0m0 3.5h0m0 9.5h0m0 15.5h0m1 1h0m0-2.5h0m0-34h0m0-5h0m0 28.5h0m0-4h0m0-10.5h0m0.5-6h0m0 34h0m0-50.5h0m0 5h0m0 17h0m0 20h0m0-1.5h0m0-16.5h0m0 17h0m0-27h0m0 29h0m0-27h0m0 0h0m0.5-17.5h0m0 34h0m0 1h0m1.5 8.5h0m0.5 7h0m0.5-25h0m0.5 16.5h0m0-15.5h0m1 15.5h0m1-3h0m0-14h0m0-1h0m0 1h0m0.5 22.5h0m0-6.5h0m0-32h0m0 41h0m0-9h0m0-27h0m0 31h0m0-20.5h0m1 28h0m2.5-20h0m0-8h0m0 18.5h0m0-16.5h0m0-6h0m0 3.5h0m0 25.5h0m0-43.5h0m0 2.5h0m0 59.5h0m0-23h0m0 5.5h0m0.5-8h0m1-22h0m0.5 6h0m0-12.5h0m0 40h0m0-1.5h0m0-62.5h0m0 89h0m0.5-29.5h0m0-1.5h0m0-20.5h0m0.5 29h0m0 25h0m0-51h0m1 0.5h0m0 32.5h0m0 12h0m0-62h0m0 40.5h0m0.5 10.5h0m0-8.5h0m0-33h0m0-12.5h0m0 2h0m0 64.5h0m0 4.5h0m0 7.5h0m0-61.5h0m0 8h0m0-14h0m0 39h0m0-6h0m0-35.5h0m0 41h0m0-4.5h0m0 36.5h0m0.5-40h0m0.5 3h0m0-26.5h0m1.5 42h0m0.5-41.5h0m0.5 10h0m0.5 18.5h0m0.5 3.5h0m0-27h0m0.5-7h0m0.5 53.5h0m1-50h0m0 34.5h0m0 5h0m0-40.5h0m0-11.5h0m0 51.5h0m0 0h0m0.5-68.5h0m0 12h0m0 74h0m0 9h0m0 10.5h0m0 8h0m0-35h0m0-45h0m0 3.5h0m0 39.5h0m0 11h0m0-69.5h0m0 15.5h0m0 45h0m0.5 0h0m0-67.5h0m0 138.5h0m0-115.5h0m0.5 52h0m0.5-7h0m0.5-54h0m0 40.5h0m0 3h0m0 62.5h0m0-110h0m0 19.5h0m0 46.5h0m0-49h0m0.5-21h0m0 71.5h0m0.5-51h0m0.5 41.5h0m0.5-50h0m0 55h0m0.5 10h0m0-77.5h0m0-2.5h0m0.5 67.5h0m0-5h0m0.5 28h0m0-85h0m0 18h0m0.5 39h0m0 27.5h0m0-107h0m0 110.5h0m0.5-5.5h0m0.5-86h0m0-12h0m0 86h0m0 20.5h0m0-88.5h0m1.5-31.5h0m0 120h0m0-103.5h0m0.5 111h0m0-126.5h0m0.5-14h0m0 22.5h0m0-6.5h0m0 110.5h0m0.5-1.5h0m0-11h0m0 3.5h0m1-102h0m0 130h0m0.5 2h0m0-127.5h0m0.5-8h0m0.5 109.5h0m0.5-112h0m0.5 115h0m0-115.5h0m0.5-11.5h0m0.5-5h0m0 129h0m0 17h0m0-116.5h0m0-20h0m0.5 163h0m0-20h0m0-12.5h0m0-112.5h0m0-5h0m0.5 106.5h0m0-102h0m0 114h0m0.5 22h0m0-17h0m0 14h0m0.5-154h0m0-3.5h0m0-3.5h0m0 25h0m0 110h0m0-147.5h0m0 189h0m0-38h0m0.5-129h0m0.5 133.5h0m0-136h0m0 155.5h0m1-7.5h0m0-15h0m0-139h0m0.5 175.5h0m0.5-173h0m0 164.5h0m0-174.5h0m0 4h0m0 154h0m0-161.5h0m0.5 150.5h0m0-154h0m0 156.5h0m0.5-135.5h0m0 0.5h0m0-13.5h0m0 179.5h0m0-26.5h0m0-153.5h0m0.5 162.5h0m0-14.5h0m0 12.5h0m0.5 1.5h0m0-145.5h0m0-5.5h0m0 12.5h0m0 160.5h0m0-32.5h0m0.5-145h0m0-3h0m0 3.5h0m0 155h0m0.5 6h0m0 25h0m0.5-202.5h0m0 29.5h0m0.5 133.5h0m0-132.5h0m0 163.5h0m0.5-26h0m0-10h0m0 21h0m0 5h0m0-21.5h0m0.5-145.5h0m0 10.5h0m0 2h0m0-62h0m0 238h0m0.5-204h0m0 179h0m0 1.5h0m1-164h0m0-21.5h0m0 198h0m0-192h0m0.5 24h0m0 130.5h0m0.5-223h0m0 23h0m0 199.5h0m0.5 15.5h0m0-175h0m0 10.5h0m1 147h0m0-127.5h0m0.5 151h0m0-178.5h0m0.5 173h0m0.5-11.5h0m0-130h0m0 133h0m0 35h0m0.5-205h0m0.5 8h0m0 179.5h0m0-25.5h0m0 4h0m0-147h0m0 163h0m0-2h0m0-158.5h0m0-13h0m0 164.5h0m0-149h0m0 145h0m0 11.5h0m0.5-13h0m0-132h0m0 138.5h0m0-8h0m0-136.5h0m0 131.5h0m0 24h0m0-219h0m0 14.5h0m0 5h0m0 1.5h0m0 14h0m0 3h0m0 208h0m0 6.5h0m0 0h0m0 0.5h0m0 6h0m0-204.5h0m0 179.5h0m0 4h0m0-197h0m0 19h0m0 8h0m0-14.5h0m0 11.5h0m0 0h0m0-10.5h0m0 159h0m0.5-150.5h0m0 150.5h0m0 0.5h0m0-160.5h0m0 10h0m0 132h0m0 11h0m0 11.5h0m0.5 40.5h0m0-195h0m0 141.5h0m0-135.5h0m0 142.5h0m0-143.5h0m0.5 126h0m0-131h0m0 7.5h0m0 140h0m0 2.5h0m0.5-16h0m0-137h0m0 6h0m0 0.5h0m0-17h0m0 169h0m0 1.5h0m0-3h0m0.5 2h0m0-195h0m0 14.5h0m0 3.5h0m0 208.5h0m0 5h0m0-217h0m0-2h0m0 157h0m0.5 52.5h0m0-41h0m0-143.5h0m0.5 143.5h0m0-149h0m0 178h0m0.5-164.5h0m0 158.5h0m0.5 59.5h0m0 6h0m0 12h0m0-95.5h0m0-150.5h0m0.5 2h0m0 159h0m0.5-185h0m0 191.5h0m0-189h0m0.5 170.5h0m0-146.5h0m0 161h0m0.5-29h0m0.5 12h0m0 2.5h0m0.5-162h0m0 158h0m0.5-144.5h0m0 143.5h0m0.5-134.5h0m0.5 146.5h0m0-155.5h0m0.5 149h0m0 6h0m0.5-141.5h0m0 125.5h0m0.5-201.5h0m0 202h0m0-3.5h0m0 34.5h0m0-28h0m0.5-142.5h0m0-14.5h0m0 13.5h0m0-16.5h0m0 16.5h0m0.5 163h0m0-29.5h0m0-159h0m0 176h0m0-179.5h0m0 5.5h0m0 35.5h0m0 143.5h0m0-151h0m0.5 148.5h0m0 6h0m0-166.5h0m0 140h0m0 2.5h0m0.5-139h0m0 4.5h0m0 7h0m0.5 124h0m0-147.5h0m1 143.5h0m0-120h0m0 140h0m0-129h0m0.5 0.5h0m0 110h0m0.5-105.5h0m0.5 118h0m0-140h0m1 131.5h0m0.5 16.5h0m0-148h0m0 136h0m0-127h0m0.5 125h0m1-5.5h0m0-101h0m0-3.5h0m0.5-8h0m0.5 117h0m1-5h0m0-127h0m0 6.5h0m0.5-10.5h0m0 124.5h0m1 23.5h0m0-121.5h0m0 8.5h0m0.5 104h0m0.5-121.5h0m0.5-5h0m0 8.5h0m0.5 116h0m0.5-106h0m0-17.5h0m0.5 100.5h0m0.5-98.5h0m0 111.5h0m0-27h0m0.5-81.5h0m1 77h0m0-31.5h0m0-41h0m0.5 22.5h0m0.5 13h0m0 48h0m0-2.5h0m0-50h0m0 9h0m0-28.5h0m0 67h0m0-65.5h0m0-1h0m0.5-16.5h0m0 6.5h0m0 105.5h0m0 3h0m0 3h0m0 12h0m0-58h0m0 25h0m0.5-78h0m0.5 24h0m0 42h0m0.5-6.5h0m0-35h0m1-11h0m0 55.5h0m0-66.5h0m0 64h0m0 69h0m0.5-132h0m0 74.5h0m0-82.5h0m0 2.5h0m0.5 88h0m0-93h0m0 99.5h0m0-80.5h0m0.5-25h0m0 100.5h0m0-122.5h0m0 175.5h0m0 23h0m0-153h0m0 87.5h0m1-131.5h0m0 143h0m0-22h0m0-90.5h0m0 107h0m0-20h0m0-121h0m0 35h0m0-6.5h0m0-11h0m0.5-16h0m0 132.5h0m0 0.5h0m0-141.5h0m0 167.5h0m0 32.5h0m0 3.5h0m0-158h0m0.5-26h0m0 130h0m0-12.5h0m0.5-102.5h0m0.5-86h0m0.5 65.5h0m0 17h0m0 126h0m0.5-17h0m0.5-130.5h0m0-8h0m0.5 16.5h0m0 15.5h0m0.5 132.5h0m0.5-20.5h0m0-146.5h0m0 26.5h0m0.5 132h0m0 1.5h0m0-172h0m0 195.5h0m0-178h0m0 145h0m0.5-140.5h0m0 12.5h0m0 147h0m0-182.5h0m0.5 33h0m0.5 127.5h0m0.5 6.5h0m0-131.5h0m0.5 4h0m0-63.5h0m0 195.5h0m0-137h0m0.5 7h0m0.5 131h0m0.5-159.5h0m0-32h0m0 179.5h0m0-158.5h0m0.5 32h0m0 152.5h0m0 5h0m0-162.5h0m0.5-27h0m0 213.5h0m0.5-187.5h0m0-87.5h0m0.5 94h0m0.5 136h0m0 6h0m0-145h0m0 156.5h0m0.5-216.5h0m0 62h0m0.5 140h0m0-142.5h0m0-31.5h0m0 173h0m0.5 16h0m0-154.5h0m0-33h0m0 30h0m0.5 155.5h0m0-172.5h0m0-38h0m0 13.5h0m0 210h0m0-172.5h0m0 159.5h0m0-189h0m0 36h0m0-21h0m0 16.5h0m0-6.5h0m0.5-18.5h0m0-24.5h0m0 9.5h0m0 7.5h0m0 204h0m0 14h0m0 3h0m0-189.5h0m0 155.5h0m0-6h0m0-151h0m0 164h0m0-171h0m0 169h0m0-12h0m0-3.5h0m0.5-1.5h0m0-196.5h0m0 3h0m0 216.5h0m0 8h0m0 15.5h0m0-193.5h0m0.5 3h0m0 3.5h0m0 166h0m0-168h0m0 155h0m0-155.5h0m0-14.5h0m0 0.5h0m0-11h0m0.5 195.5h0m0-28.5h0m0 3h0m0 4h0m0-149.5h0m0.5-16h0m1 14.5h0m0 147.5h0m0-194.5h0m0 197h0m0-145h0m0.5 170h0m0.5-174.5h0m1 0h0m0-22.5h0m0 195.5h0m1-25.5h0m0-172.5h0m0.5 8h0m0 170.5h0m0-153.5h0m0 148.5h0m0.5-154.5h0m0 9h0m0.5-45h0m0 190.5h0m0.5-178.5h0m1 179.5h0m0-148h0m0.5-14h0m0-16h0m0.5 22.5h0m0-22h0m0-15.5h0m0 1h0m0 246h0m0-236h0m0 35.5h0m0 154h0m0-169.5h0m0.5 185h0m0-21h0m0 8h0m0-8h0m0.5-151.5h0m0-8.5h0m0 158h0m0 7.5h0m0-180.5h0m0-16.5h0m0 224.5h0m0.5-184h0m0.5 169h0m0-199.5h0m0.5 181h0m0 1h0m0-148.5h0m0-18.5h0m0 180h0m0-171h0m0 174h0m0-176h0m0.5 160.5h0m0-202.5h0m0 233.5h0m0-195.5h0m0 15.5h0m0-19h0m0 194.5h0m0.5-193h0m0 186h0m0-186.5h0m0 8h0m0 167h0m0-232h0m0 266h0m0.5-23.5h0m0-204.5h0m0.5 24.5h0m1 160.5h0m0 5h0m1 1h0m0-156.5h0m0-51.5h0m0 5.5h0m0 230h0m0-27.5h0m0.5 24.5h0m0-182.5h0m0 184.5h0m0-32h0m0-165h0m0 175h0m0-170.5h0m0.5 9.5h0m0 154.5h0m0-156h0m0 2.5h0m0 176.5h0m0.5-228.5h0m0 237h0m0-220h0m0 184h0m0-153h0m0.5 177h0m0-197h0m0 1.5h0m0 206h0m0-220h0m0 197.5h0m0-165.5h0m0-12.5h0m0-41.5h0m0 4.5h0m0 1h0m0 242h0m0 3.5h0m0 10.5h0m0 2h0m0 1h0m0 18h0m0.5-249h0m0 202.5h0m0-19.5h0m0 6.5h0m0-170.5h0m0-2h0m0-22.5h0m0 14h0m0 177.5h0m0 9.5h0m0-185.5h0m0 163.5h0m0 10.5h0m0 9.5h0m0-0.5h0m0-201h0m0-3h0m0.5 30h0m0-29.5h0m0 211h0m0-283.5h0m0 16.5h0m0 70h0m0 194.5h0m0-19h0m0-166.5h0m0.5 164.5h0m0 2.5h0m0-185h0m0-14h0m0 0.5h0m0 235.5h0m0-27.5h0m0.5-185.5h0m0-10h0m0.5 183h0m0-171.5h0m0.5-12h0m0 21h0m0 169h0m0 2h0m0.5-8.5h0m0-201h0m0 5.5h0m0 233.5h0m0 10.5h0m0 4.5h0m0-210h0m0 189.5h0m0-183h0m0-23h0m0 187h0m0 11.5h0m0.5 1h0m0-211h0m0 14h0m0 4h0m0.5-17h0m0 187.5h0m0 1h0m0.5-159.5h0m1 172.5h0m0-186.5h0m0-6h0m0.5 185.5h0m0-184.5h0m0.5 173h0m0-159h0m0 166.5h0m0 5.5h0m0-177.5h0m0 192h0m0-203.5h0m0-4.5h0m0 205h0m0.5 11.5h0m0-240.5h0m0 2.5h0m0 247h0m0 3.5h0m0 5h0m0 21.5h0m0 5.5h0m0-240h0m0 161h0m0-178h0m0 22h0m0-2.5h0m0-6h0m0-23h0m0 189h0m0.5 7h0m0 16.5h0m0-208h0m0 208h0m0.5-186.5h0m0 177h0m0-223.5h0m0 243.5h0m0-33h0m0 7.5h0m0.5-195.5h0m0 32.5h0m0-4h0m1 163h0m0-174h0m0 181h0m0-9.5h0m0-168.5h0m0 171.5h0m0.5-212h0m0 258h0m0-235h0m0 182h0m0-178.5h0m0 21.5h0m0.5 171.5h0m0-165.5h0m0-18.5h0m0 187.5h0m0-171.5h0m0 156.5h0m0-158h0m0-29.5h0m0 10h0m0.5 204h0m0-235.5h0m0 10.5h0m0 230h0m0 0h0m0 7h0m0 15h0m0-52.5h0m0 28h0m0-15h0m0-1h0m0-180.5h0m0-15h0m0 180.5h0m0-156.5h0m0.5 2.5h0m0-0.5h0m0 153h0m0-156.5h0m0-23.5h0m0 185h0m0-156h0m0-25h0m0 181h0m0.5 2h0m0-183.5h0m0 9.5h0m0 188.5h0m0-15h0m0 9.5h0m0-177h0m0-1h0m0.5 165h0m0-207h0m0 1h0m0 238h0m0 14.5h0m0 6h0m0-35.5h0m0-172.5h0m0.5-14h0m0 200h0m0.5-202.5h0m0 179h0m0-190.5h0m0.5 8.5h0m0 19.5h0m0.5 157h0m0 43h0m0-197.5h0m0.5-19.5h0m0 191h0m0 2.5h0m0-21.5h0m0.5-179.5h0m0 24h0m0-41.5h0m0 237h0m0-32.5h0m0-161.5h0m0 156.5h0m0-169h0m0 191h0m0.5 14.5h0m0 16h0m0-37.5h0m0-181.5h0m0 164.5h0m0-158.5h0m0.5 163h0m0-191h0m0 7h0m0.5 4h0m0.5 204.5h0m0-184.5h0m0 164.5h0m1-196.5h0m0 32.5h0m0.5 162.5h0m0-178h0m0.5 229.5h0m0-39.5h0m0.5-20h0m0-169.5h0m0-8.5h0m0 14h0m0.5 164h0m0-154.5h0m0 175.5h0m0-7h0m0.5-204.5h0m0.5 7.5h0m0 217.5h0m0 0.5h0m0.5-229.5h0m0 231h0m0 42.5h0m0-250h0m0 14h0m0.5 4.5h0m0 161h0m0 7h0m0 49.5h0m0 7h0m0 13h0m0-71h0m0-198.5h0m1 21h0m0 9.5h0m0.5 157.5h0m0 20.5h0m0.5-13.5h0m0-182h0m0 10.5h0m0 1.5h0m0 1.5h0m0 163h0m0 19.5h0m0-11h0m0.5 7h0m0-174h0m0-23h0m0.5-28h0m0 251h0m0 9h0m0-27h0m0-182h0m0 204.5h0m0 5.5h0m0 11.5h0m0-53.5h0m0.5-6.5h0m0-182h0m0-3.5h0m0 199h0m0-196.5h0m0.5 188h0m0-168h0m0 2h0m0 186h0m0.5-21.5h0m0-1h0m0-196h0m0 203h0m0.5-176.5h0m0 183.5h0m0-209h0m0 19.5h0m0.5 6.5h0m0 183.5h0m0-183.5h0m0-25.5h0m0 213.5h0m0 16.5h0m0.5-32.5h0m0 15.5h0m0-28.5h0m0.5 11h0m0-194.5h0m0 231.5h0m0.5-221h0m0 193h0m0.5-197.5h0m0-2h0m0.5 201.5h0m0-189.5h0m0 174.5h0m0.5-168h0m0-24h0m0 14h0m0 9h0m0 165.5h0m0 22h0m0-21.5h0m0-163h0m0.5 162.5h0m0-172.5h0m0 199.5h0m0 5h0m0 14h0m0 38h0m0-75.5h0m0-175h0m0.5 190.5h0m0.5-195h0m0 3h0m0 185.5h0m0.5-17.5h0m0-168.5h0m0.5-38.5h0m0 38.5h0m0 189.5h0m0-198h0m0 188.5h0m0-190.5h0m0 194.5h0m0.5 17.5h0m0.5-33h0m0-189.5h0m0 194.5h0m1-1.5h0m0-6h0m0-168.5h0m0-15.5h0m0.5 12h0m0 170.5h0m0 7.5h0m0-195h0m0 31h0m0 187.5h0m0 44.5h0m0.5-58.5h0m0-12.5h0m0-185h0m0 184.5h0m0-163.5h0m0 2h0m0.5-23.5h0m0 194h0m0-177h0m0 193h0m0 8h0m0-7h0m0.5-27h0m0-164h0m0 162.5h0m0.5-157h0m0 175.5h0m0 48.5h0m0-250.5h0m0.5 18.5h0m0 179.5h0m0 5h0m0.5-178.5h0m0 176h0m1-186h0m0 178h0m0.5-192.5h0m0.5 211.5h0m0.5-192h0m0 183h0m0-180.5h0m0 193h0m0 15.5h0m0.5-216h0m0 181h0m0-173.5h0m0 171h0m0-191h0m0.5 177.5h0m0 8h0m0-6.5h0m0.5-182.5h0m0 181.5h0m0.5 38h0m0-41.5h0m0-176h0m0.5 14h0m0 158.5h0m0-158.5h0m0-1.5h0m0-3h0m0 164.5h0m0 26h0m0.5 6h0m0-229h0m0 234.5h0m0 37h0m0-234h0m0 167h0m0.5-185h0m0 202h0m0-11.5h0m0-172.5h0m0.5 171h0m0-14.5h0m0.5-180.5h0m0 195.5h0m0.5-171.5h0m0 157.5h0m0-174h0m0-10.5h0m0 229.5h0m0.5-218h0m0 17.5h0m0.5 151.5h0m0 36h0m0-207.5h0m0 175.5h0m0.5 16.5h0m0 3.5h0m0-173.5h0m0 195.5h0m0-38.5h0m0-171h0m0.5 10h0m0.5-16h0m0 190h0m0.5-14.5h0m0-176.5h0m0 187.5h0m0.5-19h0m0-158h0m0.5 4.5h0m0.5-13.5h0m0 170.5h0m0.5 26h0m0.5-207.5h0m0.5 175.5h0m0 56.5h0m0.5-44.5h0m0-186.5h0m0.5 5h0m0.5 196.5h0m0.5 0.5h0m0 64.5h0m0-86h0m0-177h0m0.5-18h0m0 235h0m0-52h0m0 27h0m0-180.5h0m0 0.5h0m1 158h0m0.5-9h0m0-155h0m0-45h0m0 54.5h0m0.5 170h0m0-4h0m1-174h0m0 8h0m0-27.5h0m0 217h0m0 24h0m0-213h0m0 141h0m0 30.5h0m0.5-13h0m0-8h0m0-7h0m0-229.5h0m0 20h0m0 6h0m0.5 207.5h0m0-149h0m0.5 163h0m0-28.5h0m0.5 2h0m0.5-150.5h0m0 147.5h0m0.5-147.5h0m0 141h0m0.5-128h0m0 162h0m0-172.5h0m0 167h0m0 8.5h0m0-40h0m0.5-133.5h0m0 134h0m0 14.5h0m0-13h0m0-144h0m0 163.5h0m0-165h0m0 162h0m0-152.5h0m0.5-36h0m0 17.5h0m0 217h0m0 1h0m0 0.5h0m0 19h0m0 3h0m0 0.5h0m0-90h0m0 19.5h0m0-20.5h0m1 6.5h0m0.5-141h0m0.5 148h0m0-9.5h0m0 71h0m0.5-56.5h0m0.5-148h0m0 157h0m0.5-5h0m1-4.5h0m0-165.5h0m0.5 148.5h0m1-8h0m0-127h0m0 124.5h0m0.5 2h0m0-141.5h0m0.5 141h0m0.5-130.5h0m0 130h0m0 14h0m0.5-28h0m0 4h0m0 19.5h0m0 30h0m0-53h0m0-113.5h0m0 211h0m0.5-86h0m0 28.5h0m0 14.5h0m0-5h0m0-13.5h0m0-15.5h0m0 13h0m0-18.5h0m0 49.5h0m0-15.5h0m0 17h0m0 26h0m0-78h0m0 7.5h0m0 1.5h0m0.5-133.5h0m0 114.5h0m0 101.5h0m0-78.5h0m0 6h0m0 80h0m0-23h0m0 15.5h0m0-8.5h0m0-50.5h0m0 5.5h0m0-30h0m0-144h0m0 152.5h0m0-34h0m0.5 51.5h0m0-3h0m0 7.5h0m0-30h0m0-13h0m0 4.5h0m0.5 27h0m0-8h0m0 30h0m0 75h0m0-89h0m0.5-27.5h0m0 76.5h0m0-74.5h0m0 22.5h0m0-26h0m0 73h0m0.5 47h0m0-117.5h0m0-3h0m0 66.5h0m0-82.5h0m0-9h0m0 23h0m0.5-9h0m0 6h0m0 44h0m0 34.5h0m0-18h0m0-44h0m0-154h0m0.5 241h0m0-73.5h0m0 76h0m0-76.5h0m0-163h0m0 124.5h0m0.5 56h0m0-21.5h0m0-36.5h0m0 10.5h0m0 60h0m0-25h0m0-26h0m0 24.5h0m0 40.5h0m0-80.5h0m0.5 25.5h0m0-23.5h0m0 83.5h0m0-17.5h0m0-30h0m0-20.5h0m0 72h0m0-62h0m0.5-30.5h0m0 81.5h0m0 22h0m0-60.5h0m0-25.5h0m0.5 29h0m0-50.5h0m0 36.5h0m0.5-50h0m0 13h0m0 32h0m0.5-146h0m0-9h0m0 116h0m0-11h0m0.5 31h0m0 13h0m0 4h0m0 24h0m0-75h0m0.5 23.5h0m0-116h0m0.5-6.5h0m0 106.5h0m0.5-106.5h0m0 89.5h0m1 9.5h0m1-107h0m0 117.5h0m0 6h0m0.5-24.5h0m0-7h0m0-78h0m0 78.5h0m0-75.5h0m1-0.5h0m0 81.5h0m0 17.5h0m0 8.5h0m0-121.5h0m0.5 104.5h0m0-17.5h0m0 10.5h0m0 24h0m0.5-108h0m1 81h0m0.5 6.5h0m0 7.5h0m0 6h0m0-14h0m0.5 5.5h0m0-5h0m0-96h0m0.5 102.5h0m0-101h0m1 92.5h0m0-3.5h0m0-77.5h0m0.5 65h0m0.5 40h0m0-29h0m0.5-76.5h0m0 94.5h0m0.5-111h0m0 83h0m0 3h0m1-67h0m0.5 74.5h0m0-75.5h0m2 71h0m0.5-86h0m0.5 10h0m0.5 69h0m0.5-65h0m1-8h0m1.5 2h0m0-4.5h0m0 73.5h0m1 9.5h0m0-84.5h0m0 15.5h0m0.5 57h0m0.5-71h0m0.5 72.5h0m0.5-66h0m0-20.5h0m0.5 24h0m0 13h0m0.5-11.5h0m0.5 65h0m0.5-60h0m0-15.5h0m0 25h0m0 46h0m0.5-61h0m0-17.5h0m0 81h0m0.5-55h0m0 8h0m0-42h0m0 9.5h0m0 97.5h0m0-97.5h0m0-1h0m0.5 9.5h0m0 1h0m1 12.5h0m1 71.5h0m0-70h0m0.5 7h0m0.5-11.5h0m0.5 73h0m0.5-73.5h0m1 7.5h0m0 83h0m0.5-101.5h0m0 107.5h0m0.5-103h0m0.5 59h0m0-26h0m0 23h0m0-32.5h0m0 85h0m0-41.5h0m0-23.5h0m0-67h0m0 47h0m0 70h0m0.5-14h0m0-77h0m0 73.5h0m0-74h0m0 22h0m0-53.5h0m0 8h0m0 6h0m0 27.5h0m0-12h0m0 91.5h0m0-58h0m0 75.5h0m0-32h0m0-65h0m0-5h0m0 63h0m0-67.5h0m0 27.5h0m0 87.5h0m0.5-51.5h0m0-85h0m0 11h0m0 125h0m0-121h0m0 43.5h0m0 64.5h0m0-41h0m0 45h0m0-77h0m0-56.5h0m0 38h0m0 59.5h0m0-33h0m0-52h0m0 81.5h0m0 7h0m0-78h0m0-11h0m0 66.5h0m0-67h0m0-9.5h0m0 157h0m0-44.5h0m0 22h0m0-20h0m0 5h0m0-16h0m0.5 22.5h0m0-128h0m0 35.5h0m0-20h0m0 117.5h0m0-88.5h0m0 80.5h0m0-36h0m0 38.5h0m0-10.5h0m0 19.5h0m0 9h0m0-128.5h0m0 80h0m0-51.5h0m0 96.5h0m0-141h0m0 40.5h0m0 10.5h0m0 92h0m0-50.5h0m0 43h0m0-105h0m0-30.5h0m0 60h0m0 60h0m0 20.5h0m0-7h0m0-16.5h0m0-90.5h0m0-16h0m0 160h0m0-166h0m0 37.5h0m0-41.5h0m0 28.5h0m0-25h0m0 16.5h0m0.5 125h0m0-90h0m0-11h0m0-9h0m0-30h0m0 51.5h0m0 10h0m0 63.5h0m0 9.5h0m0-192.5h0m0 42h0m0 131h0m0-15.5h0m0-42.5h0m0 21.5h0m0-51.5h0m0-12h0m0-9h0m0 120h0m0-64h0m0-37.5h0m0.5-8.5h0m0 51.5h0m0-65h0m0 142h0m0-139.5h0m0 74h0m0-10.5h0m0-74.5h0m0 11h0m0 125.5h0m0 6.5h0m0-50.5h0m0-73h0m0-1h0m0 129.5h0m0-122.5h0m0 0.5h0m0-4.5h0m0 84.5h0m0 44h0m0.5-106h0m0 47.5h0m0 46.5h0m0-41.5h0m0 6h0m0 24.5h0m0-66h0m0 72h0m0-119.5h0m0 59h0m0-40h0m0 129.5h0m0-143.5h0m0 52h0m0-32.5h0m0-24.5h0m0 128h0m0-78.5h0m0 76h0m0-117h0m0 32.5h0m0 113.5h0m0-135.5h0m0.5 74.5h0m0-38.5h0m0 36.5h0m0 39h0m0-93.5h0m0 3h0m0-35h0m0 15h0m0-10.5h0m0 135h0m0-43h0m0-98h0m0 120.5h0m0-36h0m0.5 30h0m0-116.5h0m0-20h0m0 42h0m0 101h0m0-113.5h0m0 41h0m0 15h0m0-67h0m0 131h0m0 8h0m0-84h0m0-75h0m0 44h0m0-34.5h0m0 31.5h0m0-37h0m0 141.5h0m0-110h0m0 74.5h0m0-13h0m0-33h0m0 66h0m0-134h0m0 95.5h0m0-75h0m0 162h0m0-39.5h0m0-131h0m0.5 32.5h0m0 12.5h0m0-57h0m0-1h0m0 105h0m0-12h0m0-70h0m0 56.5h0m0 22.5h0m0 21h0m0-76h0m0 55h0m0-80h0m0 102.5h0m0-96.5h0m0 83h0m0 58h0m0-121h0m0-5.5h0m0 86h0m0.5-8h0m0-10.5h0m0-99h0m0 96h0m0-40h0m0-39.5h0m0-10.5h0m0 52.5h0m0 82h0m0-18h0m0 15.5h0m0-94h0m0 26.5h0m0 71h0m0-85h0m0 16h0m0-0.5h0m0.5 75h0m0-102h0m0-30h0m0-8h0m0 95.5h0m0-56h0m0-9.5h0m0-6.5h0m0 85.5h0m0-94h0m0-10.5h0m0-10h0m0 17.5h0m0 49h0m0 78h0m0 7.5h0m0-41h0m0-98.5h0m0 49.5h0m0-11.5h0m0-56.5h0m0 34h0m0 109h0m0-43.5h0m0-2h0m0 19h0m0.5 36h0m0-93h0m0 31.5h0m0 37h0m0 38h0m0-145.5h0m0-14h0m0 96h0m0-71.5h0m0 34h0m0-29.5h0m0 49h0m0 62.5h0m0-113.5h0m0 110.5h0m0-142h0m0 164.5h0m0-47.5h0m0-14.5h0m0-26.5h0m0 69h0m0-114.5h0m0 15.5h0m0.5-12h0m0 21h0m0-26.5h0m0 40.5h0m0 65h0m0-14.5h0m0-111.5h0m0 60.5h0m0-6.5h0m0-7h0m0 56h0m0-64h0m0-15.5h0m0 102.5h0m0-45.5h0m0-46h0m0 0h0m0 24h0m0-10.5h0m0 79.5h0m0-43.5h0m0 46h0m0-115h0m0-13h0m0 46h0m0.5 33.5h0m0 30h0m0 15.5h0m0 34h0m0-32h0m0-112.5h0m0 85.5h0m0-41.5h0m0-21h0m0 52h0m0-84h0m0 138h0m0 10.5h0m0-112.5h0m0 85.5h0m0-27h0m0-36h0m0 16h0m0 6.5h0m0-53h0m0 39.5h0m0-55.5h0m0.5 14.5h0m0 78h0m0-85.5h0m0 54.5h0m0 29h0m0-56h0m0 52.5h0m0 20.5h0m0.5-9.5h0m0.5-62.5h0m0 62.5h0m0.5-52.5h0m1-27h0m0 68.5h0m0-39h0m0 6h0m0.5 38h0m0-57.5h0m0 55h0m0.5-42h0m0-89h0m0 17.5h0m0 5.5h0m0 0.5h0m0 31.5h0m0 86h0m0 17h0m0 19.5h0m0-91h0m0-13.5h0m0 59h0m0-60.5h0m1.5 17h0m0 38h0m1-67h0m1 20h0m0-7h0m1.5 58.5h0m0-70h0m0.5 70h0m0-70h0m0-37.5h0m0.5 43h0m0 3.5h0m0-32h0m0.5-11.5h0m0-0.5h0m0 39h0m0-11.5h0m0 47h0m0-40.5h0m0.5 8.5h0m0 51.5h0m0-21.5h0m0-29h0m0-12.5h0m0 61.5h0m0-89.5h0m0-4.5h0m0 29h0m0-19h0m0 90.5h0m0-81h0m0 20h0m0 42h0m0-50h0m0 68h0m0 9h0m0-87h0m0 89h0m0-81h0m0-0.5h0m0 42.5h0m0.5 34.5h0m0-24.5h0m0-42.5h0m0 61.5h0m0-67h0m0 20.5h0m0-48.5h0m0 25.5h0m0 36.5h0m0-9.5h0m0-25.5h0m0 47h0m0-83.5h0m0 4h0m0 0.5h0m0 117h0m0.5-8.5h0m0-34h0m0-44.5h0m0 43h0m0-37h0m0 43h0m0-54h0m0 9.5h0m0-3.5h0m0-36.5h0m0 11h0m0 66.5h0m0 32.5h0m0-80h0m0 28.5h0m0-63h0m0 21h0m0.5-2.5h0m0 12h0m0 6.5h0m0-37.5h0m0 79h0m0 3.5h0m0-65.5h0m0 26h0m0-13h0m0-4h0m0 69.5h0m0 19h0m0.5-73h0m0 34.5h0m0-75h0m0 49h0m0-35.5h0m0 37.5h0m0-17h0m0 76h0m0-0.5h0m0-20.5h0m0-54.5h0m0 70.5h0m0-66.5h0m0.5 65.5h0m0-94h0m0 21h0m0-6.5h0m0 48h0m0 4h0m0-42.5h0m0-17h0m0 20h0m0 2.5h0m0-6h0m0 12.5h0m0-22h0m0.5 19.5h0m0 20.5h0m0-56h0m0 52h0m0 29.5h0m0-3.5h0m0-52h0m0 60h0m0-64.5h0m0-9.5h0m0.5 47.5h0m0 21h0m0-26h0m0 40.5h0m0-73h0m0 4h0m0 33h0m0 13.5h0m0-26.5h0m0 66h0m0-107.5h0m0 41.5h0m0-31h0m0 89h0m0-51h0m0 46.5h0m0.5-38.5h0m0-17.5h0m0-41h0m0 51h0m0-5.5h0m0-52h0m0 21.5h0m0 45h0m0-47h0m0 4.5h0m0 80h0m0-68.5h0m0-15.5h0m0 16.5h0m0 27h0m0-6h0m0 61.5h0m0-57h0m0.5 13.5h0m0-15.5h0m0-54h0m0-3h0m0 68h0m0 16h0m0-15.5h0m0 2h0m0-47h0m0 63h0m0-3.5h0m0 10h0m0 6.5h0m0-42.5h0m0 45.5h0m0-1.5h0m0-37h0m0 37.5h0m0.5-77h0m0 55h0m0 7h0m0-65h0m0 8.5h0m0 50.5h0m0-40h0m0-25h0m0-17h0m0 1h0m0 95.5h0m0-58h0m0-8.5h0m0 67.5h0m0 13h0m0-80.5h0m0 6h0m0-9h0m0-31.5h0m0 14.5h0m0 68h0m0.5-49.5h0m0 34h0m0 15.5h0m0-84h0m0 61.5h0m0-55.5h0m0 29.5h0m0 34.5h0m0-6.5h0m0-24.5h0m0 10h0m0 13.5h0m0 14h0m0-27.5h0m0 50h0m0.5-93h0m0 87h0m0-4.5h0m0-89h0m0 17h0m0 38.5h0m0-33h0m0 86.5h0m0-65h0m0-27h0m0 15.5h0m0.5-5.5h0m0-5h0m0 62h0m0-46h0m0-38h0m0 73.5h0m0-55h0m0-17h0m0 74.5h0m0 43h0m0-33h0m0-71.5h0m0 56.5h0m0-38h0m0.5 54.5h0m0-44h0m0 89h0m0-120h0m0 90.5h0m0-37h0m0.5-33h0m0.5 5h0m0 11.5h0m0.5 61h0m0.5-75h0m0 7.5h0m0 69.5h0m0.5-77.5h0m0 3h0m0 89h0m0-110.5h0m0 3h0m0 106.5h0m0-9h0m0.5-63h0m0 71h0m0.5-85h0m0 76.5h0m0-65.5h0m0.5-18.5h0m0 13h0m0.5 81h0m0.5-73h0m0 0.5h0m0-20.5h0m0.5 89h0m0-90.5h0m0 11h0m0.5 81h0m0.5-68.5h0m0-5h0m0.5-9h0m0.5 77.5h0m0.5-66h0m1.5 67.5h0m0.5-80.5h0m0 5.5h0m1.5 12.5h0m0.5-1.5h0m0.5 70h0m0.5 0h0m0-79.5h0m0.5-14.5h0m0 8.5h0m0.5 83.5h0m0-67h0m0.5 78.5h0m0-85.5h0m0-41h0m0 1.5h0m0 25.5h0m0 0.5h0m0 89.5h0m0.5-86.5h0m0 85.5h0m0-64.5h0m0-11h0m0.5 84h0m0-91.5h0m0.5 18.5h0m1.5-17h0m0.5 97.5h0m0-22h0m0-0.5h0m0.5-61.5h0m0-6.5h0m1-10h0m0-5h0m0 87h0m1 11.5h0m0-77.5h0m1 69h0m0-63h0m0.5-13h0m0.5 89h0m0.5 4h0m0.5-88h0m0-4.5h0m0.5 95.5h0m0-112.5h0m0 121h0m0-100h0m0 69h0m0.5-75.5h0m0.5 1h0m0-3.5h0m0-8h0m0 93h0m0-68h0m0 1.5h0m0-0.5h0m0 63.5h0m0 1h0m0.5 6h0m0-95h0m0 88h0m0-3h0m0-82h0m0-12.5h0m0 2.5h0m0 4.5h0m0 112h0m0 3h0m0 0h0m0.5-90.5h0m0 67h0m0-4h0m0-62.5h0m0.5 5h0m0 85h0m1-16.5h0m0-75.5h0m0.5-32.5h0m0 140h0m0-31h0m0.5-8h0m0.5-70.5h0m0 67h0m0-95h0m0 123.5h0m0.5-93.5h0m0 76h0m0-5h0m0.5-79.5h0m0-9.5h0m0 24.5h0m0.5 85h0m0.5-104.5h0m0-15.5h0m0 137h0m0-111h0m0-13h0m0.5 107.5h0m0-96.5h0m0 92h0m0.5-18.5h0m0-67.5h0m0 94.5h0m0.5-12.5h0m0-78h0m0.5 69h0m0-78.5h0m0-3.5h0m0.5 80.5h0m0-66.5h0m0.5 76h0m0-103h0m1 24h0m0 71h0m1 10h0m0-84.5h0m0-19.5h0m0.5 94.5h0m0-101h0m0-5.5h0m0 30.5h0m0.5 76.5h0m0.5 2h0m0-72.5h0m0.5-27.5h0m0.5 102.5h0m0-77h0m0.5-12h0m0.5 81.5h0m1-68h0m0 0h0m0-8h0m0.5 101.5h0m0-141h0m0 135h0m0-89.5h0m0 83.5h0m0-113.5h0m0 133.5h0m0.5-30.5h0m0-101.5h0m0.5 111h0m0-78h0m0-29.5h0m0 23h0m0.5-20.5h0m0 104.5h0m0.5-12.5h0m0.5-81h0m0 101.5h0m0 0h0m0.5-133.5h0m0 147.5h0m0-6h0m0-106h0m0 1.5h0m0.5-10.5h0m0 102h0m0 2h0m0-111.5h0m0 15h0m0 8.5h0m0.5 86h0m0 12h0m0 3h0m0.5-121h0m0.5 100h0m0-1h0m0.5-2h0m0 6.5h0m0-102h0m0 23.5h0m0.5-37h0m0 139.5h0m0-109.5h0m0.5 97.5h0m0-117.5h0m0 14.5h0m0 93h0m0.5-81h0m0 72.5h0m0 11h0m0.5-90h0m0-7h0m1-19h0m0 103h0m0 0.5h0m0.5-74.5h0m1-1h0m0 95h0m0-13h0m0-85.5h0m1-23.5h0m0 107.5h0m0-78h0m0-30.5h0m0 2h0m0 116.5h0m0-86.5h0m0 78.5h0m0.5-83h0m0 95.5h0m0-0.5h0m0-13h0m0 6.5h0m0-2.5h0m0-82.5h0m0-28.5h0m0 130h0m0-115.5h0m0-5.5h0m0 4h0m0 13h0m0-23.5h0m0 102h0m0-75.5h0m0 100h0m0-10h0m0-16h0m0-87h0m0 89.5h0m0-82.5h0m0 6.5h0m0 85h0m0-10.5h0m0.5 10h0m0-89.5h0m0-0.5h0m0 81h0m0 16.5h0m0-143.5h0m0 12.5h0m0 4h0m0 1.5h0m0 0.5h0m0 4.5h0m0 127h0m0 4.5h0m0 1h0m0 2h0m0 2.5h0m0 1h0m0-18h0m0-122.5h0m0 5h0m0-3h0m0 10.5h0m0.5 108.5h0m0.5-97h0m0 96h0m0.5-94.5h0m0-14.5h0m1 94.5h0m0-79.5h0m1-4h0m0 93h0m0.5-89.5h0m1 110.5h0m0-130h0m0 101h0m0.5-87.5h0m0.5 0h0m0 112.5h0m0.5-110h0m0 92h0m0.5-100.5h0m0-4.5h0m0.5 2.5h0m0-9.5h0m0 114.5h0m0 7h0m0-10h0m0-2h0m0 14h0m0-9h0m0-98h0m0 104h0m0-115h0m0.5 100h0m0-84h0m0-35h0m0 8h0m0 153.5h0m0 1h0m0-33h0m0.5-105.5h0m0 11h0m1 136.5h0m0-21h0m0.5-128h0m0 1.5h0m0 107.5h0m0-138.5h0m0 166.5h0m0 1h0m0-126.5h0m0 1.5h0m0 91.5h0m0-1.5h0m0.5 28h0m0-29h0m0-113h0m0.5 23h0m0-8h0m0 109h0m0.5-11.5h0m0-89h0m1-19h0m0.5 138.5h0m0-140.5h0m0.5 29.5h0m0.5 84h0m0.5-97h0m0 101.5h0m1-93.5h0m0 99h0m0.5-130.5h0m0 155h0m0.5-32.5h0m0-89.5h0m0 0h0m0-14h0m0 126.5h0m0-15h0m0 3.5h0m0.5-111h0m0 129h0m0.5-25.5h0m0-120h0m0.5 120h0m1-98.5h0m0 95h0m0.5-106.5h0m0 124h0m0.5-111h0m0 2.5h0m0 91h0m0.5-92h0m1 100.5h0m0-115.5h0m0 10.5h0m0.5 93.5h0m0 8h0m0.5 26h0m0.5-120h0m0-15.5h0m0-10h0m1 137.5h0m0-7h0m0-18.5h0m0-101h0m0-2.5h0m0-2.5h0m0 107h0m0 4h0m0-93.5h0m0 105.5h0m0.5-15.5h0m0-86.5h0m0-21.5h0m0 106.5h0m0-89h0m0 6.5h0m0 92h0m0 19.5h0m0-0.5h0m0-164h0m0 6h0m0 10.5h0m0 1h0m0 154.5h0m0 8h0m0 14.5h0m0-42.5h0m0-122h0m0 113h0m0.5-107h0m0 104h0m0-109.5h0m0 136h0m0-142h0m0.5 130h0m0.5-110.5h0m0 130h0m0-29h0m0.5-107.5h0m0-3h0m0.5 119.5h0m0-139.5h0m0 130h0m1-105.5h0m0 10.5h0m0 1h0m0-39.5h0m0 4h0m0 160h0m0 24h0m0-154.5h0m0 100h0m0 10h0m0-106h0m0 112h0m0-132.5h0m0.5 21.5h0m0 126h0m0-35.5h0m0-98h0m0 121h0m0.5-24.5h0m0-117h0m0 147.5h0m0-19h0m0.5-105h0m0 99.5h0m0 0.5h0m1-4.5h0m0-91.5h0m0-3.5h0m0-43.5h0m0 48.5h0m0.5 93.5h0m0 18.5h0m0-134.5h0m0 22.5h0m0 102.5h0m0.5-109h0m0 130.5h0m0-133h0m0 99h0m0 11.5h0m0 12h0m0-124.5h0m0.5 120.5h0m0-146.5h0m0 2.5h0m0 171h0m0 1h0m0-38h0m0 10.5h0m0.5-136.5h0m0 21h0m0.5 105h0m0-102h0m0-34h0m0 154.5h0m0.5-2.5h0m0-5.5h0m0.5-5.5h0m0-104.5h0m0 96h0m0.5-107.5h0m0 113h0m0-114.5h0m0 120.5h0m0-115h0m0.5-28h0m0 142h0m0-5.5h0m0.5-113h0m0 122.5h0m0.5-115h0m0-6.5h0m0 126.5h0m0 14.5h0m0.5-8h0m0-22.5h0m0-106h0m0 129.5h0m0.5-156h0m0 22h0m0 14h0m1 92h0m0.5-2h0m0 25h0m0.5-141.5h0m0 6.5h0m0.5 3.5h0m0.5 116.5h0m0 0.5h0m0.5 6.5h0m0-12.5h0m0-98.5h0m0.5-18h0m0.5 128h0m0-112h0m1 116.5h0m0-13.5h0m0.5-126h0m0 22h0m0.5 98h0m0-99h0m0 2.5h0m0 127h0m0.5-13.5h0m0-14h0m0-101.5h0m0-12h0m0 0h0m0 116h0m0-110h0m0 110h0m0 16.5h0m0.5 11.5h0m0-29h0m0-101h0m0-36.5h0m0 1.5h0m0 1.5h0m0 178.5h0m0 3.5h0m0-27.5h0m0-119.5h0m0 107h0m0.5-133.5h0m0 152h0m0-123h0m0 126h0m0.5-164.5h0m0 156.5h0m0-117h0m0 95h0m0 1h0m0.5 33.5h0m0.5-19.5h0m0-115h0m0-19.5h0m0-4h0m0.5 147.5h0m0-158h0m0 188.5h0m0-54.5h0m0 36h0m0-7.5h0m0-133.5h0m0 129.5h0m0-7h0m0.5-117h0m0 2.5h0m0 99.5h0m0-109h0m0 134.5h0m0.5-13h0m0-161h0m0 197h0m0-18.5h0m0-2h0m0 0h0m0.5-156h0m0 171h0m0 5h0m0-35h0m0-11h0m0-99h0m0 117h0m0-124h0m0-25h0m0 135.5h0m0-115h0m0 9.5h0m0.5 97.5h0m0 37h0m0-145h0m0.5 108.5h0m0-111h0m0 4h0m0.5 122h0m0.5 8.5h0m0-127h0m0 144.5h0m1-41h0m0 11.5h0m0-119.5h0m1-15.5h0m0.5 147.5h0m0.5-1.5h0m0-125.5h0m0 4h0m0 131h0m0.5-131h0m0.5-12h0m0 142.5h0m0-133.5h0m0 124.5h0m0-10.5h0m0-6.5h0m0 22.5h0m0.5-158h0m0 170h0m0.5-35.5h0m0-108h0m0 106.5h0m0.5-109.5h0m0 127.5h0m0.5-7.5h0m0-132h0m0 5h0m0 125h0m0-109h0m0 119h0m0-125.5h0m0 130.5h0m0-25.5h0m0 14.5h0m0-165h0m0 9.5h0m0 1.5h0m0 187h0m0 8.5h0m0 9h0m0 11.5h0m0-73h0m0.5-106h0m0-7h0m0 109h0m0 19.5h0m0-12.5h0m0-122.5h0m0.5 14h0m0.5 120.5h0m0-132.5h0m0 15h0m0 113h0m0-8h0m1-143.5h0m0 198h0m0.5-39h0m0.5-14.5h0m0-2h0m0-121h0m0 9.5h0m0.5 3.5h0m0-1.5h0m0 144.5h0m0.5-16.5h0m0-140.5h0m1.5 122.5h0m0-104.5h0m0 122.5h0m0.5-138h0m0.5-10.5h0m0 131h0m0.5-113h0m0 144.5h0m0 21h0m0-186h0m0.5 18.5h0m0.5 114h0m0 32h0m0.5-32.5h0m0 8h0m0.5-114.5h0m0 126h0m0-7.5h0m0-141h0m0 25.5h0m0.5-12h0m0 114.5h0m0.5 22h0m0-12h0m0-166.5h0m0 13h0m0 195h0m0 5h0m0-52h0m0-115h0m0-11h0m1 150h0m0 80.5h0m0 10h0m0 20h0m0.5-105h0m0-139h0m0 107.5h0m0.5-115h0m1 129h0m0 0h0m0-1h0m0 19.5h0m0-10h0m0.5-160.5h0m0 3h0m0 193.5h0m0 3h0m0 0.5h0m0-190h0m0-6h0m0 21.5h0m0 130.5h0m0-142.5h0m0.5 131h0m0 29h0m0-139.5h0m0 107h0m0 24h0m0-131.5h0m0-26h0m0 157h0m0.5-133.5h0m0-16h0m0.5 146h0m0-151.5h0m0 129.5h0m0 0h0m0-107.5h0m0-19h0m0 157h0m0-140.5h0m0.5 118h0m0-121h0m0-10.5h0m0 148.5h0m0-133.5h0m0 113h0m0 34h0m0-1.5h0m0.5-5h0m0-31.5h0m0-133.5h0m0-23h0m0 5h0m0 8h0m0 195h0m0 3h0m0 0.5h0m0-191h0m0.5 144h0m0.5-120.5h0m0-17h0m0 132.5h0m0-107.5h0m0-17h0m0 142h0m0-136.5h0m0.5 115.5h0m0 14.5h0m0 20h0m0-3.5h0m0-7.5h0m0-18.5h0m0 12.5h0m0-129.5h0m0 149.5h0m0-9.5h0m0-144h0m0-11.5h0m0.5 23h0m0-7.5h0m0-21.5h0m0-11h0m0 0h0m0 3.5h0m0 1.5h0m0 183.5h0m0 6.5h0m0 2h0m0 4.5h0m0-19h0m0-160h0m0 124h0m0 20.5h0m0-23h0m0-104.5h0m0.5-32h0m0 187.5h0m0 6h0m0 24.5h0m0-50h0m0-141h0m0 133h0m0-143h0m0 155.5h0m0-26.5h0m0-115h0m0.5-25h0m0 149h0m0 7h0m0.5-24h0m0-106.5h0m0.5 118.5h0m0 2.5h0m0.5-121h0m0.5 124h0m0-149.5h0m0.5 139.5h0m1-121.5h0m0.5 121.5h0m0 21h0m0-138.5h0m0-38.5h0m0 1.5h0m0 5h0m0 196.5h0m0 0h0m0 0h0m0 29.5h0m0-61h0m0-8.5h0m0-126h0m0 139.5h0m0.5-153.5h0m0 19h0m0-14.5h0m0 141h0m0 7.5h0m0 6.5h0m0-1h0m0-4h0m0.5-141.5h0m0 120h0m0-123.5h0m0 8h0m0 138h0m0.5-18h0m0-135h0m0.5 162.5h0m0.5-152.5h0m0.5 135.5h0m0-2h0m0-137.5h0m0-20h0m0 204.5h0m0-47h0m0.5 18h0m0-34h0m0-117.5h0m0.5 121.5h0m0-124h0m0 158.5h0m0-151h0m0-7h0m0 119.5h0m0 18h0m0.5-137h0m0.5 125.5h0m0-130h0m0.5 12.5h0m0-2.5h0m0 135h0m0.5 31h0m0-38h0m0 10h0m0.5-22.5h0m0.5-119.5h0m0 119h0m0 27h0m0.5-162h0m0.5 142h0m0 3h0m0-7h0m0-135.5h0m0 132h0m0-119.5h0m0.5 157h0m0-153h0m0 150.5h0m0-201h0m0 17.5h0m0 220.5h0m0.5-192h0m0 130h0m0-120.5h0m0 121h0m0.5-149.5h0m0 161h0m0-139.5h0m0.5 135h0m0-16h0m0 12.5h0m0-149.5h0m0.5 146h0m0 15.5h0m0-0.5h0m0-148h0m0 3.5h0m0 124h0m0-157.5h0m0 0.5h0m0 1h0m0 196.5h0m0 1h0m0-156.5h0m0.5-23.5h0m0 2.5h0m0 160.5h0m0-139.5h0m0 136.5h0m0-6h0m0.5-132h0m0.5 122h0m0-162h0m0 35h0m0.5 123h0m0 17h0m0.5-136h0m0 149.5h0m0-4.5h0m0-22h0m0-129.5h0m0-14.5h0m0 157h0m0-24h0m0-118h0m0 153.5h0m0-165h0m0 3.5h0m0 140h0m0-135.5h0m0-18h0m0 143.5h0m0 2.5h0m0.5-0.5h0m0 4.5h0m0-1.5h0m0-121.5h0m0 119.5h0m0 3h0m0-121h0m0-5h0m0 4h0m0 151.5h0m0-26h0m0-141h0m0 11h0m0-13h0m0-5.5h0m0 160.5h0m0-19h0m0-140h0m0 23h0m0 126h0m0-200h0m0 16h0m0 5h0m0 0h0m0 12h0m0 0.5h0m0 1h0m0 0.5h0m0 1.5h0m0 3h0m0 0.5h0m0 0h0m0 0h0m0 1h0m0 188h0m0 0h0m0 2h0m0 2h0m0 0.5h0m0 2h0m0 1.5h0m0 1h0m0 4.5h0m0 2h0m0 6h0m0 0.5h0m0-28h0m0-172h0m0 161.5h0m0 3.5h0m0-6h0m0-138.5h0m0 149.5h0m0-26.5h0m0.5-136h0m0-4.5h0m0-7.5h0m0 176h0m0-163h0m0 129h0m0 6h0m0-11h0m0 17h0m0-146h0m0 168h0m0-6h0m0-142h0m0-0.5h0m0 150h0m0-149h0m0 136.5h0m0-140h0m0 126.5h0m0-141.5h0m0 1h0m0 167h0m0.5-209h0m0 23.5h0m0 197.5h0m0-28h0m0 3.5h0m0-164h0m0 156h0m0-154h0m0.5 141h0m0 29.5h0m0-16.5h0m0-128.5h0m0.5-5h0m0.5 119.5h0m0-142.5h0m0.5 164.5h0m0-178h0m0 0.5h0m0 201h0m0 3.5h0m0.5-170.5h0m0-20h0m0 151h0m0-154h0m0 143.5h0m0 20h0m0.5-143h0m0 149.5h0m0.5-22.5h0m0-131h0m0 171h0m0.5-181.5h0m0 7h0m0 152.5h0m0.5 3.5h0m0-23h0m0-120h0m0-63.5h0m0 197.5h0m0.5-21h0m0-135h0m0.5-24.5h0m0 211.5h0m0-244h0m0 80.5h0m0 115h0m0 13.5h0m0-148h0m0-50h0m0 36.5h0m0 194.5h0m0-47h0m0-112h0m0 147.5h0m0.5-239h0m0 77.5h0m0.5-86h0m0 239h0m0-163h0m0.5 143.5h0m0.5-131.5h0m0-14h0m0 140.5h0m0.5 14h0m0-228.5h0m0 31h0m0 37h0m0-36.5h0m0.5 197h0m0-5h0m0.5-140h0m0-86.5h0m0.5 241.5h0m1-145.5h0m0 141.5h0m0-211h0m0-24.5h0m0 247.5h0m0-33.5h0m0 25.5h0m0-208.5h0m0 196.5h0m0.5 4.5h0m0-206.5h0m0 21.5h0m0 20.5h0m0 191.5h0m0 10h0m0 4h0m0-49.5h0m0 5h0m0 0.5h0m0-225h0m0 81.5h0m0 7.5h0m0-6.5h0m0.5 11h0m0-9.5h0m0-18h0m0 17.5h0m0-76h0m0.5 229.5h0m0-147.5h0m0-76.5h0m0.5 15h0m0-4h0m0 189.5h0m0.5-131h0m0.5 131.5h0m0.5 31h0m0-155.5h0m0 125.5h0m0 55.5h0m0.5-183h0m0 9.5h0m0 114h0m0-138h0m0 135.5h0m0.5 10h0m0-137.5h0m0 8h0m0-35h0m0 5.5h0m0 2h0m0 198.5h0m0 18h0m0-52h0m0-150.5h0m0-9.5h0m0.5 147h0m0-2.5h0m0-121.5h0m0 122h0m0 15.5h0m0.5-17.5h0m0 31.5h0m0-147h0m0-29.5h0m0.5 178h0m0-185.5h0m0 194h0m0 41.5h0m0-197.5h0m0 2.5h0m0.5 118.5h0m0-121h0m0.5 114h0m0-128h0m0 131h0m0 35.5h0m0.5-37h0m0 37.5h0m0-174h0m0 144h0m0-125.5h0m0 3.5h0m0-1.5h0m0.5-37.5h0m0 194h0m0 17.5h0m0.5-47.5h0m0-143h0m0.5 137.5h0m0-131.5h0m0 153.5h0m1-146h0m0 149.5h0m0-14.5h0m0-206h0m0 21.5h0m0 218h0m0 14.5h0m0-54.5h0m0.5 18.5h0m0-162.5h0m0 143.5h0m0-141h0m0 16h0m0.5 121h0m0-143.5h0m0 138.5h0m0.5-131h0m0.5 154h0m0.5-148.5h0m0 160h0m0.5-157h0m0.5 148h0m1-150.5h0m0 130.5h0m0-0.5h0m0-142h0m0.5 17h0m0-30.5h0m0 205h0m0.5-33h0m0-162h0m1 6.5h0m0 136h0m1-133h0m0 151.5h0m0.5 16.5h0m0-152.5h0m0.5 147.5h0m0-169.5h0m0 21h0m0 135h0m0-13.5h0m0-144h0m0 143h0m0.5 15.5h0m0-166.5h0m0 189.5h0m0-156.5h0m0 120h0m0-126h0m0-8.5h0m0.5 4h0m0 131.5h0m0-130h0m0 146.5h0m0-137.5h0m0 154h0m0-182h0m0-26.5h0m0 8.5h0m0 11h0m0 191.5h0m0 10h0m0 5h0m0.5-55.5h0m0 6.5h0m0 13.5h0m0-160.5h0m0 143.5h0m0 152.5h0m0 4h0m0-303h0m0.5 148h0m0 25.5h0m0.5-165.5h0m0.5 150.5h0m0.5 9h0m0-156.5h0m0-23h0m0 195.5h0m0.5-25h0m0-3.5h0m0-138h0m0-15h0m0.5 165.5h0m0-146h0m0-14.5h0m0 137.5h0m0-130h0m0.5 14.5h0m0 133h0m1-163h0m0 146.5h0m0 0h0m0-157h0m0 214h0m0-56h0m0-120h0m0-6h0m0.5 133h0m0-130h0m0 126h0m0 5.5h0m0.5-140h0m1 5h0m0 123.5h0m0 35.5h0m0.5-150h0m0 122.5h0m0-121h0m0 140.5h0m0-27h0m0-133h0m0.5 137.5h0m0-161.5h0m0 2.5h0m0 0.5h0m0 202.5h0m0 6h0m0-184h0m0 3.5h0m0.5-10.5h0m0 16h0m0 130h0m0 27h0m0-26.5h0m0 2h0m0 2.5h0m0.5-139h0m0-22.5h0m0.5-32h0m0 241h0m0-185h0m0 130h0m0.5-2.5h0m0-124h0m0.5 133.5h0m0.5-15.5h0m0-120.5h0m0 125.5h0m0.5-162h0m1 25.5h0m0 144h0m0.5-146.5h0m0 135h0m0.5 29.5h0m0-29.5h0m0-138h0m0 149.5h0m0 3h0m0-7h0m0 4h0m0 28.5h0m0.5-32h0m0-149.5h0m0 147h0m0-128.5h0m0 125.5h0m0 18h0m0-161.5h0m0 23.5h0m0 129h0m0-155.5h0m0 28.5h0m0-61.5h0m0 0h0m0 18.5h0m0 2h0m0 1.5h0m0 6.5h0m0 0.5h0m0 192h0m0 2h0m0 1.5h0m0 3h0m0 1h0m0 5.5h0m0-58.5h0m0-113.5h0m0 143h0m0-18h0m0-155h0m0 23h0m0-7h0m0 166h0m0.5-18.5h0m0-141.5h0m0 123.5h0m0-131.5h0m0 13.5h0m0 135h0m0 15h0m0-14.5h0m0-138.5h0m0 5.5h0m0-11h0m0-6.5h0m0 143h0m0.5-137h0m0.5-41.5h0m0 179.5h0m0-6h0m0.5-149h0m0 13.5h0m0 133h0m0.5 2.5h0m0-161h0m0 190h0m0.5-147.5h0m0 129h0m1-3.5h0m0-138h0m0.5-2.5h0m0 153h0m0-12h0m0.5-160.5h0m0 196.5h0m0-32.5h0m0-130.5h0m0 131h0m0.5-136.5h0m0 122h0m0-116h0m1 119h0m0.5-1.5h0m0 2.5h0m0-118.5h0m0.5-9h0m0.5 156.5h0m0.5-33.5h0m0.5-139.5h0m0-6h0m0 142.5h0m0-153.5h0m0.5 186h0m0-173h0m0 5h0m0 137.5h0m0-131h0m0 15h0m0 119.5h0m0.5-125h0m0-75h0m0 34h0m0 201h0m0 13.5h0m0 27.5h0m0-65.5h0m0.5 13h0m0-17.5h0m0 1.5h0m0-131h0m0 3h0m0.5-13h0m0 136.5h0m0.5-6h0m1 34h0m0-163h0m0 140.5h0m0-8h0m0.5-139.5h0m0 175.5h0m0.5-189h0m0-69h0m0 46.5h0m0 4.5h0m0 19h0m0 214h0m0 3h0m0-37.5h0m0 5.5h0m0-19h0m0 6h0m0-5h0m0-155.5h0m0.5 1.5h0m0 15h0m0 134h0m0 0h0m0.5-6.5h0m0-134h0m0-14.5h0m0 29h0m0 113h0m0 6.5h0m0-204h0m0 17h0m0 220h0m0 14.5h0m0-169h0m0.5 0h0m0-3h0m0 118.5h0m0 37.5h0m0-3h0m0.5-5.5h0m0-153.5h0m0 9.5h0m0 113h0m0.5-121h0m0 0h0m0 131h0m0.5-121h0m0 155.5h0m0-216h0m0 20h0m0 215.5h0m0.5-200h0m0 139h0m0 24.5h0m0.5 17h0m0-171h0m0 144h0m0-226.5h0m0 58h0m0 0h0m0 197.5h0m0 21.5h0m0-183.5h0m0-27.5h0m0.5 23.5h0m0 121h0m0 41.5h0m0-14h0m0-6h0m0-148.5h0m0 141h0m0.5-12.5h0m0-118.5h0m0 153h0m0-152h0m0 129h0m0.5-143.5h0m0 130.5h0m0-116.5h0m0.5 138h0m0-6h0m0.5 64h0m0-45.5h0m0-169.5h0m0 181h0m0.5-192.5h0m0 142.5h0m0-111h0m0.5 122.5h0m0-124h0m0.5-41.5h0m0 176h0m0.5-149.5h0m0.5 126.5h0m0-131h0m0 145h0m0-122h0m0-24.5h0m0.5-47h0m0 186.5h0m0 20.5h0m0-183h0m0 18h0m0-46.5h0m0.5 13h0m0 171.5h0m0-131h0m0-51.5h0m0.5 7.5h0m0 26h0m0 7.5h0m0 145h0m0-197.5h0m0 48.5h0m0 237h0m0 3h0m0-82.5h0m0 36h0m0-166.5h0m0 9.5h0m0 147h0m0 6h0m0.5-159h0m0 115.5h0m0 16h0m0-160h0m0 171h0m0-138.5h0m0-8h0m0 120.5h0m0.5-0.5h0m0 5.5h0m0-150.5h0m0-68h0m0 41h0m0 0.5h0m0 23.5h0m0 205.5h0m0 0h0m0 4.5h0m0 5.5h0m0 44.5h0m0-253h0m0-51.5h0m0 210.5h0m0 28.5h0m0-167.5h0m0 122.5h0m0.5 17h0m0 5h0m0-11.5h0m0-121h0m0-5h0m0 146h0m0-146.5h0m0-26.5h0m0 15h0m0.5 130.5h0m0-200.5h0m0 28h0m0 228h0m0 11h0m0-35h0m0-174.5h0m0 171h0m0-20h0m0.5 4.5h0m0-192h0m0 211h0m0-150h0m0-78.5h0m0 84.5h0m0-41.5h0m0 0h0m0 2.5h0m0 202h0m0 13.5h0m0 21.5h0m0 10.5h0m0-59.5h0m0-231.5h0m0 68.5h0m0-18.5h0m0.5 154h0m0 34h0m0-38.5h0m0 21.5h0m0-13h0m0-139.5h0m0-5.5h0m0 132.5h0m0-180.5h0m0.5 57h0m0 123h0m0-129.5h0m0 135.5h0m0-138h0m0 20h0m0-5.5h0m0-79.5h0m0 19h0m0 192.5h0m0.5-192.5h0m0 223.5h0m0-186h0m0-40.5h0m0.5 34h0m0.5-86.5h0m0.5 229h0m0 51h0m0-167.5h0m0 4.5h0m0 130.5h0m0-139h0m0.5-0.5h0m0 121h0m0-155h0m0 225.5h0m0-26.5h0m0.5-43.5h0m0.5 21.5h0m0 10h0m0-28.5h0m0 5h0m0-150.5h0m0 27.5h0m0-118h0m0 78.5h0m0 6h0m0 204.5h0m0 10.5h0m0-63.5h0m0.5-115h0m0 110h0m0-114h0m0 162.5h0m0-213h0m0 233h0m0-176.5h0m0.5 139.5h0m0-11.5h0m0 2h0m0-146.5h0m0.5-11h0m0.5 177h0m0.5-179h0m0 169h0m0-147.5h0m0.5 163.5h0m0.5-28h0m0-149h0m0.5-40h0m0 168h0m0-113.5h0m0 164.5h0m0.5-32.5h0m0-127h0m0-8h0m0 131h0m0-122h0m0.5 126h0m0-128h0m0 141.5h0m0-28h0m0 89h0m0.5 37.5h0m0 3h0m0.5-108.5h0m0-133.5h0m0 117.5h0m0.5-134h0m0 154.5h0m0.5-143h0m0 119.5h0m0.5-131.5h0m0 164h0m0-25.5h0m0 31h0m0-26h0m0.5-133.5h0m0 165h0m0-4.5h0m0-27h0m0.5-221.5h0m0 32.5h0m0 3h0m0 9.5h0m0 218.5h0m0 8.5h0m0 11h0m0-205.5h0m0-9h0m0 145.5h0m0-138h0m0 134h0m0.5-131.5h0m0 127h0m0 27h0m0.5-145.5h0m0 118.5h0m0 41h0m0-154.5h0m1-24h0m0 153.5h0m0-124.5h0m0 163h0m0-49h0m0 24.5h0m1-161h0m0 170h0m0.5-27h0m0-151h0m0.5 7.5h0m0 2.5h0m0.5 154h0m0-156.5h0m0.5 134.5h0m0 20h0m1-7h0m0-128h0m0 151.5h0m0 8h0m0-174.5h0m0.5 124h0m0.5-104.5h0m0 144.5h0m0-32h0m0.5-114.5h0m0.5 3h0m0 164h0m0-164.5h0m0 118.5h0m0-7.5h0m0 23.5h0m0-24h0m0.5-182.5h0m0 29h0m0 216h0m0 11.5h0m0-186h0m0-34.5h0m0.5 24h0m0 166.5h0m0-25.5h0m0-137.5h0m0.5 6.5h0m0.5 109h0m0 52h0m0-188.5h0m0 173h0m0.5-154h0m0.5 132h0m0 10.5h0m0-156.5h0m0 153.5h0m0-139.5h0m0.5 173.5h0m0.5 20h0m0-31h0m0-256.5h0m0 211.5h0m0 40.5h0m0.5-155h0m0 140.5h0m0-138.5h0m0-1h0m0-17.5h0m0 185.5h0m0 3.5h0m0.5-51h0m0-171h0m0 18.5h0m0 215h0m0 0.5h0m0-29h0m0-180h0m0.5 199.5h0m0-200.5h0m0.5 159.5h0m0 21h0m0.5-182.5h0m0 259h0m0-118.5h0m0.5 10.5h0m0-139h0m0 127.5h0m0 30h0m0-156.5h0m0.5 10h0m0 127h0m0 0h0m0 9h0m0-131h0m0 142.5h0m0 20h0m0-222.5h0m0 2.5h0m0 16h0m0 3.5h0m0 219.5h0m0 13.5h0m0 7.5h0m0 4h0m0 48.5h0m0-107.5h0m0-144.5h0m0-29h0m0.5 167h0m0-12.5h0m0-153h0m0 10.5h0m0 146h0m0-2h0m0 45.5h0m0-64h0m0 59.5h0m0-54.5h0m0.5-112h0m0 107h0m0 8h0m0-7.5h0m0-191h0m0 20.5h0m0 10.5h0m0 6h0m0 5.5h0m0 213.5h0m0 8.5h0m0 15h0m0 5h0m0 0.5h0m0 11.5h0m0-226h0m0 10.5h0m0 161h0m0-185.5h0m0 145h0m0-115h0m0 105.5h0m0.5 6.5h0m0 40h0m0-165h0m0 2.5h0m0 168.5h0m0-165h0m0 126h0m0 1.5h0m0-138.5h0m0-81h0m0 236.5h0m0-156.5h0m0-43.5h0m0 252h0m0-199.5h0m0.5 124.5h0m0 2.5h0m0.5 4h0m0-156h0m0 200h0m0-231h0m0 20h0m0 221.5h0m0 21h0m0 14.5h0m0-82.5h0m0.5 12.5h0m0 23.5h0m0-34h0m0-5.5h0m0-130.5h0m0.5-14h0m0-15.5h0m0 12.5h0m0 151h0m0-26h0m0 38.5h0m0-162.5h0m0.5 13.5h0m0-43.5h0m0 229.5h0m0-35h0m0.5 7.5h0m0 9h0m0-167h0m0.5 136.5h0m0-0.5h0m0 15.5h0m0.5 1h0m0-169h0m0.5 135h0m0 2h0m0-126.5h0m1 118.5h0m0 51h0m0.5-191h0m0 23.5h0m0 141h0m0-0.5h0m0.5-160h0m0 152h0m0-12h0m0.5-122h0m0 163.5h0m0.5-171.5h0m0 139h0m0.5 21h0m0.5 2h0m0-165.5h0m0 174.5h0m1-8h0m0-26h0m0-133h0m0.5 128h0m0-120.5h0m0.5 1.5h0m0 150h0m0.5-36h0m0.5 43h0m0 6.5h0m0-186.5h0m0.5 173.5h0m0-35.5h0m0.5 33.5h0m0-162h0m0.5 21h0m0-33.5h0m0.5 187.5h0m0-163.5h0m0 172.5h0m0.5-39h0m0.5 43.5h0m0 1.5h0m0-203h0m0 165.5h0m0.5-167h0m0 8h0m0-6h0m0 136.5h0m0.5 40h0m0 66h0m0-71.5h0m0-25.5h0m0.5 34.5h0m0-18h0m0.5-143.5h0m0-7h0m0 183.5h0m0.5-57h0m0.5-106h0m0.5 113.5h0m0-0.5h0m0 54.5h0m0-201h0m0 12h0m0 15.5h0m0 110.5h0m0-168.5h0m0 5h0m0 12.5h0m0 2h0m0 214.5h0m0 6h0m0 8h0m0 38.5h0m0-92h0m0.5-10.5h0m0-16.5h0m0 17.5h0m0 43h0m0-9h0m0-40h0m0-139h0m0 21h0m0 160.5h0m0 10.5h0m0.5-55.5h0m0-118.5h0m0-12h0m0 156.5h0m0 7h0m0-177h0m0.5 207h0m0.5-39h0m0-135.5h0m0 134.5h0m0-141h0m0.5 120.5h0m0 11h0m0 3.5h0m0 9h0m0-16h0m0.5-3h0m0-149.5h0m0-8h0m0 227h0m0-196h0m0.5-14h0m0 130.5h0m0-115.5h0m0 114.5h0m0.5 15h0m0 5.5h0m0-132.5h0m0.5 110.5h0m0 42h0m0.5-27h0m0-129.5h0m0.5 158h0m0-34h0m0 46.5h0m0.5-229h0m0 223h0m0-188h0m0 33h0m0.5 119h0m0-2.5h0m0 41h0m0.5-15.5h0m0.5-20h0m0.5-140h0m0 122h0m0.5 19.5h0m0 17h0m0-32.5h0m0-131.5h0m0.5 14.5h0m0-56h0m0.5 57h0m0.5 129h0m0-7h0m0 25h0m0 19.5h0m0.5-184.5h0m0 182h0m0.5-24h0m0-143.5h0m0 137h0m0-126h0m0 123.5h0m0.5 1h0m0.5-132.5h0m0-18h0m0.5 155.5h0m0-26.5h0m0-134.5h0m0.5 148.5h0m0.5-122.5h0m0 173.5h0m0-63h0m0.5 50h0m0-223h0m0 68.5h0m0 116.5h0m0-120.5h0m0.5 117.5h0m0 9h0m0 24.5h0m0-17.5h0m0-216.5h0m0 283.5h0m0.5-196.5h0m0.5 107h0m0-142h0m0 152.5h0m0 0.5h0m0.5-141h0m0.5 126.5h0m0 19h0m0 17h0m0.5-149h0m0 0.5h0m0 133h0m0-144.5h0m0.5-4h0m0.5 157.5h0m0 5h0m0-156.5h0m0-6h0m0.5 147h0m0-144.5h0m0 154h0m0-9h0m0-2.5h0m0-13h0m0-160.5h0m0 12h0m0 265.5h0m0-100h0m0.5-149h0m0 190.5h0m0-179h0m0 132.5h0m1 37h0m0 7.5h0m0-184h0m0.5 135.5h0m0.5-121.5h0m0 155h0m0.5-32.5h0m0 10.5h0m0 18h0m0.5-180.5h0m0 24h0m0 148h0m0-156h0m0 17h0m0 132h0m0-155.5h0m0 150h0m0 21h0m0-17.5h0m0.5-188.5h0m0 5h0m0 227.5h0m0 37.5h0m0-214.5h0m0.5 146.5h0m0-27h0m0-119.5h0m0.5 114.5h0m0 55h0m0.5-47.5h0m0-122h0m0-10h0m0 129h0m0.5 8.5h0m1-14h0m0-109h0m0 134.5h0m0.5-133.5h0m0 125.5h0m0-158h0m0 159h0m0-137h0m0-26.5h0m0 148h0m0.5 54.5h0m0-35h0m0-8h0m0.5-149.5h0m0 198.5h0m0-254.5h0m0 33.5h0m0 239h0m0-193.5h0m0 125.5h0m0.5 4h0m0.5-1h0m0-143.5h0m0.5 171h0m0-171.5h0m0 0h0m0 131.5h0m0.5 29.5h0m0 26.5h0m0-178h0m0-43.5h0m0 7.5h0m0 215.5h0m0 46h0m0.5-60h0m0-173h0m0 149.5h0m0-172.5h0m0 194h0m0-162.5h0m0 127h0m0.5-12.5h0m0 4h0m0 30h0m0-27h0m0.5 39h0m0-166.5h0m0 7h0m0.5 184.5h0m0-21.5h0m0-161.5h0m0 5.5h0m0.5 128.5h0m0-131.5h0m0 123h0m0-120.5h0m0 124.5h0m0 42h0m0-246.5h0m0 23.5h0m0 245.5h0m0 9h0m0.5-84h0m0-6h0m0.5 62h0m0-24.5h0m0 4h0m0.5-176.5h0m0 277.5h0m0 4h0m0 16h0m0-302h0m0.5-43h0m0 196.5h0m0-123h0m0 140h0m0.5-172.5h0m0 190.5h0m0-17.5h0m0-177.5h0m0 148.5h0m0.5-119h0m0 128h0m0.5-121.5h0m0 157h0m0-167.5h0m0.5 152.5h0m0-139.5h0m0 123.5h0m0.5-6h0m0-10h0m0 44h0m0-177h0m0.5 133.5h0m0-124h0m0-63h0m0.5 249h0m0-176h0m0-3h0m0.5 139h0m0.5-13.5h0m0 37h0m0.5-47.5h0m0 105.5h0m0-241h0m0.5 16h0m0 122.5h0m0 11h0m0-128h0m0 151h0m0-24h0m0.5-149.5h0m0-71.5h0m0 15.5h0m0 197.5h0m0.5-122.5h0m0 158.5h0m0-173.5h0m0 2h0m0 171h0m0.5-19h0m0-129.5h0m0.5 114h0m0 61h0m0-6.5h0m0-196.5h0m0 137.5h0m0 58h0m0-14.5h0m0 17h0m0-13.5h0m0-25h0m0 35h0m0-22h0m0-155.5h0m0.5 128h0m0-144.5h0m0-77.5h0m0 22.5h0m0 8.5h0m0 9.5h0m0 11.5h0m0 3.5h0m0 11.5h0m0 223h0m0 5.5h0m0 2h0m0 1h0m0 1h0m0 4h0m0 0h0m0-207.5h0m0 12h0m0-30.5h0m0-12h0m0 182.5h0m0-167h0m0 139h0m0-128.5h0m0-11h0m0 16.5h0m0 126.5h0m0.5-6h0m0 24.5h0m0 3h0m0-137h0m0-25h0m0 199.5h0m0-59h0m0 34.5h0m0-6.5h0m0 4.5h0m0-11.5h0m0.5-18h0m0-153.5h0m0.5 199h0m0-193.5h0m0 138.5h0m0.5 46.5h0m0-44h0m0-112.5h0m0-85h0m0.5 49h0m0 214h0m0-178h0m1 137.5h0m0-15h0m0-6h0m0.5 51h0m0-53h0m0 80.5h0m0.5-202h0m0 1.5h0m0-3.5h0m0 126.5h0m0.5-198h0m0 252h0m0-12h0m0-182.5h0m0 5h0m0.5 14h0m0 172h0m0.5-167.5h0m0-19.5h0m0 128.5h0m0.5 8h0m0 34h0m0.5-18.5h0m0-153h0m0.5 128.5h0m0 67h0m0-175.5h0m0-4h0m0-50h0m0 228.5h0m0 56.5h0m0-121h0m0.5 6h0m0-125h0m0-8h0m0 150.5h0m0-22.5h0m1-124h0m0.5 132.5h0m0 32.5h0m0-17.5h0m0-27h0m0 42.5h0m0.5-174h0m0 134.5h0m0-117h0m0-36.5h0m0 156.5h0m0-162h0m0 235.5h0m0.5-51.5h0m0 34h0m0.5-208.5h0m0 0.5h0m0 190.5h0m0.5-37.5h0m0-0.5h0m0 32h0m0 24h0m0.5-180.5h0m0-13h0m0.5 161h0m0-8.5h0m0 13.5h0m0 6.5h0m0-189.5h0m0.5 34h0m0 134h0m0-170.5h0m0 153h0m0-118h0m0 124.5h0m0-118.5h0m0 143h0m0.5-206.5h0m0 2.5h0m0 6.5h0m0 244.5h0m0 11h0m0 4.5h0m0-221.5h0m0-2h0m0 127h0m0 33h0m0-13h0m0-19.5h0m0 60.5h0m0.5-172.5h0m0-30h0m0 17.5h0m0 184h0m0-21.5h0m0.5-2.5h0m0-205.5h0m0 247.5h0m0-188h0m0 139.5h0m0-216h0m0 42h0m0 213h0m0 17h0m0 1h0m0-236.5h0m0 216h0m0-9.5h0m0-47.5h0m0.5 1.5h0m0-128h0m0 149.5h0m0-15.5h0m0-5h0m0-150h0m0.5 6.5h0m0 156.5h0m0 28.5h0m0-170h0m0 133.5h0m0-129.5h0m0.5 176.5h0m0-175h0m0 121h0m1 25.5h0m0-6h0m0-148h0m0.5-10h0m0 153.5h0m0.5-161h0m0 165.5h0m0-17.5h0m0 15h0m0.5-154h0m0-26.5h0m0.5 191h0m0.5-36h0m0-143.5h0m0 155.5h0m0.5 50.5h0m0-188h0m0.5 176.5h0m0-191h0m0.5 6h0m0 193h0m0-190h0m0 182h0m0-14h0m0.5-158.5h0m0 153.5h0m0-27h0m0 66h0m0-51h0m0.5-166h0m0 156.5h0m0-6.5h0m0-117.5h0m0-17.5h0m0-39.5h0m0 7.5h0m0 244.5h0m0 1h0m0-232.5h0m0 164h0m0 19.5h0m0.5-174.5h0m0 14.5h0m0-11.5h0m0.5 23.5h0m0 169.5h0m0-27.5h0m0-17.5h0m0-221h0m0.5 229.5h0m0-7.5h0m0.5 23.5h0m0.5-146h0m0-5.5h0m0 139.5h0m0 32h0m0.5-0.5h0m0.5-193h0m0 189h0m0-179h0m0.5 150h0m0-9.5h0m0-126.5h0m0.5 115.5h0m0 122.5h0m0.5-72h0m0-189.5h0m0 15h0m0 185h0m0.5-174h0m0 153.5h0m0 18.5h0m0 10.5h0m0.5-32.5h0m0-149.5h0m0-34h0m0.5-66h0m0 264h0m0-21.5h0m0.5-13h0m0-163h0m0 28.5h0m0.5-65h0m0 6h0m0 1h0m0 10h0m0 240.5h0m0 13h0m0 2h0m0 14.5h0m0 3h0m0-100h0m0 4h0m0-1h0m0-123h0m0 119h0m0-123.5h0m0-21.5h0m0.5 9h0m0 138.5h0m0-163.5h0m0 177.5h0m0-154.5h0m0 144h0m0 20h0m0-15h0m0-136.5h0m0-19h0m0 146.5h0m0-160h0m0 209h0m0-205.5h0m0 186.5h0m0-174.5h0m0-3h0m0 209h0m0-202h0m0 135.5h0m0.5 24h0m0-26h0m0 41h0m0.5 4.5h0m0-42h0m0-152h0m0.5 5.5h0m0 15h0m0-76h0m0 245.5h0m0-172.5h0m0 183h0m0.5-16.5h0m0.5-154.5h0m0 143h0m0-137h0m0-2.5h0m0-7.5h0m0 159.5h0m0-175.5h0m0 166.5h0m0-19h0m0-127.5h0m0 182h0m0-219.5h0m0.5 167h0m0-162.5h0m0-3h0m0-42.5h0m0 0h0m0 1h0m0 18.5h0m0 1h0m0 2h0m0 3.5h0m0 2h0m0 249.5h0m0 2h0m0 0.5h0m0 2h0m0 1.5h0m0 5.5h0m0 14h0m0 1h0m0-245.5h0m0 171h0m0-147.5h0m0 3h0m0-38h0m0 191h0m0-179h0m0 195h0m0-38.5h0m0 31.5h0m0-199h0m0 155h0m0 35.5h0m0-189.5h0m0 202.5h0m0-183h0m0 173.5h0m0-188h0m0 186h0m0-26h0m0 9.5h0m0 5h0m0-13h0m0-3.5h0m0 17.5h0m0-147h0m0.5 163.5h0m0-39h0m0 47h0m0-37.5h0m0-14.5h0m0-150.5h0m0 4h0m0 186h0m0.5-2.5h0m0.5 11h0m0-188h0m0 143.5h0m0.5-151.5h0m0 207h0m0-22.5h0m0.5-158h0m0.5 131.5h0m0 7h0m0.5 9h0m0-161h0m0-15.5h0m0 154.5h0m0-147.5h0m0 20.5h0m0 179.5h0m0.5-176h0m0 181.5h0m0-1.5h0m0-223h0m0 199.5h0m0-41h0m0 42h0m0-158.5h0m0-64.5h0m0 8h0m0 246.5h0m0 33h0m0.5-228.5h0m0 140h0m0 1h0m0-178h0m0 35.5h0m0-32h0m0.5 201.5h0m0 16.5h0m0.5-28h0m0-169.5h0m0 4h0m0 9.5h0m0 136.5h0m0-141.5h0m0 161.5h0m0 20h0m0-52.5h0m0 32h0m0-13.5h0m0.5-147.5h0m0-22.5h0m0 178h0m0-17.5h0m0 14.5h0m0-158.5h0m0 14.5h0m0 155h0m0-33h0m0-0.5h0m0-169h0m0 38.5h0m0-29.5h0m0 202h0m0 20h0m0-25h0m0.5-198h0m0 198h0m0-189h0m0-72h0m0 38h0m0 1h0m0 5h0m0 1.5h0m0 0.5h0m0 244.5h0m0 2h0m0 11.5h0m0 1h0m0 1h0m0 38.5h0m0-285h0m0 195.5h0m0-24h0m0-163h0m0 32.5h0m0 3h0m0 155h0m0-195.5h0m0 199h0m0-21h0m0.5-135h0m0-32.5h0m0 20h0m0 8.5h0m0-12.5h0m0 134.5h0m0 60h0m0-1h0m0 1h0m0-61.5h0m0 50h0m0-173.5h0m0-40.5h0m0 190h0m0-147.5h0m0.5 121.5h0m0-1.5h0m0 33h0m0-34.5h0m0-194h0m0 4h0m0 10h0m0 252.5h0m0 7h0m0 24h0m0 3.5h0m0-271h0m0 196h0m0.5-23.5h0m0-127h0m0-43.5h0m0 175h0m0.5 30.5h0m0.5-18h0m0 3.5h0m0.5-159h0m0-36h0m0 207h0m0.5-25h0m0-8h0m0-152.5h0m0.5 22h0m0 9.5h0m0 135h0m0.5 0h0m0-138h0m0-70h0m0 70.5h0m0-2.5h0m0.5 151h0m0-148.5h0m0.5 172.5h0m0.5-16.5h0m0-172.5h0m0 139h0m0.5-146.5h0m0 191.5h0m0-199.5h0m0 152h0m0.5-128.5h0m0 155h0m0-181h0m0 29.5h0m0-19.5h0m0.5 197h0m0-15.5h0m0-221.5h0m0 247h0m0-26.5h0m0-183.5h0m0.5 145h0m0 7.5h0m0-186.5h0m0 25h0m0 208.5h0m0-227.5h0m0.5 228.5h0m0-202.5h0m0-55.5h0m0 29.5h0m0 238.5h0m0-257.5h0m0 23h0m0 26h0m0.5-23h0m0 1h0m0 13h0m0-59h0m0.5 49h0m0-32.5h0m0-15h0m0 27.5h0m0 243h0m0-228.5h0m0 5h0m0.5 18.5h0m0 182h0m0-171.5h0m0 147h0m0-169.5h0m0 173h0m0.5-228h0m0 82h0m0-35.5h0m0 10h0m0 177.5h0m0-177h0m0 5h0m0-49h0m0.5-7h0m0 250.5h0m0-265h0m0 8h0m0.5 239.5h0m0-235h0m0 43.5h0m0-18h0m0 232h0m0-214h0m0.5-5h0m0 226h0m0-179.5h0m0-24h0m0-43.5h0m0 19h0m0-33h0m0 58.5h0m0.5 16h0m0 167h0m0 8.5h0m0 8.5h0m0-205.5h0m0.5-55h0m0 66.5h0m0-29.5h0m0.5 212.5h0m0 23.5h0m0-195h0m0.5 129.5h0m0-127h0m0 178.5h0m0-38.5h0m0.5 24h0m0-168.5h0m0-16.5h0m0 27.5h0m0 164h0m0-45h0m0-172h0m0 39h0m0 142.5h0m0-176h0m0 223.5h0m0-16h0m0.5-29.5h0m0-136h0m0-68h0m0 11.5h0m0 248h0m0 18h0m0 17h0m0-275.5h0m0 54.5h0m0 171.5h0m0-186h0m0 2.5h0m0.5 253.5h0m0.5-123h0m0 4h0m0 25h0m0.5-174.5h0m0 23.5h0m0 139.5h0m0.5-152h0m0 135.5h0m0.5-167h0m0.5 204.5h0m0-23.5h0m0-186h0m0-4h0m0.5-1.5h0m0 198.5h0m0.5 4h0m0-158h0m0-3h0m0 197.5h0m0-188.5h0m0.5-90.5h0m0 38.5h0m0 5.5h0m0 243h0m0 4h0m0 3h0m0-234.5h0m0 170.5h0m0-10.5h0m0 55.5h0m0-56h0m0 0.5h0m0 32.5h0m0.5-178.5h0m0 194.5h0m0-7h0m0-169h0m0-11h0m0 9.5h0m0-1.5h0m0 6.5h0m0 152.5h0m0-199.5h0m0 216h0m0-184h0m0.5 141.5h0m0 4h0m0-138.5h0m0 173h0m0-29h0m0-14.5h0m0 5h0m0-193.5h0m0 4h0m0 255.5h0m0 8.5h0m0 1h0m0-251.5h0m0.5 34.5h0m0 159.5h0m0 8h0m0-199h0m0 178h0m0-223h0m0 59h0m0 209.5h0m0 0.5h0m0-7h0m0-241.5h0m0 311h0m0 1.5h0m0.5-114h0m0-127h0m0-33h0m0 200.5h0m0-1.5h0m0-39.5h0m0-134h0m0-10h0m0.5-26h0m0 227h0m0-47h0m0.5-6.5h0m0-179h0m0-20h0m0 259.5h0m0-214.5h0m0 3h0m0.5-6h0m0 166.5h0m0 0.5h0m0-179h0m0.5 29h0m0 136.5h0m0.5 27.5h0m0-15.5h0m0-170.5h0m0 190.5h0m0.5 22h0m0-204.5h0m0 179.5h0m0-159h0m0.5 193.5h0m0-65h0m0.5 13h0m0-166.5h0m0 17h0m0 147h0m0-3.5h0m0.5-186.5h0m0 191.5h0m0-14.5h0m0.5-145.5h0m0.5 7.5h0m0 233.5h0m0.5-67h0m0-204.5h0m0 9.5h0m0 17h0m0 161.5h0m0-10h0m0.5 55h0m0-0.5h0m0.5-193.5h0m0 155.5h0m0-7h0m0-189h0m0 20.5h0m0 24h0m0 151.5h0m0.5 17.5h0m0-231.5h0m0 298.5h0m0-248h0m0 1.5h0m0 154h0m0 0h0m0-190h0m0.5 36h0m0-43.5h0m0 264h0m0-22.5h0m0-19h0m0-173h0m0.5 164.5h0m0-164.5h0m0 157h0m0.5-180.5h0m0 23h0m0.5 138.5h0m0-218h0m0 221.5h0m0.5-1h0m0.5 19.5h0m0-172h0m0 15h0m0 9.5h0m0-6h0m0.5 156h0m0 15.5h0m0-7h0m0-189.5h0m0.5 187h0m0-23.5h0m0 40.5h0m0-197.5h0m0-49.5h0m0 2.5h0m0 0h0m0 0h0m0 4h0m0 3h0m0 262.5h0m0 1h0m0 2.5h0m0 0.5h0m0 16.5h0m0 1h0m0 7.5h0m0 16.5h0m0 1h0m0-258.5h0m0 191.5h0m0-183.5h0m0 174.5h0m0-185h0m0.5 142h0m0 64h0m0-53h0m0-144h0m0 158h0m0-177h0m0 153h0m0-168.5h0m0 182.5h0m0-9.5h0m0-185h0m0 31h0m0 163h0m0 44h0m0-25h0m0 22.5h0m0-203.5h0m0 17.5h0m0 146.5h0m0-6h0m0-157.5h0m0-27.5h0m0 176h0m0 30.5h0m0.5-23.5h0m0 37.5h0m0-12h0m0-177h0m0 15.5h0m0 149h0m0-147.5h0m0-7.5h0m0-24h0m0-12.5h0m0 32.5h0m0 178.5h0m0-202.5h0m0-12.5h0m0 11h0m0 174.5h0m1-144.5h0m0-31.5h0m0 170h0m0.5 28h0m0-182h0m0 203h0m0.5-190h0m0.5 173.5h0m0-207.5h0m0.5 38h0m0 141.5h0m0 123h0m0-115h0m0.5-181h0m0 193h0m0.5-159h0m0-44h0m0 188.5h0m0-155.5h0m0 141h0m0-143h0m0-78.5h0m0 2h0m0 17.5h0m0 276.5h0m0 2.5h0m0 5.5h0m0 2.5h0m0 14h0m0-230.5h0m0-46h0m0 40h0m0.5 144.5h0m0-141.5h0m0 133.5h0m0 33h0m0-175h0m0 0.5h0m0 193h0m0-38h0m0 29h0m0-39.5h0m0 46.5h0m0-188.5h0m0 198h0m0-209h0m0 11h0m0.5-12.5h0m0 16h0m0-33.5h0m0 182h0m0 3h0m0 0h0m0-163.5h0m0 158h0m0 37.5h0m0-47h0m0-151h0m0.5 179.5h0m0-174.5h0m0 14.5h0m0.5 185h0m0-240h0m0.5 28h0m0 17.5h0m0 203h0m0-1h0m0.5-36.5h0m0-17h0m0 81.5h0m0-236h0m0-10.5h0m0.5 191.5h0m0-23h0m0 43.5h0m0.5-206h0m0-50.5h0m0-1.5h0m0-19h0m0 7.5h0m0.5 58h0m0 158h0m0-210.5h0m0 16.5h0m0 60h0m0-53h0m0-4.5h0m0 60.5h0m0.5 151h0m0-228h0m0 2h0m0 42.5h0m0-46h0m0 70.5h0m0-28.5h0m0-21h0m0.5 188.5h0m0-207h0m0 205.5h0m0-161.5h0m0-26.5h0m0 43h0m0-59h0m0-4h0m0 12.5h0m0 40h0m0 4.5h0m0.5 160.5h0m0-190.5h0m0-6h0m0-88.5h0m0 55h0m0 78h0m0-75.5h0m0 75h0m0.5-39h0m0-6.5h0m0 0.5h0m0 13.5h0m0.5 234h0m0-232.5h0m0 30h0m0-7.5h0m0 192.5h0m0-221h0m0.5 35h0m0-45.5h0m0 3h0m0 27h0m0-30.5h0m0 240.5h0m0.5-49.5h0m0-179.5h0m0 47.5h0m0 144h0m0-188h0m0 18h0m0 7h0m0 150.5h0m0-175.5h0m0.5-24.5h0m0 0h0m0 43.5h0m0-45h0m0 25h0m0-3h0m0 24h0m0.5-19.5h0m0 189.5h0m0-227.5h0m0 0.5h0m0 221h0m0.5 14h0m0-219h0m0 15.5h0m0-6h0m0-8.5h0m0 44.5h0m0-24h0m0 7h0m0 180h0m0 15h0m0-226h0m0 49.5h0m0-18h0m0 169.5h0m0-225.5h0m0 304h0m0.5-251.5h0m0 14.5h0m0-10h0m0 22.5h0m0-27.5h0m0-21h0m0 248h0m0.5-257.5h0m0 250h0m0-212.5h0m0 0h0m0 13h0m0 8.5h0m0-4.5h0m0 13.5h0m0.5 171h0m0-185.5h0m0 191h0m0-7h0m0 28h0m0 0.5h0m0-65h0m0-138.5h0m0 154h0m0.5-198.5h0m0 191h0m0-204.5h0m0 23.5h0m0 177h0m0-218.5h0m0 82.5h0m0-10.5h0m0 1.5h0m0 7h0m0-81h0m0.5 0h0m0 84h0m0-27.5h0m0-13.5h0m0 25.5h0m0.5 156h0m0.5-193h0m0 228h0m0-188h0m0 182.5h0m0-28h0m0-212.5h0m0 9h0m0 269h0m0 0.5h0m0 4.5h0m0-221h0m0-11h0m0.5 173h0m0-167.5h0m0 147h0m0 39h0m0.5-178.5h0m0 180.5h0m0-33h0m0-150h0m0 158h0m0-178h0m0 13.5h0m0 12h0m0 160h0m0-197.5h0m0-47h0m0 21.5h0m0 252h0m0 49.5h0m0 17h0m0-101h0m0 7h0m0-158.5h0m0 178h0m0.5-25h0m0-187h0m0 203h0m0 1h0m0-201h0m0 175.5h0m0-143h0m0-54.5h0m0.5 12.5h0m0 179h0m0-160h0m0 198h0m0-182h0m0-31h0m0 168.5h0m0 45.5h0m0.5-40.5h0m0 9.5h0m0-156.5h0m0 11h0m0-90.5h0m0 326.5h0m0.5-59h0m0-195h0m0 169.5h0m0.5-14h0m0-146h0m0.5 1.5h0m0 7.5h0m0.5 181h0m0-217h0m0 3h0m0-13.5h0m0 17h0m0 179h0m0-2.5h0m0-189h0m0 205h0m0.5-31h0m0-224.5h0m0 30.5h0m0 268.5h0m0 1.5h0m0-76.5h0m0-134.5h0m0 192.5h0m0-31.5h0m0 19h0m0-235.5h0m0 40h0m0.5-1h0m0 152h0m0 24.5h0m0-244h0m0 285h0m0 1.5h0m0-255.5h0m0.5 241h0m0-224h0m0 232h0m0-45.5h0m0-152h0m0 137.5h0m0.5 13.5h0m0-156.5h0m0-23h0m0 5h0m0.5 16.5h0m0-73h0m0 284.5h0m0 24h0m0 26h0m0-252.5h0m0 151.5h0m0 11h0m0-193h0m0.5 189h0m0 14.5h0m0 9h0m0-15h0m0-195h0m0.5 162h0m0-139h0m0-10h0m0-13.5h0m0 17.5h0m0.5 155.5h0m0 0h0m0-187.5h0m0.5 206.5h0m0-208h0m0 200h0m0.5-161.5h0m0-29.5h0m0.5 172.5h0m0 42.5h0m0-222.5h0m0.5 190h0m0 24.5h0m0-236.5h0m0 268.5h0m0-232.5h0m0 180.5h0m0.5-197.5h0m0 11.5h0m0 186.5h0m0.5 16.5h0m0 12h0m0.5-195.5h0m0.5 157.5h0m0-147.5h0m0-38.5h0m0 9h0m0.5 184.5h0m0 23h0m0 11.5h0m0 11h0m0.5-241.5h0m0 44.5h0m0 188h0m0.5 9h0m0 67h0m0-266h0m0 174h0m0-201h0m0.5 196.5h0m0-178h0m0.5 185h0m0-187h0m0.5 154.5h0m0-160h0m0-34.5h0m0 198h0m0 33h0m0.5-199.5h0m0 26.5h0m0 134.5h0m0 12h0m0 37h0m0-194.5h0m0 196h0m0-58h0m0 24.5h0m0-156h0m0 162h0m0.5 6h0m0-5.5h0m0-201.5h0m0 228.5h0m0-46.5h0m0 48.5h0m0-37h0m0 36.5h0m0-211h0m0-7.5h0m0 24.5h0m0 171.5h0m0-200h0m0 28h0m0-19.5h0m0 26h0m0 142.5h0m0-159h0m0-36.5h0m0 216h0m0-13h0m0 6.5h0m0-17h0m0-137.5h0m0-90.5h0m0 17.5h0m0 3h0m0 3h0m0 2h0m0 261h0m0 10.5h0m0 0.5h0m0 2h0m0 2.5h0m0 1h0m0 11h0m0 1h0m0 25.5h0m0 3.5h0m0 38.5h0m0-309.5h0m0 189.5h0m0-229h0m0 7.5h0m0 187h0m0-183.5h0m0.5 28.5h0m0 2h0m0 167.5h0m0-154h0m0 138h0m0.5-147.5h0m0-20.5h0m0 189.5h0m0-182.5h0m0.5 174.5h0m0-213.5h0m0 308h0m0-117h0m0 58h0m0.5-6h0m0-23h0m0-209.5h0m0 51h0m0.5 131.5h0m0-181.5h0m0.5-1.5h0m0 258h0m0-55h0m0.5 0h0m0-155.5h0m0-87.5h0m0.5 72h0m0 9h0m0.5 149.5h0m0 1h0m0-1.5h0m0 6.5h0m0-205h0m0 1.5h0m0 270h0m0 16.5h0m0 7h0m0 54.5h0m0-151h0m0-145.5h0m0 138h0m0-135h0m0 196h0m0.5-60h0m0 26.5h0m0-157h0m0-14.5h0m0 12h0m0-13h0m0.5-13h0m0 0.5h0m0 174h0m0 3.5h0m0-170h0m0.5 166.5h0m0-144.5h0m0.5-26h0m0 178.5h0m0-200h0m0.5 13h0m0 188.5h0m0 16h0m0.5-170.5h0m0 143.5h0m0.5-15.5h0m0.5-152.5h0m0-27.5h0m0 32h0m0.5-10h0m0 171.5h0m0-151.5h0m0 143.5h0m0.5-6h0m0 15.5h0m0-169.5h0m0 6h0m0.5 20.5h0m0 138h0m0 7h0m0.5-177h0m0 160.5h0m0.5 13h0m0-4.5h0m0.5-174.5h0m0 8.5h0m0 171.5h0m0-141.5h0m0-23.5h0m0.5 177.5h0m0-169h0m0 145h0m0 38h0m0.5-185.5h0m0 9h0m0.5 143h0m0 23h0m0-180.5h0m0.5 172.5h0m0-161h0m0.5 185.5h0m0 28h0m0-59h0m0-192.5h0m0 5.5h0m0 24.5h0m0.5 145h0m0-177h0m0 31.5h0m0 3h0m0 202.5h0m0-196h0m0.5 157.5h0m0-167h0m0 162h0m0 25h0m0-9h0m0-5h0m0-20.5h0m0-133h0m0 168.5h0m0.5-13h0m0-210h0m0 21h0m0 2.5h0m0-41.5h0m0 263.5h0m0 11h0m0 9h0m0.5-75.5h0m0-158.5h0m0 153.5h0m0.5-156h0m0 26h0m0 128.5h0m0-146h0m0 194h0m0.5-20h0m0.5-192h0m0-15.5h0m0 46h0m0 187h0m0-24h0m0-215h0m0 202.5h0m0-18.5h0m0 9h0m0-164h0m0 11h0m0 17h0m0 177.5h0m0-180.5h0m0 140h0m0-165.5h0m0-13h0m0 187h0m0-176.5h0m0 207.5h0m0 1h0m0.5-179.5h0m0-24h0m0 170h0m0-146h0m0 165h0m0-0.5h0m0-181h0m0-5h0m0 166.5h0m0-187.5h0m0 206.5h0m0 9.5h0m0-175h0m0-40.5h0m0 39.5h0m0 131h0m0 37.5h0m0-25.5h0m0 25.5h0m0-217h0m0 193.5h0m0-159h0m0-40h0m0 2.5h0m0 19.5h0m0-18h0m0 214h0m0-28h0m0-153h0m0 169.5h0m0-6h0m0 18h0m0-207.5h0m0 39h0m0 141.5h0m0.5-225h0m0 6.5h0m0 11.5h0m0 1h0m0 0h0m0 3.5h0m0 2h0m0 4.5h0m0 244.5h0m0 8h0m0 1h0m0 2h0m0 12.5h0m0 1.5h0m0 3h0m0 2h0m0 2.5h0m0 3h0m0 2h0m0 6h0m0 6h0m0 0h0m0 1h0m0 4h0m0 11.5h0m0 29.5h0m0-127.5h0m0-7.5h0m0 5h0m0-22h0m0 1h0m0-140h0m0-27.5h0m0 170h0m0-153h0m0 24h0m0 150.5h0m0-186.5h0m0 200h0m0-167h0m0-83.5h0m0 252.5h0m0.5 10h0m0-202.5h0m0 160.5h0m0.5-168.5h0m0 219.5h0m0-228.5h0m0 5h0m0 37.5h0m0 153.5h0m0.5-24.5h0m0 3.5h0m0-172.5h0m0 186.5h0m0-176.5h0m0 157h0m0 29.5h0m0-28.5h0m0-162h0m0 214h0m0-214h0m0 161.5h0m0-133.5h0m0-43.5h0m0 45h0m0.5 168h0m0-29h0m0 21h0m0-184.5h0m0 15h0m0 157.5h0m0-219h0m0 13.5h0m0 254.5h0m0 10h0m0 27h0m0 2h0m0 2.5h0m0-248h0m0 152h0m0.5-189h0m0-20.5h0m0 286.5h0m0-57.5h0m0-29h0m0 58.5h0m0-188h0m0-43h0m0 206h0m0.5-209.5h0m0 187.5h0m0-201.5h0m0 288h0m0.5-232h0m0 1.5h0m0 166.5h0m0-30.5h0m0.5-131.5h0m0-45h0m0 31h0m0 188.5h0m0-224h0m0 196.5h0m0.5-174.5h0m0 192.5h0m0 15.5h0m0.5-223h0m0.5 10.5h0m0 28.5h0m0.5 129h0m0 6h0m0 5h0m0.5-179.5h0m0 211h0m0.5-12h0m0-196h0m0 31.5h0m0 145.5h0m0-6.5h0m0 25.5h0m0-229h0m0 266.5h0m0 19.5h0m0 32h0m0.5-114h0m0-160h0m0 198h0m0-177h0m0 6h0m0-46h0m0 37.5h0m0.5 165h0m0-4.5h0m0-186h0m0 36.5h0m0 168h0m0-219.5h0m0.5 184.5h0m0-139.5h0m0.5 134.5h0m0 139.5h0m0-270h0m0 177.5h0m0.5-257.5h0m0 295h0m0 12h0m0-87h0m0-1h0m0 33h0m0-215.5h0m0 47h0m0 152.5h0m0-200.5h0m0 223h0m0.5-231.5h0m0 190h0m0-165h0m0-3h0m0.5-28h0m0 272h0m0-24.5h0m0-23h0m0 22h0m0-221.5h0m0.5 167.5h0m0-177.5h0m0 215h0m0.5-32.5h0m0-160h0m0.5 190.5h0m0-186h0m0-28.5h0m0 203h0m0.5 4h0m0.5-161h0m0 3h0m0.5-27.5h0m0 200.5h0m0-19.5h0m0-28h0m1-1h0m0-170.5h0m0 215.5h0m0-179h0m0.5 5h0m0-23h0m0-4.5h0m0.5 181h0m0-19h0m0.5 38h0m0-28h0m0-12.5h0m0.5 34h0m0-25h0m0 7.5h0m0-5h0m0-164.5h0m0 26h0m0 135.5h0m0-189.5h0m0 11.5h0m0-7h0m0 37.5h0m0-2.5h0m0 166.5h0m0-31h0m0-134.5h0m0 155h0m0-160.5h0m0 147.5h0m0-136.5h0m0.5-21h0m0 177h0m0-220h0m0 6h0m0 252h0m0 1.5h0m0 16h0m0 3.5h0m0 14.5h0m0 38.5h0m0-121h0m0.5 9h0m0-149.5h0m0-5.5h0m0-67.5h0m0 58.5h0m0 138.5h0m0 28h0m0.5-3.5h0m0 23.5h0m0-3h0m0-35h0m0-8h0m0.5-165.5h0m0 23.5h0m0 8.5h0m0 165.5h0m0-35h0m0-199.5h0m0 288.5h0m0 8h0m0 51h0m0-301h0m0-1.5h0m0.5-1.5h0m0 164h0m0-150h0m0.5-23h0m0 1h0m0 168.5h0m0 21h0m0.5-17.5h0m0-151h0m0-5h0m0.5 161.5h0m0-141h0m0.5 145h0m0-1h0m0-7h0m0-160.5h0m0.5-17h0m0 171h0m0 21h0m0 36h0m0-224.5h0m0 38h0m0-63.5h0m0 255.5h0m0 8.5h0m0 8.5h0m0-74.5h0m0-162h0m0.5 177.5h0m0-183h0m0 170h0m0-137h0m0 185.5h0m0-225h0m0.5 177.5h0m0.5-149h0m0 188h0m0 7h0m0.5-195h0m0 178.5h0m0-14.5h0m0-174.5h0m0 231.5h0m0 2h0m0-222h0m0.5 144.5h0m0-138h0m0 167.5h0m0-26h0m0.5-6.5h0m0-135.5h0m0 4.5h0m0.5-4.5h0m0.5 163.5h0m0-203.5h0m0 178.5h0m0.5 2.5h0m0-162.5h0m0.5-26h0m0 20.5h0m0 188h0m0-188h0m0.5 156.5h0m0 55h0m0-184h0m0.5 154.5h0m0-19h0m0.5-174.5h0m0 178h0m0.5-4.5h0m0-4.5h0m0-144h0m0.5-6.5h0m0 194.5h0m0.5 17.5h0m0-185h0m0-53h0m0.5 10h0m0 175h0m0.5 24h0m0-6h0m0-148h0m0-2.5h0m0.5-53h0m0.5 23.5h0m0 154h0m0.5 15.5h0m0 21h0m0.5 14.5h0m0-17.5h0m0-156.5h0m0 180h0m0-193h0m0 8.5h0m0 138h0m0 0h0m0.5-168h0m0-23h0m0 241.5h0m0 17.5h0m0-243.5h0m0 39.5h0m0-10.5h0m0.5 3h0m0 191.5h0m0.5 47h0m0-88.5h0m0-9h0m0-152h0m0.5 9.5h0m0 12.5h0m0 129.5h0m0 34.5h0m0 12h0m0.5-272h0m0 25h0m0 238h0m0.5-195h0m0-81h0m0 71.5h0m0-11h0m0-24h0m0 206.5h0m0.5-184h0m0 7h0m0-33h0m0 74h0m0-28.5h0m0-1.5h0m0-62.5h0m0 240h0m0.5 51.5h0m0-208h0m0-6.5h0m0 15.5h0m0 144h0m0-179.5h0m0-51h0m0 49h0m0.5-65.5h0m0 235.5h0m0-232.5h0m0 261.5h0m0 13.5h0m0-11h0m0-161.5h0m0-23.5h0m0 22.5h0m0-107h0m0 286.5h0m0-195.5h0m0-5h0m0-4.5h0m0 159.5h0m0-166h0m0 8h0m0 157h0m0-10h0m0 8h0m0.5-9h0m0-173.5h0m0 19.5h0m0 190.5h0m0-177.5h0m0 14h0m0-67h0m0 204.5h0m0 6h0m0-176.5h0m0 219.5h0m0-188h0m0-10h0m0 14.5h0m0 163.5h0m0-206.5h0m0 205h0m0-36.5h0m0-166h0m0 186.5h0m0-154.5h0m0-75h0m0 228h0m0-143.5h0m0.5 148.5h0m0-157.5h0m0 165h0m0-12h0m0-207h0m0 28.5h0m0 156h0m0-212.5h0m0 12.5h0m0 5.5h0m0 7.5h0m0 5h0m0 248h0m0 0.5h0m0 0.5h0m0 21.5h0m0 5h0m0 9.5h0m0 5h0m0 0h0m0 0.5h0m0-287.5h0m0 39.5h0m0 12.5h0m0 187.5h0m0-206.5h0m0 187h0m0-251h0m0 48.5h0m0.5 38h0m0 139h0m0 28h0m0-191h0m0 163.5h0m0-3h0m0 24.5h0m0-240h0m0 47h0m0 160h0m0-197h0m0 3h0m0 253.5h0m0 25h0m0 16h0m0 26.5h0m0-298.5h0m0 9.5h0m0-72.5h0m0 236h0m0 25h0m0-174.5h0m0-25.5h0m0 190h0m0-249h0m0.5 1h0m0 62.5h0m0 15.5h0m0 28h0m0-20h0m0-75h0m0 50.5h0m0 14.5h0m0 20.5h0m0.5 130.5h0m0-179h0m0 281.5h0m0-327.5h0m0 272h0m0-33.5h0m0-202.5h0m0 55h0m0 165h0m0.5-221.5h0m0 30h0m0 2h0m0-7.5h0m0 173h0m0-281h0m0 22h0m0 18h0m0 23.5h0m0 258.5h0m0.5 3h0m0-240h0m0 306h0m0-313h0m0 12h0m0 24.5h0m0-71h0m0 284.5h0m0-216h0m0 29h0m0 132.5h0m0-157.5h0m0 14h0m0-47.5h0m0.5 33h0m0-8.5h0m0 8.5h0m0 214.5h0m0-4h0m0-196.5h0m0-30h0m0 215.5h0m0-184.5h0m0-36h0m0.5 210.5h0m0-255h0m0 28.5h0m0 7h0m0 21h0m0 44h0m0-47.5h0m0 11.5h0m0-58h0m0 65.5h0m0.5-47h0m0 37h0m0 4.5h0m0 32.5h0m0-28.5h0m0-76h0m0 30.5h0m0 74.5h0m0-24h0m0 166h0m0.5-2h0m0-163h0m0 169h0m0 36.5h0m0-186h0m0 160.5h0m0-33h0m0 61h0m0.5 22.5h0m0-209h0m0-5.5h0m0-28.5h0m0 192h0m0.5-19.5h0m0-162h0m0.5-21.5h0m0 196.5h0m0-175.5h0m0.5 153.5h0m0-174.5h0m0.5 216.5h0m0-25.5h0m0 12h0m0-184h0m0-1h0m0.5 183h0m0-172.5h0m0 11.5h0m0-5.5h0m0 136.5h0m0.5 19.5h0m0 10h0m0-241.5h0m0 280h0m0-194h0m0.5 134.5h0m0 16.5h0m0.5-26.5h0m0-145h0m0 9h0m0.5 10h0m0 137.5h0m0 39h0m0.5-44h0m0-194.5h0m0 27.5h0m0.5 174.5h0m0-7h0m0 6.5h0m0.5-176.5h0m0 35h0m0 165.5h0m0-8h0m0-13h0m0-141h0m0.5 161.5h0m0.5-176.5h0m0 21h0m0.5 145.5h0m0-153h0m0.5-23.5h0m0 179h0m0-24.5h0m0.5 43.5h0m0-231h0m0 243h0m0-204.5h0m0-7.5h0m0 153.5h0m0.5 39h0m0-40.5h0m0-159.5h0m0.5 192.5h0m0-170h0m0 181h0m0.5-161h0m0-2.5h0m1 116.5h0m0-1.5h0m0-7h0m0.5-131h0m0 148.5h0m1-139h0m0.5-7h0m0 152h0m0.5-159.5h0m0 1h0m0 163h0m0.5-25h0m0.5-171.5h0m0 168.5h0m0 27.5h0m0-154h0m0 147h0m0.5-134.5h0m0-3h0m0.5 134.5h0m0-179h0m0.5 30h0m0 163.5h0m0-17h0m0-126.5h0m0 118.5h0m0-119.5h0m0.5 7h0m0.5-8.5h0m0-67.5h0m0 20h0m0 19h0m0 180.5h0m0 3.5h0m0-25h0m0.5-26h0m0-117h0m0 128h0m0.5 12h0m0-10h0m0-116h0m0 139h0m1-130h0m0 93.5h0m0 2.5h0m0.5 14.5h0m0-109h0m0.5-18h0m0 136.5h0m1-130h0m0 119.5h0m0.5 3.5h0m0.5-9h0m0-104h0m1 116h0m0.5-5h0m0-113.5h0m0-70h0m0 31h0m0 13h0m0 170.5h0m0 6.5h0m0-42h0m0.5-109.5h0m0 112.5h0m0-111.5h0m0 99h0m0 18h0m0-137h0m0 154h0m0.5-137.5h0m0-10h0m0.5 129h0m0.5-19h0m0-112.5h0m0.5 133h0m0-18h0m0.5 7h0m0 5.5h0m0-154h0m0 9h0m0 175.5h0m0-150.5h0m0-0.5h0m0.5 114h0m0-103.5h0m0-67.5h0m0 31h0m0 1.5h0m0 4h0m0 168.5h0m0 8h0m0 11h0m0-178h0m0 136h0m0-21.5h0m0 9.5h0m0.5-111.5h0m0 6.5h0m0 95.5h0m0-114h0m0 117.5h0m0 31.5h0m0-34.5h0m0.5 23.5h0m0-121h0m0.5 106h0m0-102.5h0m0.5 104.5h0m0 0h0m0.5-108.5h0m0 3.5h0m0.5-29h0m0 178h0m0-151.5h0m0 100.5h0m0 2.5h0m0 26h0m0-179h0m0 12h0m0 2h0m0 187h0m0 1.5h0m0 8.5h0m0.5-39.5h0m0-127.5h0m0 16h0m0 95h0m0 26h0m0-20.5h0m0-103h0m0-1h0m0 3h0m0 118.5h0m0 2h0m0.5-132h0m0 103h0m0-116.5h0m0 112h0m0.5-97h0m0-2.5h0m0 122.5h0m0 5.5h0m0.5 25.5h0m0-252.5h0m0 108.5h0m0.5 109h0m0-120h0m0 118.5h0m0.5-15h0m0.5 0.5h0m0-103h0m0-30h0m0.5 45h0m0 105.5h0m0.5-18.5h0m0 5h0m0 6.5h0m0-102h0m0-10.5h0m0.5 107h0m0-118h0m0 152h0m0.5-127.5h0m0.5 98.5h0m0-5h0m0.5-1.5h0m0-93.5h0m0-20h0m1 7h0m0 128.5h0m0-121h0m0.5 128h0m0.5-119.5h0m0.5-0.5h0m0-3.5h0m0 99.5h0m0 25h0m0-9h0m0-8.5h0m0-14.5h0m0-150h0m0 19.5h0m0 15h0m0 153.5h0m0 21.5h0m0.5-153.5h0m0 125h0m0-137h0m0 11.5h0m0.5 94h0m0-110.5h0m0 117h0m0.5 14h0m0-108.5h0m0 111h0m1-14.5h0m0-6.5h0m0-95.5h0m0.5-7h0m0 112.5h0m0 3h0m1-113.5h0m0 5.5h0m0 112h0m0.5-125h0m0 19h0m0 84h0m0-0.5h0m0 19.5h0m0.5-149h0m0 179.5h0m0 16.5h0m0-61.5h0m0 14h0m0-151.5h0m0 4.5h0m0 12.5h0m0 163h0m0 3.5h0m0-20.5h0m0-120.5h0m0 101h0m0-107.5h0m0.5 14.5h0m0-24h0m0 107.5h0m0 23h0m0-24h0m0 9.5h0m0-104h0m0.5 112h0m0-116.5h0m0 9.5h0m0.5 90h0m0-86.5h0m0.5 107h0m0-114.5h0m0.5 103h0m0.5-109h0m0 125h0m0-155.5h0m1 156h0m0-114h0m0 111h0m0-123.5h0m0.5 1h0m0 126h0m1-127.5h0m0 105.5h0m0.5-90.5h0m0 88h0m0.5-1.5h0m0 8h0m0-122.5h0m0.5 32.5h0m0 87h0m0-89.5h0m0.5 90.5h0m0-106h0m0.5-96h0m0.5 117h0m0 104.5h0m0.5-110.5h0m0.5 0h0m0 92.5h0m0 1h0m0 9.5h0m0-11.5h0m0-154.5h0m0 25.5h0m0 1.5h0m0 16.5h0m0 158.5h0m0 15.5h0m0-62h0m0-87.5h0m0.5-24h0m0 120.5h0m0 14h0m0-118.5h0m0 100h0m0.5-7h0m0.5-92h0m0-40.5h0m0 181.5h0m0-35h0m0.5-15h0m0-89h0m0.5-7.5h0m0 93.5h0m0 21h0m0-112.5h0m1.5 0h0m0 98.5h0m0.5 10.5h0m0-122.5h0m0 7h0m1 108h0m0-93h0m0.5-1.5h0m0.5 95.5h0m0-109h0m0 140.5h0m0-44h0m0.5-77.5h0m0.5 96.5h0m0.5-16h0m0-83.5h0m0.5-7h0m0 88.5h0m0-112h0m0 158h0m1-37.5h0m0-108.5h0m0 17.5h0m0 1.5h0m0.5 87h0m0.5 14.5h0m0 3.5h0m0-101.5h0m0 96h0m0-95.5h0m0.5-33.5h0m0 112h0m0.5-85h0m0.5 111h0m0-13.5h0m0-13h0m0-85.5h0m0-48h0m0 4h0m0 165h0m0 9h0m0-18h0m0-129h0m0.5 103.5h0m0 29.5h0m0-4h0m0-110h0m1 109.5h0m0.5-4h0m0 48.5h0m0-156h0m0.5 83h0m0-93.5h0m0 13.5h0m0 79.5h0m0.5-73h0m0-32.5h0m0 151.5h0m0.5-41h0m0 14h0m0.5-125.5h0m0 155.5h0m0-145.5h0m0.5 106h0m0-104h0m0.5 128h0m0-119.5h0m1-5.5h0m0.5 99h0m0 6h0m0-162.5h0m0 33.5h0m0 9h0m0 146h0m0 14h0m0.5-32h0m0-3.5h0m0-103.5h0m0 100.5h0m0-89.5h0m0.5 100.5h0m0-108.5h0m0.5 106.5h0m0-0.5h0m0.5-110.5h0m0 14.5h0m0.5-38.5h0m0 125h0m0.5-102.5h0m0 106h0m0-88h0m0.5 79h0m0 3.5h0m0.5-90h0m0 92.5h0m0.5 16h0m0-121h0m0.5-15.5h0m0 144.5h0m0 66.5h0m0-199h0m0 108.5h0m0 12.5h0m0-106.5h0m0 96.5h0m0-14.5h0m0.5 26h0m0-105.5h0m0 81h0m0 28h0m0-111.5h0m0.5-31.5h0m0 3.5h0m0 2h0m0 151.5h0m0 1.5h0m0 19.5h0m0 8h0m0-159.5h0m0 99h0m0-85h0m0-8.5h0m1 85h0m0 7.5h0m0-97h0m0 93h0m0.5 14h0m0-148.5h0m0 16h0m0 10.5h0m0 140h0m0 20.5h0m0 15h0m0-146h0m0 83.5h0m0 19h0m0-115.5h0m0 7h0m0.5 100h0m0-116.5h0m0 116h0m0-12h0m0.5-94.5h0m0 83h0m1 27h0m0-99.5h0m0.5-17h0m1 91.5h0m0 5.5h0m0.5-85.5h0m0 81.5h0m0.5-95h0m0.5 91h0m0 17.5h0m0-104.5h0m0.5 87h0m0.5-76h0m0.5 88h0m0.5-92.5h0m0.5-2h0m0.5 89h0m0.5-94.5h0m0.5 91.5h0m0.5 25.5h0m0-0.5h0m0-28.5h0m0-67h0m0.5-21h0m0 101.5h0m0-81h0m0-31h0m0 0.5h0m0 124h0m0.5 6.5h0m0-123.5h0m0 106.5h0m0 17h0m0-102h0m1 96.5h0m0.5-102.5h0m0.5-8h0m0.5 133h0m0-50h0m0.5 19h0m0.5-92.5h0m0 73h0m1-71.5h0m0 79.5h0m1-87h0m0 85h0m0.5-2h0m1-86.5h0m0 101.5h0m0-102.5h0m0.5-10.5h0m0 131.5h0m0-36h0m0-86h0m0 84h0m0 3.5h0m0.5-72.5h0m0 90.5h0m0-89.5h0m0.5-0.5h0m0 100h0m0.5-108h0m0 77h0m0.5-72.5h0m0 87h0m0 18h0m0-115.5h0m0 90h0m0 3h0m0-108.5h0m0 144h0m0.5-129.5h0m0 93h0m0.5 0h0m0 2h0m0.5-82h0m1 90h0m0-18h0m0 18h0m1-93.5h0m0 6.5h0m0 6h0m0 60.5h0m0 2h0m0-64.5h0m0.5 82h0m0-82.5h0m0 82.5h0m0.5-110.5h0m0 130h0m0-28.5h0m0 12h0m0-92.5h0m0 76h0m0.5-71h0m0.5 65h0m0 33.5h0m0.5-102.5h0m0 7h0m0 83h0m0.5-7h0m0.5-90h0m0.5-8.5h0m1 11h0m0 95.5h0m0-81.5h0m0 90h0m0.5-32h0m0 31.5h0m0-98.5h0m1-3.5h0m0 85.5h0m1 8h0m0.5-81.5h0m0 75h0m0-97.5h0m0.5 11.5h0m0-1.5h0m0 14h0m0 71.5h0m0-14h0m0 4.5h0m0.5 0.5h0m0 19h0m0-22h0m0.5-62.5h0m1 83h0m0-103h0m0 10h0m0 69.5h0m0.5 29.5h0m0.5-30h0m0.5-71h0m1 96h0m0-86.5h0m0 63.5h0m0-67h0m0.5 74.5h0m0.5 18h0m0 0h0m1-15.5h0m0-70h0m0-2.5h0m0 61.5h0m0.5 27.5h0m0-25.5h0m0-57h0m0.5 59h0m0.5 12h0m0-73.5h0m1 68.5h0m0-68h0m0.5 58h0m0-65h0m0 63.5h0m1-1h0m1 0h0m0 31h0m0-88.5h0m0.5-28.5h0m0.5 100h0m0-76h0m0.5 88h0m0.5-20.5h0m0.5 24.5h0m0.5-12h0m0-83h0m0 100.5h0m0-88.5h0m0 67h0m0 14.5h0m0.5-0.5h0m1-7h0m0-74h0m1-2h0m0.5 65h0m0 13h0m0.5-3h0m0-9.5h0m0-74h0m0-5.5h0m0 101.5h0m0 16.5h0m0.5-51h0m0-56h0m0 63.5h0m0 13.5h0m0-84.5h0m0 85.5h0m0-21h0m0.5 28h0m0-82h0m1 63.5h0m0-72h0m0.5 6h0m0.5 56h0m0 3h0m0.5-55h0m0.5 71h0m0.5 3h0m1-21h0m0.5-1.5h0m0.5 12.5h0m0.5 1h0m0.5-61.5h0m0-12.5h0m0 83h0m1 6h0m0-81.5h0m0.5 59.5h0m0.5 4.5h0m0-75.5h0m0 4.5h0m0 92.5h0m0 2h0m0 1h0m0 1.5h0m0 5.5h0m0 9h0m0-50h0m0 11.5h0m0 5.5h0m0-17h0m0.5 18h0m0-17h0m0 17.5h0m0-8.5h0m0-59.5h0m0-6h0m0 58.5h0m0-53.5h0m0.5 2.5h0m0 51.5h0m0 6.5h0m0-7h0m0-61h0m0 2.5h0m0 53.5h0m1-46h0m0 71h0m0-87.5h0m0 105h0m0 14h0m0-50.5h0m0 8h0m0.5-67.5h0m0 98.5h0m0-32.5h0m0.5 9.5h0m0-19.5h0m0 1.5h0m1-3.5h0m0.5-56.5h0m0 63h0m0-67.5h0m0 113h0m0-40.5h0m0.5-57h0m0-5h0m0-6.5h0m0.5 83h0m0.5-22.5h0m0 12.5h0m0-5.5h0m0.5-5.5h0m0-51h0m0-13h0m0 94.5h0m0.5-81.5h0m0 57h0m0-11h0m0.5-45h0m0 54h0m0 4h0m0 2h0m0-60.5h0m0.5-13.5h0m0 77h0m0 13h0m0 9h0m0 22h0m0-113.5h0m0 56.5h0m0.5-3h0m1 0.5h0m0.5-1.5h0m0.5-64.5h0m0 81.5h0m0 10.5h0m0 0h0m0 8h0m0 0.5h0m0 1h0m0 20h0m0-109h0m0 4h0m0 53h0m0-2.5h0m0 3h0m0-54h0m0 55h0m0-57.5h0m0.5-5.5h0m0 57h0m0 4.5h0m0-2.5h0m0.5-51h0m1 49.5h0m0.5-51.5h0m0.5 76.5h0m0-24.5h0" stroke="#1f77b4" stroke-width="5.4"/>
<path d="M116 284L117.9 282.2L119.8 281.1L121.6 284.9L123.5 289.9L125.2 292.9L126.8 297L128.5 299.9L130.2 297.3L131.8 293.1L133.5 293L134.8 304.1L136 315.5L137.9 312.6L139.8 306.2L141.2 304.7L142.7 305.3L144.1 305.7L145.6 304.7L147 304.2L148.5 302.7L150 300.8L151.5 300.4L153 299.1L154.5 296.2L156 294.1L157.5 292.2L159 288.6L160.5 284.9L162 282L163.5 280.3L165.1 280.4L166.6 281L168.2 282.7L169.8 283.4L171.2 282.4L172.8 279.5L174.2 275.3L175.8 271.9L177.2 271.7L178.8 273.3L180.2 273.5L181.8 273.7L183.2 275L184.8 277.3L186.6 287.5L188.5 297.3L190.4 301.7L192.2 300.6L193.8 295.9L195.4 288.8L196.9 281.5L198.5 276.1L200.2 272.3L201.8 269.4L203.5 267.3L205.1 268L206.6 268.5L208.2 267.8L209.8 267.7L211.4 268.2L213.1 270.1L214.8 271.9L216.4 268.9L218.1 263.9L219.8 264.6L221 280.6L222.2 295.7L224.1 289.7L226 282.6L227.7 285.5L229.3 291.2L231 297.1L232.7 301.2L234.3 303.5L236 307.3L237.2 324.2L238.5 335.3L240.4 322.8L242.2 305.1L244.1 300.9L246 298.7L247.7 294.3L249.3 289.9L251 285.9L252.9 284.9L254.8 286.6L256.3 285.7L257.9 285.7L259.4 286.3L261 284.8L262.7 278.5L264.3 270.7L266 265.1L267.9 260.6L269.8 261.4L271.3 264.6L272.9 269.7L274.4 275.3L276 279L277.7 277.1L279.3 272.1L281 270.4L282.7 276.9L284.3 287L286 291.6L287.9 279.8L289.8 267.6L291.3 268.8L292.9 274.3L294.4 280.6L296 283.5L297.6 279.9L299.1 274.4L300.7 269.5L302.2 266.8L303.8 268.1L305.4 272.4L306.9 276.7L308.5 279.4L310 281.5L311.5 283.6L313 284.7L314.5 285.2L316 285.5L317.9 279.5L319.8 272.8L321.4 278.9L323.1 287.1L324.8 291.4L326.3 286L327.9 278.5L329.4 271.2L331 267.1L332.2 275.9L333.5 284.1L335.4 273.8L337.2 262.4L339.1 267.5L341 276.1L342.4 277.2L343.9 276.8L345.3 278L346.7 279L348.1 277.9L349.6 278.5L351 280.1L352.7 283.4L354.3 287.7L356 290.9L357.6 290.4L359.1 287.3L360.7 284.5L362.2 284.8L363.8 287.3L365.4 290.7L366.9 294L368.5 295.7L370 296.3L371.5 298.2L373 298.6L374.5 297.2L376 295.9L377.4 297L378.9 298.5L380.3 300.1L381.7 302.5L383.1 303.7L384.6 302L386 302L387.7 298.8L389.3 292.5L391 286.7L392.4 284.1L393.9 281.5L395.3 280.8L396.7 280.5L398.1 278.6L399.6 276.8L401 275.7L402.5 273.5L404 271.2L405.5 268.8L407 265.3L408.5 263.4L410.1 265.9L411.6 268.4L413.2 269.6L414.8 271.1L416.2 273.7L417.7 276.6L419.1 279.1L420.6 282.7L422 285.8L423.5 285.9L425 283.2L426.5 278.9L428 273.9L429.5 268.8L431 265.1L432.5 263.5L434 262.5L435.5 261.4L437 260.3L438.5 260.9L440.2 260.9L441.8 261.3L443.5 262.3L445.2 264.8L446.8 268.4L448.5 270.2L450.2 269.2L451.8 265.3L453.5 264.1L455 266.9L456.4 270L457.9 273.8L459.3 278.2L460.8 281.1L462.2 281.9L463.7 282.7L465.2 283.8L466.6 283L468.1 281.6L469.5 279.4L471 277.6L472.4 278.1L473.8 277.7L475.2 276.2L476.6 276.3L478 276.2L479.4 274.9L480.8 272.8L482.2 270.9L484 262.6L485.7 262L487.3 259.8L489 261.3L490.5 263.9L492 267.3L493.5 270.8L495 274.1L496.5 276.3L498.1 276.4L499.6 276.7L501.2 277L502.8 275.9L504.3 276L505.9 275.8L507.4 272.5L509 268.3L510.5 265.4L512 262.1L513.5 258.7L515 256.3L516.5 255.4L518 255L519.5 254.6L521 255.4L522.5 256.6L524 257.5L525.4 258.8L526.9 259.4L528.3 257.8L529.7 256L531.1 256.8L532.6 258.3L534 260.4L535.6 264.5L537.1 270.2L538.7 276.3L540.2 280.5L541.7 281.2L543.2 281.7L544.6 282.5L546.1 282.8L547.5 282.2L549 281.6L550.5 279.9L552 277.7L553.5 276.2L555 274.2L556.5 271.5L557.9 270.5L559.4 271.4L560.8 272.3L562.2 271.5L563.6 270.2L565.1 269.9L566.5 268.2L568.2 262.8L569.8 256.9L571.5 253.1L573.4 255.1L575.2 258.1L576.8 255.8L578.4 253L579.9 250.5L581.5 250L583.2 250.9L584.8 254.8L586.5 259.5L588.2 264.5L589.8 270.5L591.5 274.7L593.4 272.4L595.2 270.5L596.9 275.4L598.6 281.2L600.2 284.2L601.7 284.5L603.2 286L604.6 286.3L606.1 287.1L607.5 287.2L609 286.1L610.2 280L611.5 276L612.8 284.5L614 289.7L615.7 277.2L617.3 258.3L619 250L620.2 279.6L621.5 308.4L622.8 280.4L624 251.7L625.9 276.9L627.8 305.1L629.4 299.7L631.1 285L632.8 276.7L634 294.6L635.2 310.1L636.5 265.1L638.2 265.1L639.8 271.1L641.5 274.4L643.4 267.2L645.2 258.9L646.5 264.9L647.8 270.1L649.3 266.2L650.9 258.4L652.4 250.9L654 247.2L655.9 256.1L657.8 268L659.6 271.2L661.5 270.2L663.4 265.3L665.2 265.3L667.1 287.3L669 304.6L670.5 301.1L672 293.6L673.5 283.2L675 273L676.5 266.3L678.2 263.3L679.8 262.4L681.5 265.7L682.8 277.3L684 287.2L685.7 284.2L687.3 277.6L689 275.4L690.2 286.6L691.5 295.4L693.2 286.1L694.8 271.6L696.5 264.4L697.8 277.7L699 294.7L700.7 293.8L702.3 290.4L704 292.2L705.9 307.3L707.8 318.6L709 308.4L710.2 297.2L711.5 311.4L712.8 325.1L714 312.8L715.2 301L716.5 313.4L717.8 326.9L719 312.7L720.2 298.4L722.1 306.2L724 315.3L725.9 304.5L727.8 290.4L729.6 283.6L731.5 280.9L733.2 280.8L734.8 279.7L736.5 282L738.2 291L739.8 302.8L741.5 308.2L742.8 292.6L744 275.6L745.9 279.4L747.8 284.1L749 270.6L750.2 255.9L752.1 255.9L754 260.8L755.2 269.5L756.5 275.4L757.8 267.2L759 255L760.9 243.5L762.8 236.2L764.6 239.2L766.5 249.7L768.4 272.4L770.2 284.9L772.1 253.4L774 220.1L775.2 228.1L776.5 239L778.4 222.5L780.2 204.8L781.5 210.8L782.8 220.9L784.4 222.1L786.1 221.1L787.8 220.4L789.3 222.9L790.9 227.5L792.4 232.2L794 234.5L795.6 232.7L797.1 228.6L798.7 224.2L800.2 222.5L801.9 231L803.6 243.8L805.2 251L806.9 242.2L808.6 227.5L810.2 220.3L811.5 235.2L812.8 252.8L814.6 249.1L816.5 243.3L818.2 245.9L819.8 249.5L821.5 249.9L823.4 244.1L825.2 234.8L826.5 219.7L827.8 210.5L829 224L830.2 240L832.1 240.2L834 235.1L835.7 227.5L837.3 218.3L839 215.4L840.2 230.8L841.5 247.4L843.2 246.4L844.8 239.8L846.5 235.6L848 238L849.5 241.7L851 245.2L852 255.3L853.2 250.2L854.5 242.1L856.4 232.3L858.2 228.1L859.5 242.4L860.8 257.9L862.6 259L864.5 256.9L866.2 259.1L867.8 262.9L869.5 264.9L871.2 260.9L872.8 253.5L874.5 248L876.4 248.7L878.2 250.2L880.1 244.6L882 239.2L883.9 242.4L885.8 246.6L887.6 245.1L889.5 244.1L890.8 251.3L892 256.6L893.7 253.2L895.3 246.9L897 244.2L898.2 253.9L899.5 261.8L900.8 249.9L902 238.1L903.9 249.7L905.8 262.9L907.4 266.2L909.1 265.5L910.8 265.1L912.6 273.7L914.5 278.2L916 261.3L917.5 244.9L919 248.8L920.5 258.3L922 264.4L923.7 261.9L925.3 255.2L927 253.2L928.7 259L930.3 268.1L932 272.8L933.2 263.1L934.5 255.6L936.2 264.2L937.8 278.6L939.5 287L941 274.7L942.5 263.1L944 270.3L945.5 283.7L947 290L948.2 256L950.1 275.6L952 295.6L953.9 280.3L955.8 262.5L957 269L958.2 276.7L959.9 271.5L961.6 262L963.2 257.2L965.1 267.8L967 277.6L968.2 265.9L969.5 256.6L971.4 269.9L973.2 283.7L975.1 271.5L977 257.6L978.7 261.2L980.3 270.3L982 273.5L983.7 267.2L985.3 255.4L987 248.3L988.2 251.2L989.5 260.4L991.4 270.2L993.2 277.3L995.1 274L997 270.9L998.9 281L1000.8 291.1L1002 275.6L1003.5 286.1L1005 297.1L1006.5 292.7L1008 283.3L1009.5 275.3L1011.2 270.7L1012.8 266.9L1014.5 265L1016.4 271.4L1018.2 277.2L1019.9 275.5L1021.6 272.2L1023.2 271.1L1025.1 275.6L1027 280.2L1028.7 279.7L1030.3 278L1032 277.2L1033.2 281.9L1034.5 285.5L1035.8 278.9L1037 272.2L1038.9 272.6L1040.8 275.4L1042.6 286.6L1044.5 294.5L1046.4 283.6L1048.2 270L1050.1 267.7L1052 271.5L1053.2 278.5L1054.5 283.6L1055.8 274.9L1057 272.3L1058.9 303.2L1060.8 329.1L1062.6 312L1064.5 284.8L1066.4 271.7L1068.2 264.4L1070.1 266.1L1072 274.7L1073.2 297.1L1074.5 310.5L1076.4 282.2L1078.2 252.2L1080.1 260.5L1082 280L1083.9 300.2L1085.8 311.8L1087.6 293.2L1089.5 273.2L1091.4 286.9L1093.2 300.5L1094.5 288.4L1095.8 272.2L1097 266.2L1098.2 269.9L1100.1 293L1102 308.1L1103.7 295L1105.3 270.2L1107 257.6L1108.7 272.9L1110.3 300.4L1112 315.3L1113.9 285.3L1115.8 256.8L1117.6 294.3L1119.5 330.3L1121.2 312.4L1122.8 279L1124.5 261.5L1126.1 276L1127.6 303.4L1129.2 330.5L1130.8 343.1L1132.6 310.8L1134.5 274.3L1136.2 287.9L1137.8 314.8L1139.5 328.2L1141.1 296.1L1142.8 262.7L1144.1 268.6L1145.5 285L1146.9 301.9L1148.2 309.2L1150.1 281.5L1152 255.5L1153.5 269.8L1155 297.1L1156.5 313.2L1157.9 298.8L1159.3 272.7L1160.8 260.9L1162.2 282.9L1163.8 318.7L1165.2 337.9L1166.7 323.2L1168.1 292L1169.5 273L1171.2 281.9L1172.8 303.6L1174.5 316.6L1176 302.2L1177.5 279.2L1179 267.9L1180.9 298.3L1182.8 322.7L1184.2 298.5L1185.6 257.1L1187 233.8L1188.9 269.9L1190.8 307.2L1192.2 286.5L1193.6 248.4L1195 227.7L1196.6 264.8L1198.2 303.4L1199.5 274L1200.8 236.1L1202 234.5L1203.2 247.4L1204.9 273.8L1206.5 290.1L1207.6 258L1208.8 222.3L1210.4 219.9L1212 235.2L1213.7 262.6L1215.3 297.5L1217 315.4L1218.5 283.5L1220 240.1L1221.2 223.1L1222.5 226.1L1224.2 293.3L1226 346.2L1227.7 313.1L1229.3 252.3L1231 217L1232.5 242.4L1234 293.4L1235.5 322.3L1237.4 277.8L1239.2 228L1240.5 259.9L1241.8 297.5L1243.5 252.2L1245.5 296.5L1247.4 260.1L1249.2 229.1L1250.9 254.3L1252.6 297.6L1254.2 321.3L1256 235.2L1257.6 285.9L1259.2 336.1L1260.5 287.5L1261.8 234.7L1263.6 260.9L1265.5 294.1L1266.8 256.2L1268.3 270.9L1269.9 297.4L1271.4 322.2L1273 331.3L1274.5 280.8L1276 230.9L1277.6 270.5L1279.2 313.6L1280.9 280.9L1282.5 244L1283.9 253.7L1285.3 276.7L1286.8 293L1288 291.3L1289.2 280L1290.7 267.1L1292.1 252.3L1293.5 250.2L1294.9 266.6L1296.4 294.1L1297.8 319.7L1299.2 329.9L1300.9 304.8L1302.6 260.1L1304.2 234.2L1305.7 255L1307.1 294.7L1308.5 315.6L1309.9 304L1311.4 277.1L1312.8 249L1314.2 234.1L1315.5 253.8L1316.8 282.3L1318.4 278.3L1320 271.1L1321.5 277.4L1323 284.1L1324.9 279.6L1326.8 272.6L1328 279.4L1329.2 283L1330.9 269.1L1332.5 257.9L1334 265.6L1335.5 276.5L1336.8 269L1338 261.9L1339.9 267.6L1341.8 276L1343.4 277.2L1345.1 274.6L1346.8 273.7L1348.3 274.5L1349.9 276.9L1351.4 280.3L1353 282.1L1354.7 280.8L1356.3 279.7L1358 277L1359.5 270.7L1361 267.3L1362.6 274.5L1364.2 282.5L1366.1 279.8L1368 278.4L1369.9 292.4L1371.8 303.3L1373.4 292.9L1375 279.9L1376.4 280.8L1377.8 284L1379.2 284.1L1380.9 281.4L1382.6 277.7L1384.2 274.3L1386.1 269.5L1388 269.1L1389.7 274.9L1391.3 282.3L1393 287.7L1394.7 282.3L1396.3 274.8L1398 269.7L1399.7 272L1401.3 278.1L1403 282.2L1404.9 280.2L1406.8 277.4L1408.4 280L1410.1 284.3L1411.8 287.4L1413.3 289.6L1414.9 292.7L1416.4 294.1L1418 292.1L1419.7 288.3L1421.3 282.7L1423 278.8L1424.9 286.4L1426.8 294.7L1428.6 292.6L1430.5 288.7L1432.4 295L1434.2 298.6L1435.9 294.9L1437.6 286.3L1439.2 279.5L1440.9 275.7L1442.6 272.5L1444.2 270.5L1446.1 277.2L1448 283.5L1449.9 280.7L1451.8 276.3L1453.6 281.9L1455.5 286.4L1457.4 282.9L1459.2 277.6L1460.4 277.6L1461.5 279.8" stroke="#ff7f0e" stroke-width="2.5"/>
</g>
<g clip-path="url(#cb)" fill="none" stroke-linecap="round" stroke-linejoin="round">
<path d="M117.5 935.1V1018.7M119.7 937V1019.6M122.2 954V1019.5M124.7 928V1023.3M127.2 952V1022.2M130.2 965.9V1023.5M132.3 957.6V1021.1M135.2 939.5V1022.8M137.3 925.2V1019.7M139.8 907.4V1019.8M142.5 931.1V1021.3M145.3 933.8V1024.2M147.8 918.8V1023.7M149.6 945V1025M152.2 948.4V1025.9M154.9 944.2V1025.8M157.9 928V1027.6M160.2 925.7V1025.3M162.4 872.6V1025.1M164.8 921.1V1024.5M167.6 873.8V1021.7M169.9 950.3V1022.7M172.7 933.8V1021.6M175.2 937.6V1022.5M177.3 950.4V1022.8M180.1 969.2V1023M182.8 965.9V1024.2M185.4 948.4V1022.8M187.1 949.2V1024.4M190.4 962.1V1024.7M192.6 965V1023.3M194.7 955V1023.6M197.7 941.3V1027.2M199.6 914.7V1026.1M202.4 913.9V1028.7M205.2 904.2V1028.3M207.7 893.7V1028.9M209.7 895.9V1029.3M212.6 910.3V1024.6M214.7 913.1V1025.7M217.4 905.4V1025.6M219.7 906V1024.5M222.6 912.2V1024.5M225 946V1023.8M227.1 955.2V1024.9M230 951.3V1024.4M232.7 961.8V1024.9M234.8 969V1022.2M237.2 946.5V1022.4M239.7 929.9V1025.1M242.6 937.9V1022.6M244.9 931.8V1021.1M247.9 916.6V1022.2M249.8 927.9V1025.5M252.5 933.4V1023.1M255.3 941.2V1024.6M257.4 975.3V1021.8M259.8 975.8V1025.9M262.1 957.1V1021.8M264.8 963.3V1023.6M267.8 963.9V1022.8M270.1 958.6V1026.5M272.2 959.2V1025.1M274.7 975.7V1025.6M277.5 968.6V1024.7M279.9 974.3V1026.1M282.6 981.1V1029.4M285 985.9V1026.5M287.6 970.9V1027.8M289.9 963.5V1029.6M292.5 969.8V1026.4M295.3 965.9V1027.5M297.2 966.3V1028.7M299.9 971V1029.7M302.3 968.5V1028.4M304.9 964.8V1029.1M307.4 969V1029.9M310.4 973.5V1030.3M312.2 990.7V1031.4M315 984.1V1030.7M317.8 947V1029.3M319.7 963.5V1030.2M322.8 979.6V1028.5M325.3 963.9V1027M327.8 950.5V1029.4M330.4 888.4V1029.1M332.5 914.2V1026.6M334.9 950V1027.3M337.2 955.9V1029.4M340 954.3V1027.1M342.5 942.7V1029.6M345.1 948.6V1031.3M347.4 971.3V1031.2M349.6 968.9V1030.3M352.7 957.5V1029.6M354.8 965.3V1032.1M357.4 964V1028M359.8 940.3V1030.7M362.6 923.2V1028.2M365.1 923.4V1031.3M367.4 953.5V1030M369.9 910.1V1028.3M372.6 913.9V1028.5M375.2 908.4V1025.5M377.2 936.9V1026.5M379.7 915.6V1024.6M382.2 915.7V1025.6M384.9 934.2V1024.4M387.5 888.7V1026.1M389.7 873.4V1023.8M392.8 853.8V1022.4M395.1 866V1023.4M397.6 864V1023.1M399.6 868.5V1020.1M402.3 907.2V1022.2M405 929.4V1022.9M407.7 928.4V1022M409.8 903V1021M412.2 912V1021.5M415.3 917.7V1020.8M417.9 914.2V1021.2M420.1 927.2V1022M422.6 918.4V1024.4M425.3 912.3V1021.4M427.7 895.2V1023.8M429.7 886.1V1024.5M432.7 886.1V1025.7M435 891.5V1025.7M437.4 894.8V1027.6M440.3 905.9V1027.3M442.9 894.2V1025.8M445.2 916.9V1024.1M447.6 890.6V1023.7M450.2 919.3V1025.5M452.9 902.8V1022.4M454.8 875.2V1021.3M457.6 883V1025.8M460.4 901.9V1023.6M462.3 909.3V1026.6M465.1 887.2V1025.8M467.4 843.5V1024.1M470.4 862.6V1025.2M472.6 862.8V1022.5M474.9 876.5V1024.6M477.3 855.6V1021.7M480.2 796.3V1024.9M482.5 838.7V1020.6M484.9 873.6V1017.2M487.7 847.8V1018.4M489.9 883.2V1018.8M492.6 896.7V1019.7M495.3 893V1023.3M497.8 883.6V1021.3M499.8 894.6V1022.3M502.6 905V1027M505.3 906V1028.4M507.5 914.5V1025.7M510.2 880.6V1027.7M512.6 909.9V1027.1M514.8 907.6V1028.2M517.2 899.7V1026M519.7 904.1V1026M522.6 905.4V1028.5M524.9 910.9V1027.3M527.7 888V1025.4M530 889.9V1023.4M532.3 903.9V1024.4M602.7 890.7V1021.2M604.8 920V1019.7M607.5 942.6V1025.8M609.9 966.6V1030.1M612.3 990.4V1027.3M614.7 1005V1030M617.2 1012.8V1028.6M619.8 1012.6V1026.1M622.2 1013.6V1026.2M625.2 1012.8V1029.5M627.8 1013.1V1028.8M629.8 1013.5V1030.1M632.9 1012.1V1031.6M634.6 1017.7V1032.5M637.6 1013.7V1030.4M639.6 1015.1V1030.9M642.4 1018.1V1031.3M645.3 1016.3V1031.3M647.5 1011.4V1030.9M649.8 941.1V1029.6M652.6 907.6V1031.4M655 906.6V1027M657.4 912.4V1026.7M659.7 920.9V1028.4M662.7 922.4V1030.5M665 950.3V1027.6M667.1 1000.5V1028.5M669.7 1012.5V1031.5M672.5 1013.7V1029.4M674.8 1016.8V1032.4M677.3 1018.5V1033.8M679.7 1016.9V1034.3M682.9 1016.1V1031.5M685.3 1016.2V1031.2M687.1 1019.2V1030.6M690 1020.9V1033.4M692.8 1020.9V1032.5M695.1 1022V1031.8M697.1 1022.8V1032.2M700.2 1023.1V1032.2M702.3 1023.2V1033.5M704.9 1021.3V1033.9M707.2 1021.1V1033.5M710.1 1021.1V1032.2M712.1 1019.8V1031.7M714.7 1020.6V1031.7M717.4 1021.4V1032.3M720.3 1020.9V1028.4M722.7 1018V1029.4M725.4 1015.1V1030.2M727.8 1014.6V1030.8M729.8 1007.8V1029.9M732.2 1007.7V1029.1M734.6 1010.6V1030.5M737.8 1012.7V1030.2M740.2 1012.6V1028.7M742.9 1013.9V1030.5M745.2 1013.7V1030.3M747.9 1016V1027.3M750.1 1018V1029.7M752.6 1015.7V1029.7M755.3 1016.8V1028.4M757.7 1015.2V1031M759.8 1007.2V1030.7M762.4 974.7V1030.1M765.1 978.3V1027M767.7 999.3V1027M770.3 999.9V1025.4M772.3 983.7V1027M775.4 988.6V1022.9M777.9 884.4V1023.8M780.3 871.6V1021.1M782.7 926.5V1017.4M785.3 902.4V1016.7M787.7 908.6V1012.4M789.8 944.5V1011.5M792.7 911.1V1014.3M794.8 906.4V1013.6M797.4 949V1014.9M800.3 947.9V1017.7M802.4 977V1021.4M805.4 975.8V1022.2M807.3 979.9V1022.8M809.8 985.2V1027.5M812.8 984.2V1024.9M814.6 963.1V1022.4M817.5 944.1V1022.1M819.9 935.5V1017.2M822.7 943.4V1010.2M824.8 932.3V1005.6M827.2 911.4V1005.2M830.4 903.6V1003.9M832.8 935.6V1006.4M835 942.2V1007.1M837.8 939.8V1011.5M839.7 933.5V1014.3M842.6 930V1018.8M844.9 950.8V1017M847.4 959.7V1020.2M850.3 953.8V1020.9M852.7 954.1V1017.3M855.1 954.1V1020.6M857.8 955V1021.9M860 965.1V1022.7M862.2 971.4V1025.2M864.7 960.2V1025.1M867.7 954.9V1023.7M870.3 961.9V1025.4M872.9 962.8V1024.1M874.6 969.2V1024.1M877.7 978.3V1026.6M880.2 992.6V1027M882.5 992.9V1027.4M885 992.5V1026.2M887.4 993.8V1023.8M889.7 987.5V1024M892.3 992.1V1023.6M894.8 980V1025.2M897.3 987.9V1024.3M899.8 997.8V1027.2M902.4 997V1025.4M904.8 993.5V1025.7M907.5 988.9V1025.6M909.7 982.2V1026M912.3 979.1V1027.2M914.8 984.3V1026.8M917.8 988.2V1029.1M919.8 1000.9V1027.6M922.2 1000.6V1027.3M924.7 1004.9V1028.4M927.4 1007.4V1028.5M929.7 1005.5V1030.9M932.6 1006.6V1028.6M934.9 1007.2V1028.8M937.7 1008.2V1029.6M940.1 1009.9V1030.6M942.4 1007.4V1028.1M944.8 1009V1031.6M947.7 1009.2V1031.5M950.3 1009.9V1029M952.6 1007.4V1031.1M954.8 1011.4V1030.8M957.3 1010.1V1032.3M959.7 1007.3V1030M962.2 1014.2V1030.6M964.8 1010.9V1031.1M967.4 1008V1032.6M970 1004.2V1029.4M972.7 1009.4V1031.1M974.7 1008.6V1032M977.3 1000.5V1031.8M979.9 1006V1030.1M982.5 1004.9V1032.2M985.3 997.7V1028.7M987.8 1001.1V1029.1M989.6 1006.1V1032M992.5 1003.4V1029.2M994.6 1004V1029.5M997.4 1005.2V1031M999.7 1010V1030M1002.3 1011.6V1032.4M1005.2 1009.4V1033.3M1007.4 1007V1032.1M1010.3 1005.4V1032M1012.7 1002.8V1032.7M1014.7 1005.5V1030.9M1017.6 1005.3V1033.8M1019.9 1007.4V1032.5M1022.1 1009.3V1031.4M1025 1011.8V1030.3M1027.6 1017.1V1031.8M1029.9 1017.4V1032.4M1032.4 1016V1031.3M1034.7 1015.9V1033.6M1037.6 1015.4V1033.3M1039.8 1012.5V1032.9M1042.9 1010.8V1032.7M1044.7 1006.7V1032.9M1047.6 1002.5V1031.9M1050.3 992.8V1030.3M1052.7 995.3V1029.7M1054.9 1005.2V1029.4M1057.7 1004V1027.5M1059.6 1001.2V1030.1M1062.1 1010.3V1028.4M1064.9 1010.6V1029.1M1067.4 1011.5V1030.2M1069.9 1017.2V1032.4M1072.2 1011.8V1029.9M1075.4 1016V1033.6M1077.4 1019.5V1030.9M1079.7 1017.5V1033.8M1082.5 1014.7V1032.7M1085.4 1014.5V1029.6M1087.3 1017.4V1029.8M1089.7 1015.6V1032.5M1092.7 1017.9V1030.8M1095 1015.6V1029.4M1097.7 1018.7V1031.6M1099.8 1018.5V1029.1M1102.5 1016.7V1027.3M1104.8 1013.4V1027.7M1107.5 1017.6V1030M1110.1 1018.5V1027.2M1112.4 1020.1V1027.7M1115.3 1017.3V1028.2M1117.5 1016.9V1028.6M1119.6 1016.8V1029.9M1122.9 1015.5V1026.9M1125.3 1014.1V1026.6M1127.7 1015.9V1026.1M1130 1017.4V1026.7M1132.8 1016.5V1026.3M1134.7 1016.2V1030M1137.9 1017.7V1028.7M1139.9 1018.5V1026.6M1142.4 1018.6V1026.2M1145.3 1014.8V1027.3M1147.7 1014V1026.2M1150.2 1011.4V1029.1M1152.5 1013.4V1028.4M1154.6 1017.4V1027.5M1157.5 1017.7V1028.3M1160.4 1018.3V1029.2M1162.7 1018.4V1026.1M1164.9 1016.6V1030.1M1167.6 1015.8V1026.6M1170 1013.7V1027.5M1172.5 1018.8V1028.4M1175 1020.1V1030.8M1177.4 1018.9V1029.7M1180.3 1018.9V1030.6M1182.6 1023.9V1033.7M1185.4 1025.5V1032.6M1187.8 1022V1034M1189.9 1022.7V1031M1192.5 1023.2V1032.5M1194.9 1024.2V1031.5M1197.9 1022.1V1031.4M1200 1020.7V1027.8M1202.2 1019.8V1030.2M1204.9 1018.8V1030.8M1207.4 1017.4V1029.9M1209.7 1019.3V1030.1M1212.7 1020.2V1031.2M1215 1021.3V1029.3M1217.4 1019.2V1033.6M1220.1 1020.1V1031.7M1222.2 1018V1033.3M1225 1019.1V1030.7M1227.4 1020.6V1030.3M1230.3 1021.8V1033.5M1232.7 1019.6V1032.8M1234.7 1019.2V1031.8M1237.7 1018.3V1029.8M1240 1016.4V1030.9M1242.5 1014.5V1032M1245 1017.2V1028.8M1247.4 1017V1030.8M1249.7 1019.4V1031.1M1252.5 1021.2V1031.8M1254.7 1021.2V1032.5M1257.2 1019.2V1031.5M1260.1 1016.7V1029.3M1262.2 1019.5V1029.8M1265.1 1013.4V1029.1M1267.7 1005.9V1029.9M1269.9 1005.7V1030M1272.3 1016.8V1030.1M1274.8 1021.5V1031.8M1277.8 1017.6V1032.6M1279.9 1015.5V1031.6M1282.9 1017.4V1032.2M1284.8 1016.9V1029.7M1287.5 1016V1030.4M1290.3 1019.6V1032M1292.7 1019.4V1030.7M1294.6 1018.6V1032.4M1297.3 1019.9V1031.6M1300.1 1018.4V1029.3M1302.7 1016.5V1029.6M1304.7 1016.9V1032.5M1307.2 1017V1030.2M1309.9 1019V1030.1M1312.6 1014.4V1028.6M1315.3 1013.8V1030.1M1317.4 1006.7V1029.5M1319.7 1009V1029M1322.4 1010.6V1031M1324.8 1005.7V1031.8M1327.2 1009.7V1028.6M1330.2 1010.7V1031.3M1332.2 1011.8V1032.2M1335.4 1004.1V1029.5M1337.7 996.1V1031.4M1339.9 999.4V1030.9M1342.3 998.2V1028.3M1344.6 994.8V1027.8M1347.8 994.5V1028.4M1349.7 994.8V1027.6M1352.7 996.7V1030.6M1354.7 981.6V1029.9M1357.4 986.9V1029.7M1360.4 997.4V1029.4M1362.3 1006.3V1031.1M1364.7 1000.9V1029M1367.3 1001.9V1026.6M1370.2 1001.7V1025.9M1372.7 996.4V1026.1M1374.9 986.2V1027.3M1377.7 987.8V1025.7M1380 996.3V1027.2M1382.6 984.5V1027.3M1384.9 982.5V1025.7M1387.2 981.1V1027.7M1389.9 983.3V1026.5M1392.5 978.7V1026.6M1394.9 982.2V1025.8M1397.8 979.7V1025.6M1399.8 979.2V1024.1M1402.5 986.1V1023.7M1404.9 968.6V1026.9M1407.8 959V1024.5M1410.2 949.8V1027.1M1412.4 944.6V1026.1M1415.2 947.6V1026.1M1417.4 958.8V1025.2M1420 975.5V1026M1422.6 966.5V1024.7M1424.6 975.3V1024.8M1427.2 973V1025.5M1430.1 979.7V1023.4M1432.3 960.3V1020.9M1435.2 961.6V1021.8M1437.2 952.2V1020.9M1439.7 923.3V1022.8M1442.9 940.1V1023.7M1444.8 928.9V1021.4M1447.3 924.5V1023.2M1449.6 924.4V1022.9M1452.8 940.9V1019.9M1455.2 947.3V1022M1457.6 944V1021.8M1459.8 946.5V1022.5" stroke="#1f77b4" stroke-width="5.2"/>
<path d="M533 907.1V1025.2M534 895.9V1025.9M535 884.9V1024.9M536 805.3V1023.9M537 803.4V1026.4M538 804.3V1024.2M539 804.1V1026.2M540 803.8V1024M541 854.6V1025.4M542 852.9V1023.4M543 852.4V1025.9M544 838.8V1023.6M545 807.2V1024.6M546 806.6V1024.5M547 758.8V1023.9M548 758V1025.3M549 758.4V1023.9M550 723.3V1024M551 723.2V1024.9M552 723.4V1026.7M553 722.5V1024.4M554 723.7V1025.7M555 724.2V1024.2M556 779.2V1027.1M557 793.1V1024.2M558 639.7V1027.4M559 637.5V1025.7M560 637.8V1027.5M561 638.3V1024.1M562 638.9V1025.3M563 638.7V1028M564 638.4V1028M565 639.7V1027.3M566 821.3V1026.6M567 826.6V1024.8M568 787.2V1024.6M569 698.6V1026.5M570 696.7V1027.5M571 697.3V1026.8M572 696.4V1026.5M573 698.7V1023M574 750.3V1022.3M575 749.1V1025.3M576 748.9V1024.6M577 749.3V1024M578 750.1V1023.1M579 837.3V1022.1M580 838.3V1021.2M581 840.3V1020M582 842.3V1020.5M583 845.1V1021.2M584 834.2V1018.8M585 811.7V1018.8M586 810.9V1021.9M587 810.3V1022.8M588 810.8V1023.2M589 809.6V1026.4M590 811V1024.6M591 870.1V1025.7M592 871.4V1025.5M593 874.4V1020.9M594 877.3V1022.8M595 879.3V1021.5M596 851.9V1020.8M597 851.4V1019.8M598 852.3V1021.4M599 852.5V1018.5M600 851V1021M601 911.3V1021.3M602 926.4V1020.4" stroke="#1f77b4" stroke-width="2.6"/>
<path d="M122 947.5h0m2-28.5h0m0-13h0m0.5-6h0m0 35h0m0.5-15h0m0 7.5h0m0-13.5h0m6.5 40.5h0m5.5-49.5h0m2.5-10h0m0.5 6h0m2.5-22h0m5.5 36h0m10.5-8.5h0m2 15.5h0m1-54h0m2-18h0m1 4h0m10.5 71h0m0.5-17.5h0m0 12.5h0m0 10h0m0.5-26h0m0 26.5h0m9 5.5h0m0 6.5h0m0-17.5h0m1 5h0m12.5-2h0m1.5-20h0m5.5-24h0m0.5-14h0m0 7.5h0m0.5 11.5h0m4-5h0m7 0h0m2.5 14.5h0m0.5-22.5h0m0 9h0m0-5h0m0.5 20h0m0-5h0m3.5 47.5h0m1.5-10h0m0 3.5h0m0.5 6.5h0m3 0h0m2 8h0m14-26h0m1.5-17.5h0m5 19.5h0m3.5 4.5h0m5 30.5h0m2-12.5h0m2.5-43h0m0 36.5h0m0-5h0m0.5-17.5h0m0.5-6h0m2.5 43.5h0m1.5-11.5h0m1.5 3h0m2-15h0m1 15h0m0-11.5h0m1.5 32h0m1-11h0m4 7h0m3 11h0m6-30.5h0m0.5 9h0m0-12.5h0m3 21.5h0m9.5-16h0m2 7.5h0m3.5 8.5h0m2.5 2.5h0m2.5 4.5h0m7-10h0m3 13h0m5.5-90h0m1 2h0m0.5 14h0m0-5h0m0-5h0m10.5 58.5h0m7 6h0m1 6.5h0m10.5-29.5h0m3.5-31.5h0m0 30h0m0-17.5h0m0.5-6.5h0m0-16h0m0 5h0m0.5 47.5h0m0-7.5h0m0-12.5h0m2.5 25.5h0m3-48h0m1.5 9h0m0 6h0m1.5-11.5h0m3 5.5h0m0.5-4h0m0 10h0m1.5 11.5h0m1.5-17.5h0m4 1.5h0m1.5 3.5h0m3.5-41.5h0m3-17.5h0m12.5 40.5h0m1 14h0m2 14h0m5.5-18.5h0m0-6h0m2.5 5h0m2.5 3.5h0m4 16h0m4-25h0m2.5-12.5h0m2-19h0m0.5 0.5h0m0.5 11.5h0m0-30h0m0 36h0m0-29h0m0-16h0m0.5 20h0m0-16h0m5 34.5h0m3 18.5h0m4.5-25h0m0.5 28h0m4.5-14h0m5 9.5h0m1-36.5h0m0 12h0m0.5 9h0m0 14h0m1-18h0m9-46h0m0 17.5h0m0-7.5h0m0.5 12.5h0m0.5-17.5h0m0.5 0h0m3.5 20h0m1.5 2.5h0m0 1.5h0m5-8.5h0m4.5-59h0m1.5 42.5h0m1.5 17.5h0m9 13.5h0m0.5 19h0m0.5-9h0m0-5h0m3.5 17.5h0m0.5-7.5h0m8.5 20.5h0m13.5-14.5h0m1.5 5h0m2.5 14.5h0m3.5-25h0m1 11.5h0m0-5h0m2-3.5h0m1.5 4.5h0m5.5-76.5h0m0.5 68.5h0m0-73.5h0m0.5 6h0m0-11.5h0m0 1.5h0m0 35h0m0.5 7.5h0m0-37.5h0m0 15h0m0 30h0m0 17.5h0m0-40h0m0 31h0m9 151.5h0m1.5-280.5h0m0.5 28h0m0-18h0m0-6h0m0 20h0m2.5-19h0m0-64h0m0 59h0m0 10h0m0-65.5h0m0 72h0m0.5-49h0m0 7.5h0m0-19h0m0 38h0m0-4h0m8-89.5h0m0.5-7.5h0m0 11.5h0m0-17.5h0m0.5 10h0m8.5 61.5h0m0-8.5h0m0.5-9.5h0m15.5 120h0m0.5 17.5h0m0-118h0m0 49h0m0 59h0m0-119.5h0m0 43h0m0 69h0m0-48h0m0.5 21.5h0m0 14h0m0 0h0m0-60.5h0m0.5 43h0m0 37.5h0m0-113h0m0 17.5h0m9.5 145.5h0m0.5 6h0m0 36h0m0-13h0m0-12h0m0-10.5h0m0 28h0m0.5-38h0m0 31.5h0m0-33h0m0 5.5h0m0 34.5h0m0-19h0m4.5 20.5h0m5 50h0m45.5-36.5h0m8.5 16h0m71 88.5h0m30-50.5h0m2 13h0m10 18h0m2.5-113h0m1-214.5h0m0-35h0m0 145h0m0 47.5h0m0-31h0m0-184h0m0 224h0m0.5 26h0m0-57.5h0m0-88.5h0m0-73h0m0 223h0m0-98h0m0-150h0m0 64h0m0 160h0m0 4h0m0-115h0m0 87h0m0.5 14h0m0-50h0m0-172.5h0m0 262.5h0m0 7.5h0m0-25h0m4 80h0m1-31.5h0m2-2h0m4 48h0m3-41.5h0m3 47.5h0m7 27.5h0m1-4.5h0m3.5 2.5h0m4.5 4.5h0m6-36.5h0m3.5-10h0m5.5-31.5h0m3.5-7h0m2.5 41h0m11 13.5h0m4.5 4h0m7-14h0m1.5 19h0m2 6h0m2 5h0m3-13.5h0m2 6h0m0.5 6h0m4.5-3.5h0m7.5 22h0m10.5 3.5h0m4 0h0m0.5-9h0m3-1h0m5 20.5h0m5.5-12.5h0m2.5-3h0m1 3h0m1-7h0m3.5 6h0m1-11.5h0m8.5 29.5h0m3 5h0m2-2h0m1.5 3h0m5.5-5.5h0m9 1.5h0m15.5 7.5h0m11.5-1.5h0m1.5-2.5h0m4-14.5h0m1 14h0m4-12h0m7 9h0m3-10.5h0m1 4.5h0m2 7h0m8.5 2h0m2.5-2h0m3 0h0m2.5-2h0m35.5-2h0m1.5-19h0m1.5 7h0m3 15h0m5-3h0m209.5 2h0m54.5 4.5h0m1.5-4h0m10-2.5h0m9-8.5h0m18.5 14h0m5.5-4.5h0m1.5 1h0m6-25.5h0m6-9h0m3.5 5.5h0m3.5-9h0m4 13h0m0.5-8h0m1.5 9.5h0m2-4h0m7.5-11.5h0m3-8h0m5.5-12h0m0-1h0m0 5h0m2.5-4.5h0m3.5 14.5h0m2.5 19h0m2-27h0m0 18h0m0-4h0m0.5-5h0m0-5h0m2 20.5h0m2.5-18h0m2.5 24h0m2-24h0m5-17.5h0m8-16h0m2-110h0m0 5.5h0m0 101.5h0m0.5-37h0m0-40h0m0 26h0m0 35h0m0 17.5h0m0-45h0m0 21.5h0m0.5-53.5h0m0 64.5h0m0 6h0m2.5 6.5h0m6.5 12h0m3.5-4.5h0" stroke="#1f77b4" stroke-width="5.4"/>
<path d="M116 968.1L117.2 967.4L118.5 970.3L120 990.7L121.5 1005.7L123.1 982.1L124.8 959.6L126.4 979.2L128 1002.8L129.4 1002.4L130.8 995.1L132.2 989.6L134.1 993.3L136 994.8L137.5 978.1L139 962.2L141 977.1L142.2 944.7L144 1004.9L146 972.7L147.2 981.4L148.5 993.7L150.2 995.1L151.8 993.8L153.5 991L154.8 982.2L156 974.4L157.9 976.5L159.8 981.1L161 989.9L162.2 965.5L163.5 940.2L165.1 937.4L166.8 942.6L168.5 1010.1L170 1008.1L171.5 995L173.1 982.3L174.8 975.1L176 983.8L177.2 995.5L178.5 992.6L179.8 989.6L181.4 1000.1L183 1007.4L184.2 998L185.5 987L187 992.9L188.5 1000.9L190.2 1002.9L191.8 1003.2L193.5 1001.1L195.2 993.6L196.8 983.1L198.5 977.2L200 988.7L201.5 997.5L203.1 976.2L204.8 955L206.4 962.7L208 975.2L209 967.7L211 982.3L213 962.5L214.5 957.1L216 959.9L218 1006.5L219.8 955.9L221 978.5L222.2 1004L224 975L225.6 973.9L227.2 978.1L228.9 985.9L230.5 995L232 1003L233.5 1008.9L235.4 1009.7L237.2 1004.9L238.5 989.1L239.8 975.6L241 980.4L242.2 987.4L243.5 981.1L244.8 974.5L246 982.6L247.2 990.5L248.5 982.1L249.8 972.7L251 972.5L252.2 977.6L254.1 992.4L256 1007.3L258 1012.1L259.8 992L261 994.2L262.2 999.2L264.1 996.6L266 992.1L267.5 990.2L269 990.2L270.5 990.3L272 995.5L273.5 1002.3L275.2 1005.7L276.8 1008.5L278.5 1010.1L280.2 1010.5L281.8 1011.2L283.5 1012.4L285.4 1015.8L287.2 1017.4L288.5 1010.1L289.8 1002.4L291 1004.9L292.2 1008.7L294.1 1004L296 1000.3L297.9 1004.3L299.8 1007.9L301.4 1002.9L303 997.6L304.4 998.9L305.8 1002.8L307.2 1007L308.9 1010.7L310.6 1014.1L312.2 1013.9L314.1 1006.5L316 997.7L317.2 992.4L318.5 992.3L319.8 1004.6L321 1017.2L322.7 1020.4L324.3 1021.4L326 1016.4L328 970.1L329.8 941.2L331 950.4L332.2 969.8L333.9 1001.1L335.5 1022.6L337.2 973.2L339.2 1020.1L341.1 991.6L343 962.9L344.2 980L345.5 1005.2L347 1011.3L348.5 1008.8L350.5 987.5L351.8 995.3L353 1005L354.2 1001.3L355.5 997.7L356.8 1010.7L358 1020.2L359.8 982.6L361.6 975.7L363.5 978.5L365.4 1000L367.2 1017.2L368.5 1000.6L369.8 982.8L371.6 997.4L373.5 1011.8L374.8 991.1L376 970.1L377.2 979.9L378.5 993.1L379.8 984.9L381 975.2L382.2 979.1L383.5 983.5L384.8 976.3L386 968.2L387.2 965.6L388.5 960.1L390.1 941.8L391.8 926.1L393 929.1L394.2 940.2L395.8 959.2L397.2 975.3L398.5 969.9L399.8 962.8L401 972.4L402.2 985.1L403.5 991.9L404.8 994L406 989.3L407.2 981.4L408.9 969.9L410.5 962.8L412.2 985L413.5 972.9L414.8 960.2L416 970.4L417.2 982.5L418.9 982.1L420.5 981.4L422 989.3L423.5 994.2L425.4 988.1L427.2 974.8L428.9 951.1L430.5 935.6L431.8 959.5L433 984.6L434.5 975L436 961.9L437.2 984.7L439.2 949.9L440.8 973.2L442.2 997.5L444.1 985.8L446 971.3L447.9 983.1L449.8 995.7L451 989.3L452.2 977.3L453.9 966.6L455.5 960.1L457 964.4L458.5 972.2L460.4 980.3L462.2 982.3L463.8 962L465.2 944.8L466.9 962.4L468.5 982.9L469.8 978.2L471 967.6L472.6 961.6L474.2 960.2L475.5 974.2L476.8 984.6L478.2 967.6L479.8 949L481.1 955.9L482.5 962.8L484 930.1L486 926.3L487.5 953.1L489 977.2L490.9 969.3L492.8 955L494.6 950.3L496.5 952.4L498.4 970.3L500.2 985.8L501.9 971.7L503.5 958.4L505 977.1L506.5 993.6L508.4 974.6L510.2 951.4L511.9 949.3L513.5 954.1L515 968.6L516.5 981.3L518.4 975.4L520.2 967.9L521.9 973.4L523.5 982.5L525.2 992.6L527 935L528.6 950.2L530.2 974.9L532 992.2L533.6 962.2L535.2 936.2L537 987.5L538.5 887.6L539.8 933.9L541 985.5L542.8 933.7L544 926.7L545.2 920.2L546.9 893.5L548.5 869.8L550.2 882.3L552 827.4L554 902.5L555.2 931.7L556.5 940L557.8 892.8L559 847.7L560.2 900L562 700L563.5 697.5L565 910L566.4 977.3L567.8 997.5L569 915L570.2 832.1L572 920L573.3 901.9L574.7 866.1L576 848.8L577.8 942.5L579.6 959.8L581.5 961.9L583.4 954.1L585.2 935.1L587 870.4L588.6 918.4L590.2 977.4L591.5 997.3L592.8 998.9L594.4 988.6L596.1 971.8L597.8 960.2L599 959.9L600.2 967.7L601.5 981.4L602.8 995L604.6 998.3L606.5 999.8L608.4 1008.6L610.2 1017.5L612.1 1020.9L614 1022.9L615.5 1023.8L617 1023.2L618.5 1023.3L620 1024.5L621.5 1024.5L623.1 1023.4L624.6 1023.2L626.2 1023.5L627.8 1023.1L629.3 1022.3L630.9 1022.1L632.4 1023.1L634 1023.3L635.7 1023.2L637.3 1024.8L639 1026.9L640.5 1027.6L642 1026.5L643.5 1025.6L645 1026.2L646.5 1026.3L648.4 1024L650.2 1017.6L652 985L654 946.2L656 982.5L657.8 969.1L659.8 988.5L661.5 972.6L663.5 1017.4L665 1021.6L666.5 1021.6L668 1022.1L669.5 1023.2L671 1024.2L672.5 1025L674 1025.7L675.4 1025.2L676.9 1025.2L678.3 1025.4L679.7 1024.8L681.1 1025L682.6 1026.1L684 1027.3L685.6 1027.2L687.1 1026.3L688.7 1026.5L690.2 1027.3L691.8 1028L693.4 1028.9L694.9 1029.5L696.5 1028.5L698.1 1027.8L699.6 1028.3L701.2 1028.2L702.8 1028.3L704.3 1028.9L705.9 1028.9L707.4 1028.4L709 1027.6L710.6 1026.9L712.1 1026.6L713.7 1026.5L715.2 1026.8L716.8 1026.1L718.4 1024.8L719.9 1024.3L721.5 1024.7L722.9 1024.4L724.4 1023.4L725.8 1023L727.2 1022L728.6 1020.7L730.1 1019.9L731.5 1018.8L733 1018.5L734.5 1019.1L736 1019.5L737.5 1020.3L739 1020.2L740.5 1020.2L742 1020.7L743.5 1020.9L745 1021.4L746.5 1021.6L748 1022.7L749.5 1024.9L751 1025.8L752.5 1025.1L754 1025.7L755.6 1027L757.1 1026.6L758.7 1024.8L760.2 1022.4L761.9 1013L763.5 1005.8L765 1013.2L766.5 1022.3L768.2 1023.6L769.8 1022.6L771.5 1019.7L773.1 1008.5L774.8 1000.3L775.9 1015.3L777 1020L778.5 920L779.8 883.1L780.9 922.4L782 962.7L784 927.6L785.2 939.6L786.5 959.9L787.8 979.4L789 991.5L790.5 984.3L792 969.8L793.6 954.5L795.2 947.7L796.5 969.1L797.8 994.9L799.6 1005.6L801.5 1007.9L803 995.3L804.5 985L806.1 998L807.8 1014.7L809.6 1021.6L811.5 1022L813.4 1011.1L815.2 995L817.1 974.7L819 962.2L820.5 980.9L822 999.5L823.2 988.9L824.5 969.8L825.8 957.3L827.2 944.8L828.5 941.1L830 965.3L831.5 990.5L833.5 967.8L835 973L836.5 982.6L837.8 992.4L839 997.8L840.2 986.8L841.5 977.3L843.4 988.7L845.2 1002.6L847.1 1005.7L849 1002.3L851 982.2L852 976.2L853.2 984.4L854.5 991.8L855.8 990.6L857 990.3L858.5 1003.2L860 1013.2L861.2 1002.5L862.5 989.7L864.5 1003L866.5 989L868.2 1004.7L869.5 998.3L870.8 991.7L872 995.7L873.2 1000.7L875 995.2L877 1008.9L878.7 1010.2L880.3 1011L882 1012.5L883.7 1011.9L885.3 1010.6L887 1011.4L888.7 1013.1L890.3 1013.9L892 1013.2L893.7 1010.5L895.3 1007.3L897 1006.6L898.7 1008.8L900.3 1012.4L902 1014.5L903.7 1014.5L905.3 1014.4L907 1013.8L908.5 1012.7L910 1011.2L911.5 1009.7L913 1008L914.5 1007.6L916.2 1011.4L917.8 1016.9L919.5 1019.8L921.4 1017.5L923.2 1014.8L924.9 1016.7L926.6 1019.7L928.2 1021.5L930.1 1021L932 1020.1L933.7 1019.9L935.3 1018.9L937 1018L938.7 1016.9L940.3 1017.3L942 1018.3L943.4 1018.8L944.9 1018.4L946.3 1018.1L947.7 1018.2L949.1 1018.6L950.6 1018.3L952 1017.5L953.9 1019.5L955.8 1021.6L957.6 1019.5L959.5 1017.3L961.2 1018.9L962.8 1020.9L964.5 1022.9L965.9 1023.2L967.4 1021.7L968.8 1020.1L970.2 1019.3L971.6 1019L973.1 1018.9L974.5 1019.7L976.5 1023.6L977.8 1018.4L979 1013.1L980.5 1013.6L982 1015.7L983.2 1019.1L984.5 1021.8L986.2 1020.7L987.8 1018.3L989.5 1016.7L991.2 1017.2L992.8 1018.3L994.5 1019.5L996 1020.5L997.5 1021.3L999 1022L1000.5 1022.3L1002 1022.8L1003.5 1023.6L1005 1024L1006.5 1024.1L1008 1023.8L1009.5 1022.8L1010.8 1021.1L1012 1020.3L1013.9 1021.8L1015.8 1022.4L1017.4 1019.9L1019 1017.9L1020.8 1024.6L1022 1022.5L1023.2 1019.2L1025.1 1021.6L1027 1025.1L1028.7 1025.7L1030.3 1024.8L1032 1024.4L1033.7 1023.9L1035.3 1024L1037 1024.8L1038.2 1026.5L1039.5 1026.6L1041.4 1023.4L1043.2 1020.6L1044.5 1023.2L1045.8 1024.1L1047.4 1021.1L1049.1 1016.6L1050.8 1014.7L1052 1018.2L1053.2 1022.1L1055 1013.4L1056.6 1012.1L1058.2 1013.8L1060 1024L1061.4 1025.5L1062.8 1024.6L1064.2 1022.9L1065.6 1022.6L1067 1023.1L1068.9 1021.7L1070.8 1021.1L1072.6 1024.5L1074.5 1028.2L1076.2 1028.4L1077.8 1026.9L1079.5 1025.9L1081 1024.7L1082.5 1023.5L1084 1023.4L1085.5 1022.5L1087 1021.9L1088.5 1022.6L1090 1022.4L1091.5 1022.8L1093 1024L1094.5 1024.5L1096 1023.7L1097.5 1022.8L1099 1022.8L1100.5 1023L1102 1023.4L1103.6 1023.7L1105.1 1023.7L1106.7 1023L1108.2 1022.4L1109.8 1023.1L1111.4 1024.4L1112.9 1024.5L1114.5 1024.1L1116.1 1023.4L1117.6 1022.4L1119.2 1022.3L1120.8 1023.2L1122.3 1022.6L1123.9 1021.4L1125.4 1021.5L1127 1022.2L1128.5 1023.7L1130 1024.6L1131.5 1024.5L1133 1025L1134.5 1025.2L1136 1025.4L1137.5 1025.3L1139 1024.6L1140.5 1023.9L1142 1022.5L1143.4 1021.8L1144.9 1022.7L1146.3 1023L1147.7 1022.6L1149.1 1022.8L1150.6 1022.7L1152 1022.4L1153.4 1022.9L1154.9 1023.4L1156.3 1023.9L1157.7 1024.2L1159.1 1024.4L1160.6 1025.1L1162 1025.2L1163.6 1024.5L1165.1 1023.5L1166.7 1022.7L1168.2 1022.6L1169.5 1023.9L1170.8 1025.1L1172.4 1024.9L1174.1 1024.4L1175.8 1023.8L1177.3 1023.7L1178.9 1024.4L1180.4 1025.6L1182 1027L1183.5 1028L1185 1028.7L1186.5 1028.2L1188 1027.8L1189.5 1028L1191.2 1027.8L1192.8 1027.5L1194.5 1027.1L1196.2 1026.8L1197.8 1026.3L1199.5 1025.8L1201 1025.7L1202.5 1025.4L1204 1025.6L1205.5 1025.4L1207 1024.7L1208.5 1023.9L1210 1024.3L1211.5 1024.5L1213 1024.1L1214.5 1024.6L1216.4 1025.1L1218.2 1024.7L1220 1023.7L1221.6 1024.5L1223.2 1025.4L1224.8 1027L1226.4 1028.7L1228 1028.8L1229.4 1028L1230.9 1026.9L1232.3 1026.4L1233.7 1027.1L1235.1 1027.3L1236.6 1026.9L1238 1026.6L1239.6 1026.1L1241.1 1024.8L1242.7 1023.7L1244.2 1023.9L1245.7 1025.1L1247.2 1025.6L1248.6 1025.2L1250.1 1026L1251.5 1026.6L1253 1025.4L1254.4 1024.9L1255.9 1025.9L1257.3 1026.7L1258.7 1026.4L1260.1 1025.5L1261.6 1024.6L1263 1024.3L1264.2 1025.7L1265.5 1026.9L1267 1026L1268.5 1025.5L1270 1026.5L1271.5 1026.5L1273 1024.9L1274.4 1023.5L1275.9 1024L1277.3 1024.8L1278.7 1024.7L1280.1 1023.7L1281.6 1023.7L1283 1024.5L1284.4 1025.2L1285.9 1025.6L1287.3 1025.1L1288.7 1024.3L1290.1 1025.2L1291.6 1026.7L1293 1026.6L1294.5 1025.9L1295.9 1026.2L1297.4 1026.5L1298.8 1026.1L1300.3 1025.4L1301.8 1025.7L1303.2 1026L1304.7 1024.9L1306.1 1023.5L1307.6 1023.4L1309 1023.2L1310.5 1022.9L1312.2 1022.9L1313.8 1022.8L1315.5 1022.2L1317.4 1020.5L1319.2 1019.8L1320.5 1022.2L1321.8 1024.9L1323.4 1022L1325 1020.2L1326.5 1021.5L1328 1023.6L1329.7 1024.2L1331.3 1023.3L1333 1022.1L1334.6 1020.9L1336.1 1019L1337.7 1017.1L1339.2 1016.2L1340.5 1017.8L1341.8 1018.9L1343.5 1013.1L1345.1 1016.8L1346.8 1021.2L1348.5 1022L1349.9 1018.7L1351.4 1013.8L1352.8 1009.1L1354.2 1006.5L1355.5 1008.9L1356.8 1014.5L1358.4 1017.3L1360.1 1019.6L1361.8 1021.6L1363 1019.5L1364.2 1015.8L1365.8 1014.9L1367.4 1015.8L1368.9 1016.5L1370.5 1017L1372 1015.9L1373.5 1013.5L1375 1011.4L1376.5 1010.5L1378 1010.5L1379.2 1014.6L1380.5 1017.7L1382.4 1011L1384.2 1004.8L1386.1 1009.6L1388 1013.7L1389.5 1010L1391 1004.4L1392.5 1000.8L1394 1003.5L1395.5 1006.7L1396.8 1004.5L1398 1004.5L1399.5 1013.2L1401 1021L1402.6 1014.3L1404.2 1006.4L1405.5 1006.3L1406.8 1004.9L1408.5 986L1410.5 1000L1411.8 986.5L1413 974.9L1414.2 987.5L1415.5 1003.4L1417 1007.9L1418.5 1007.2L1419.8 1001.7L1421.2 993.3L1422.5 987.5L1424 993.9L1425.5 1001.7L1426.8 998.8L1428 995.9L1429.5 1004.6L1431 1011.1L1433 987.8L1434.2 995.3L1435.5 1003.6L1437 999.9L1438.5 989.9L1439.8 967.6L1441 952.6L1442.6 975L1444.2 998.2L1445.9 980.2L1447.5 961.2L1449 976.6L1450.5 994.1L1452.5 980L1453.8 987.3L1455 995.7L1456.2 991.6L1457.5 985.6L1458.8 985L1460.2 986L1461.5 986.3" stroke="#ff7f0e" stroke-width="2.5"/>
</g>
<path d="M116.5 518.5v5.5M284.5 518.5v5.5M452.5 518.5v5.5M620.5 518.5v5.5M789.5 518.5v5.5M957.5 518.5v5.5M1125.5 518.5v5.5M1293.5 518.5v5.5M116.5 112.5h-5.5M116.5 191.5h-5.5M116.5 270.5h-5.5M116.5 349.5h-5.5M116.5 427.5h-5.5M116.5 506.5h-5.5M116.5 1054.5v5.5M284.5 1054.5v5.5M452.5 1054.5v5.5M620.5 1054.5v5.5M789.5 1054.5v5.5M957.5 1054.5v5.5M1125.5 1054.5v5.5M1293.5 1054.5v5.5M116.5 631.5h-5.5M116.5 690.5h-5.5M116.5 748.5h-5.5M116.5 807.5h-5.5M116.5 866.5h-5.5M116.5 925.5h-5.5M116.5 983.5h-5.5M116.5 1042.5h-5.5" stroke="#000" stroke-width="1.1" fill="none"/>
<rect x="116.5" y="38.5" width="1345.0" height="480.0" fill="none" stroke="#000" stroke-width="1.1"/>
<rect x="116.5" y="575.5" width="1345.0" height="479.0" fill="none" stroke="#000" stroke-width="1.1"/>
<g opacity="0.999">
<rect x="1046.5" y="48.9" width="406.5" height="79" rx="2.8" fill="#fff" fill-opacity="0.8" stroke="#cccccc" stroke-opacity="0.8" stroke-width="1.1"/>
<circle cx="1072.3" cy="63.5" r="2.7" fill="#1f77b4"/>
<path d="M1053.4 101.5H1092" stroke="#ff7f0e" stroke-width="2.1"/>
<text x="1105" y="69.0" font-size="19.2" text-anchor="start" textLength="99.5" lengthAdjust="spacingAndGlyphs" >Raw Data</text>
<text x="1105" y="95.9" font-size="19.2" text-anchor="start" textLength="271" lengthAdjust="spacingAndGlyphs" >Butterworth Filtered Data</text>
<text x="1105" y="116.9" font-size="19.2" text-anchor="start" textLength="340" lengthAdjust="spacingAndGlyphs" >(N=6, Tc=3.3333 min, Type: low)</text>
<rect x="1046.5" y="585.9" width="406.5" height="79" rx="2.8" fill="#fff" fill-opacity="0.8" stroke="#cccccc" stroke-opacity="0.8" stroke-width="1.1"/>
<circle cx="1072.3" cy="600.5" r="2.7" fill="#1f77b4"/>
<path d="M1053.4 638.5H1092" stroke="#ff7f0e" stroke-width="2.1"/>
<text x="1105" y="606.0" font-size="19.2" text-anchor="start" textLength="99.5" lengthAdjust="spacingAndGlyphs" >Raw Data</text>
<text x="1105" y="632.9" font-size="19.2" text-anchor="start" textLength="271" lengthAdjust="spacingAndGlyphs" >Butterworth Filtered Data</text>
<text x="1105" y="653.9" font-size="19.2" text-anchor="start" textLength="340" lengthAdjust="spacingAndGlyphs" >(N=6, Tc=3.3333 min, Type: low)</text>
<text x="116.3" y="30" font-size="28.0" text-anchor="start" textLength="39.5" lengthAdjust="spacingAndGlyphs" >(a)</text>
<text x="116.3" y="567" font-size="28.0" text-anchor="start" textLength="41" lengthAdjust="spacingAndGlyphs" >(b)</text>
<text x="634.5" y="29.6" font-size="28.0" text-anchor="start" textLength="300" lengthAdjust="spacingAndGlyphs" >10.0 MHz N0000047</text>
<text x="105.4" y="120.4" font-size="23.3" text-anchor="end" textLength="15.0" lengthAdjust="spacingAndGlyphs" >2</text>
<text x="105.4" y="199.4" font-size="23.3" text-anchor="end" textLength="15.0" lengthAdjust="spacingAndGlyphs" >1</text>
<text x="105.4" y="278.4" font-size="23.3" text-anchor="end" textLength="15.0" lengthAdjust="spacingAndGlyphs" >0</text>
<text x="105.4" y="357.4" font-size="23.3" text-anchor="end" textLength="32.5" lengthAdjust="spacingAndGlyphs" >−1</text>
<text x="105.4" y="435.4" font-size="23.3" text-anchor="end" textLength="32.5" lengthAdjust="spacingAndGlyphs" >−2</text>
<text x="105.4" y="514.4" font-size="23.3" text-anchor="end" textLength="32.5" lengthAdjust="spacingAndGlyphs" >−3</text>
<text x="105.4" y="638.9" font-size="23.3" text-anchor="end" textLength="54.6" lengthAdjust="spacingAndGlyphs" >0.14</text>
<text x="105.4" y="697.9" font-size="23.3" text-anchor="end" textLength="54.6" lengthAdjust="spacingAndGlyphs" >0.12</text>
<text x="105.4" y="755.9" font-size="23.3" text-anchor="end" textLength="54.6" lengthAdjust="spacingAndGlyphs" >0.10</text>
<text x="105.4" y="814.9" font-size="23.3" text-anchor="end" textLength="54.6" lengthAdjust="spacingAndGlyphs" >0.08</text>
<text x="105.4" y="873.9" font-size="23.3" text-anchor="end" textLength="54.6" lengthAdjust="spacingAndGlyphs" >0.06</text>
<text x="105.4" y="932.9" font-size="23.3" text-anchor="end" textLength="54.6" lengthAdjust="spacingAndGlyphs" >0.04</text>
<text x="105.4" y="990.9" font-size="23.3" text-anchor="end" textLength="54.6" lengthAdjust="spacingAndGlyphs" >0.02</text>
<text x="105.4" y="1049.9" font-size="23.3" text-anchor="end" textLength="54.6" lengthAdjust="spacingAndGlyphs" >0.00</text>
<g transform="translate(113.6 1078) rotate(-30)"><text x="0" y="0" font-size="23.3" text-anchor="end" textLength="109.6" lengthAdjust="spacingAndGlyphs" >09-05 00</text></g>
<g transform="translate(281.6 1078) rotate(-30)"><text x="0" y="0" font-size="23.3" text-anchor="end" textLength="109.6" lengthAdjust="spacingAndGlyphs" >09-05 03</text></g>
<g transform="translate(449.6 1078) rotate(-30)"><text x="0" y="0" font-size="23.3" text-anchor="end" textLength="109.6" lengthAdjust="spacingAndGlyphs" >09-05 06</text></g>
<g transform="translate(617.6 1078) rotate(-30)"><text x="0" y="0" font-size="23.3" text-anchor="end" textLength="109.6" lengthAdjust="spacingAndGlyphs" >09-05 09</text></g>
<g transform="translate(786.6 1078) rotate(-30)"><text x="0" y="0" font-size="23.3" text-anchor="end" textLength="109.6" lengthAdjust="spacingAndGlyphs" >09-05 12</text></g>
<g transform="translate(954.6 1078) rotate(-30)"><text x="0" y="0" font-size="23.3" text-anchor="end" textLength="109.6" lengthAdjust="spacingAndGlyphs" >09-05 15</text></g>
<g transform="translate(1122.6 1078) rotate(-30)"><text x="0" y="0" font-size="23.3" text-anchor="end" textLength="109.6" lengthAdjust="spacingAndGlyphs" >09-05 18</text></g>
<g transform="translate(1290.6 1078) rotate(-30)"><text x="0" y="0" font-size="23.3" text-anchor="end" textLength="109.6" lengthAdjust="spacingAndGlyphs" >09-05 21</text></g>
<text x="789" y="1157.7" font-size="23.3" text-anchor="middle" textLength="49" lengthAdjust="spacingAndGlyphs" >UTC</text>
<g transform="translate(61 278.3) rotate(-90)"><text x="0" y="0" font-size="23.3" text-anchor="middle" textLength="228" lengthAdjust="spacingAndGlyphs" >Doppler Shift [Hz]</text></g>
<g transform="translate(40.5 814.7) rotate(-90)"><text x="0" y="0" font-size="23.3" text-anchor="middle" textLength="209" lengthAdjust="spacingAndGlyphs" >Peak Voltage [V]</text></g>
</g>
</svg></body></html>
